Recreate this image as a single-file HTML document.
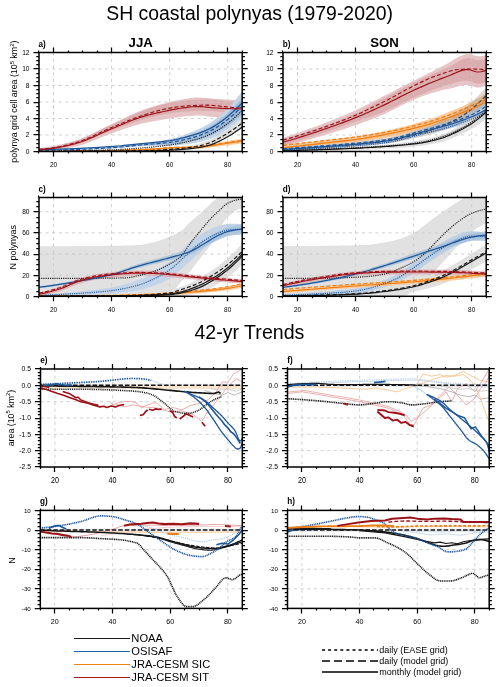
<!DOCTYPE html><html><head><meta charset="utf-8"><style>html,body{margin:0;padding:0;background:#fff}svg{display:block;will-change:transform}</style></head><body>
<svg width="500" height="687" viewBox="0 0 500 687" font-family='"Liberation Sans", sans-serif' fill="#000">
<rect width="500" height="687" fill="#fff"/>
<defs>
<clipPath id="cla"><rect x="39.0" y="52.5" width="203.20" height="99.00"/></clipPath>
<clipPath id="clb"><rect x="283.0" y="52.5" width="203.20" height="99.00"/></clipPath>
<clipPath id="clc"><rect x="39.0" y="197.5" width="203.20" height="98.80"/></clipPath>
<clipPath id="cld"><rect x="283.0" y="197.5" width="203.20" height="98.80"/></clipPath>
<clipPath id="cle"><rect x="40.5" y="369.0" width="201.80" height="98.00"/></clipPath>
<clipPath id="clf"><rect x="287.5" y="369.0" width="201.70" height="98.00"/></clipPath>
<clipPath id="clg"><rect x="40.3" y="510.4" width="202.00" height="98.00"/></clipPath>
<clipPath id="clh"><rect x="287.5" y="510.4" width="201.70" height="98.00"/></clipPath>
</defs>
<text x="249.6" y="20.4" font-size="19.4" text-anchor="middle">SH coastal polynyas (1979-2020)</text>
<text x="249.4" y="339" font-size="19.6" text-anchor="middle">42-yr Trends</text>
<text x="140.7" y="46.8" font-size="13.2" font-weight="bold" text-anchor="middle">JJA</text>
<text x="384.6" y="46.8" font-size="13.2" font-weight="bold" text-anchor="middle">SON</text>
<g clip-path="url(#cla)">
<path d="M39.00 148.20L41.57 147.90L44.14 147.55L46.72 147.17L49.29 146.76L51.86 146.32L54.43 145.86L57.01 145.35L59.58 144.81L62.15 144.22L64.72 143.59L67.29 142.93L69.87 142.23L72.44 141.49L75.01 140.72L77.58 139.91L80.15 139.01L82.73 138.02L85.30 136.95L87.87 135.81L90.44 134.62L93.02 133.39L95.59 132.12L98.16 130.84L100.73 129.54L103.30 128.26L105.88 126.98L108.45 125.74L111.02 124.53L113.59 123.34L116.16 122.11L118.74 120.86L121.31 119.59L123.88 118.31L126.45 117.04L129.03 115.79L131.60 114.57L134.17 113.39L136.74 112.26L139.31 111.20L141.89 110.22L144.46 109.29L147.03 108.40L149.60 107.55L152.17 106.74L154.75 105.97L157.32 105.24L159.89 104.55L162.46 103.89L165.04 103.22L167.61 102.55L170.18 101.91L172.75 101.29L175.32 100.70L177.90 100.15L180.47 99.65L183.04 99.22L185.61 98.84L188.18 98.46L190.76 98.11L193.33 97.81L195.90 97.60L198.47 97.50L201.05 97.54L203.62 97.72L206.19 97.99L208.76 98.28L211.33 98.56L213.91 98.76L216.48 98.94L219.05 99.12L221.62 99.29L224.19 99.45L226.77 99.59L229.34 99.72L231.91 99.86L234.48 99.99L237.06 100.11L239.63 100.23L242.20 100.35L242.20 117.67L239.63 117.70L237.06 117.70L234.48 117.69L231.91 117.65L229.34 117.60L226.77 117.53L224.19 117.45L221.62 117.33L219.05 117.20L216.48 117.05L213.91 116.89L211.33 116.69L208.76 116.43L206.19 116.14L203.62 115.87L201.05 115.67L198.47 115.58L195.90 115.61L193.33 115.73L190.76 115.92L188.18 116.14L185.61 116.37L183.04 116.59L180.47 116.86L177.90 117.17L175.32 117.53L172.75 117.92L170.18 118.34L167.61 118.78L165.04 119.23L162.46 119.69L159.89 120.14L157.32 120.58L154.75 121.03L152.17 121.49L149.60 121.96L147.03 122.46L144.46 123.00L141.89 123.58L139.31 124.23L136.74 124.93L134.17 125.68L131.60 126.47L129.03 127.29L126.45 128.15L123.88 129.02L121.31 129.92L118.74 130.82L116.16 131.73L113.59 132.64L111.02 133.54L108.45 134.49L105.88 135.49L103.30 136.53L100.73 137.59L98.16 138.67L95.59 139.75L93.02 140.81L90.44 141.84L87.87 142.83L85.30 143.77L82.73 144.64L80.15 145.42L77.58 146.11L75.01 146.72L72.44 147.29L69.87 147.82L67.29 148.32L64.72 148.79L62.15 149.22L59.58 149.61L57.01 149.96L54.43 150.27L51.86 150.55L49.29 150.80L46.72 151.02L44.14 151.22L41.57 151.38L39.00 151.50Z" fill="#e7c5c7"/>
<path d="M39.00 148.61L41.57 148.34L44.14 148.02L46.72 147.66L49.29 147.26L51.86 146.84L54.43 146.38L57.01 145.88L59.58 145.32L62.15 144.72L64.72 144.07L67.29 143.37L69.87 142.64L72.44 141.88L75.01 141.08L77.58 140.25L80.15 139.34L82.73 138.33L85.30 137.25L87.87 136.11L90.44 134.91L93.02 133.68L95.59 132.41L98.16 131.13L100.73 129.85L103.30 128.58L105.88 127.33L108.45 126.11L111.02 124.93L113.59 123.79L116.16 122.63L118.74 121.46L121.31 120.28L123.88 119.10L126.45 117.93L129.03 116.78L131.60 115.64L134.17 114.53L136.74 113.46L139.31 112.43L141.89 111.44L144.46 110.48L147.03 109.53L149.60 108.61L152.17 107.71L154.75 106.86L157.32 106.05L159.89 105.30L162.46 104.62L165.04 104.00L167.61 103.43L170.18 102.87L172.75 102.34L175.32 101.85L177.90 101.40L180.47 101.01L183.04 100.70L185.61 100.46L188.18 100.23L190.76 100.02L193.33 99.83L195.90 99.67L198.47 99.53L201.05 99.43L203.62 99.38L206.19 99.36L208.76 99.42L211.33 99.56L213.91 99.76L216.48 100.00L219.05 100.28L221.62 100.56L224.19 100.84L226.77 101.09L229.34 101.31L231.91 101.53L234.48 101.75L237.06 101.97L239.63 102.19L242.20 102.41L242.20 113.96L239.63 113.74L237.06 113.52L234.48 113.30L231.91 113.08L229.34 112.86L226.77 112.64L224.19 112.39L221.62 112.11L219.05 111.83L216.48 111.55L213.91 111.31L211.33 111.11L208.76 110.97L206.19 110.91L203.62 110.92L201.05 110.97L198.47 111.03L195.90 111.12L193.33 111.22L190.76 111.34L188.18 111.46L185.61 111.59L183.04 111.72L180.47 111.92L177.90 112.18L175.32 112.50L172.75 112.86L170.18 113.26L167.61 113.68L165.04 114.12L162.46 114.60L159.89 115.15L157.32 115.74L154.75 116.38L152.17 117.05L149.60 117.74L147.03 118.45L144.46 119.17L141.89 119.90L139.31 120.65L136.74 121.44L134.17 122.26L131.60 123.13L129.03 124.01L126.45 124.93L123.88 125.86L121.31 126.81L118.74 127.77L116.16 128.74L113.59 129.70L111.02 130.67L108.45 131.68L105.88 132.74L103.30 133.84L100.73 134.97L98.16 136.11L95.59 137.25L93.02 138.37L90.44 139.47L87.87 140.53L85.30 141.53L82.73 142.47L80.15 143.33L77.58 144.09L75.01 144.77L72.44 145.43L69.87 146.05L67.29 146.63L64.72 147.18L62.15 147.68L59.58 148.14L57.01 148.55L54.43 148.91L51.86 149.22L49.29 149.50L46.72 149.75L44.14 149.96L41.57 150.13L39.00 150.26Z" fill="#d9a6a9" fill-opacity="0.8"/>
<path d="M39.00 150.01L41.57 150.01L44.14 150.00L46.72 149.97L49.29 149.94L51.86 149.90L54.43 149.85L57.01 149.79L59.58 149.72L62.15 149.65L64.72 149.57L67.29 149.48L69.87 149.38L72.44 149.28L75.01 149.17L77.58 149.06L80.15 148.94L82.73 148.81L85.30 148.68L87.87 148.55L90.44 148.41L93.02 148.26L95.59 148.12L98.16 147.97L100.73 147.81L103.30 147.65L105.88 147.49L108.45 147.33L111.02 147.16L113.59 146.98L116.16 146.75L118.74 146.48L121.31 146.18L123.88 145.85L126.45 145.50L129.03 145.14L131.60 144.76L134.17 144.39L136.74 144.02L139.31 143.66L141.89 143.33L144.46 143.00L147.03 142.69L149.60 142.38L152.17 142.08L154.75 141.76L157.32 141.43L159.89 141.04L162.46 140.61L165.04 140.13L167.61 139.60L170.18 139.01L172.75 138.36L175.32 137.65L177.90 136.87L180.47 136.05L183.04 135.18L185.61 134.28L188.18 133.34L190.76 132.37L193.33 131.37L195.90 130.33L198.47 129.22L201.05 127.99L203.62 126.66L206.19 125.23L208.76 123.72L211.33 122.11L213.91 120.35L216.48 118.44L219.05 116.38L221.62 114.19L224.19 111.86L226.77 109.37L229.34 106.71L231.91 103.90L234.48 100.95L237.06 97.85L239.63 94.63L242.20 91.27L242.20 120.98L239.63 122.88L237.06 124.69L234.48 126.41L231.91 128.04L229.34 129.60L226.77 131.09L224.19 132.52L221.62 133.90L219.05 135.21L216.48 136.44L213.91 137.57L211.33 138.58L208.76 139.47L206.19 140.30L203.62 141.06L201.05 141.76L198.47 142.37L195.90 142.88L193.33 143.33L190.76 143.75L188.18 144.15L185.61 144.51L183.04 144.83L180.47 145.10L177.90 145.33L175.32 145.50L172.75 145.62L170.18 145.70L167.61 145.73L165.04 145.75L162.46 145.76L159.89 145.77L157.32 145.80L154.75 145.85L152.17 145.91L149.60 145.97L147.03 146.05L144.46 146.13L141.89 146.24L139.31 146.38L136.74 146.54L134.17 146.73L131.60 146.94L129.03 147.15L126.45 147.37L123.88 147.60L121.31 147.81L118.74 148.01L116.16 148.19L113.59 148.35L111.02 148.47L108.45 148.59L105.88 148.70L103.30 148.81L100.73 148.92L98.16 149.03L95.59 149.13L93.02 149.24L90.44 149.34L87.87 149.44L85.30 149.54L82.73 149.63L80.15 149.72L77.58 149.81L75.01 149.89L72.44 149.97L69.87 150.04L67.29 150.11L64.72 150.18L62.15 150.24L59.58 150.29L57.01 150.34L54.43 150.38L51.86 150.42L49.29 150.45L46.72 150.48L44.14 150.50L41.57 150.51L39.00 150.51Z" fill="#c4d5e8"/>
<path d="M39.00 150.10L41.57 150.09L44.14 150.08L46.72 150.06L49.29 150.02L51.86 149.99L54.43 149.94L57.01 149.88L59.58 149.82L62.15 149.75L64.72 149.67L67.29 149.59L69.87 149.50L72.44 149.40L75.01 149.30L77.58 149.19L80.15 149.08L82.73 148.96L85.30 148.84L87.87 148.71L90.44 148.58L93.02 148.44L95.59 148.30L98.16 148.16L100.73 148.02L103.30 147.87L105.88 147.72L108.45 147.56L111.02 147.41L113.59 147.24L116.16 147.02L118.74 146.77L121.31 146.49L123.88 146.18L126.45 145.86L129.03 145.52L131.60 145.18L134.17 144.84L136.74 144.51L139.31 144.20L141.89 143.90L144.46 143.62L147.03 143.36L149.60 143.10L152.17 142.84L154.75 142.58L157.32 142.30L159.89 142.00L162.46 141.65L165.04 141.27L167.61 140.85L170.18 140.39L172.75 139.86L175.32 139.27L177.90 138.63L180.47 137.93L183.04 137.19L185.61 136.41L188.18 135.59L190.76 134.74L193.33 133.85L195.90 132.93L198.47 131.94L201.05 130.84L203.62 129.63L206.19 128.34L208.76 126.97L211.33 125.51L213.91 123.91L216.48 122.16L219.05 120.28L221.62 118.29L224.19 116.19L226.77 113.95L229.34 111.58L231.91 109.08L234.48 106.46L237.06 103.72L239.63 100.86L242.20 97.88L242.20 114.38L239.63 116.65L237.06 118.83L234.48 120.90L231.91 122.87L229.34 124.74L226.77 126.51L224.19 128.20L221.62 129.79L219.05 131.30L216.48 132.71L213.91 134.01L211.33 135.18L208.76 136.22L206.19 137.19L203.62 138.09L201.05 138.91L198.47 139.65L195.90 140.28L193.33 140.84L190.76 141.38L188.18 141.90L185.61 142.38L183.04 142.82L180.47 143.22L177.90 143.57L175.32 143.87L172.75 144.12L170.18 144.32L167.61 144.48L165.04 144.60L162.46 144.72L159.89 144.82L157.32 144.92L154.75 145.03L152.17 145.15L149.60 145.26L147.03 145.38L144.46 145.52L141.89 145.67L139.31 145.85L136.74 146.05L134.17 146.27L131.60 146.51L129.03 146.76L126.45 147.01L123.88 147.26L121.31 147.50L118.74 147.72L116.16 147.92L113.59 148.09L111.02 148.23L108.45 148.35L105.88 148.47L103.30 148.59L100.73 148.71L98.16 148.83L95.59 148.95L93.02 149.06L90.44 149.17L87.87 149.28L85.30 149.38L82.73 149.48L80.15 149.58L77.58 149.67L75.01 149.76L72.44 149.85L69.87 149.93L67.29 150.00L64.72 150.07L62.15 150.14L59.58 150.19L57.01 150.25L54.43 150.29L51.86 150.33L49.29 150.37L46.72 150.39L44.14 150.41L41.57 150.42L39.00 150.43Z" fill="#93b2d4" fill-opacity="0.75"/>
<path d="M39.00 150.92L41.57 150.92L44.14 150.92L46.72 150.92L49.29 150.91L51.86 150.91L54.43 150.90L57.01 150.89L59.58 150.88L62.15 150.87L64.72 150.86L67.29 150.85L69.87 150.83L72.44 150.82L75.01 150.80L77.58 150.78L80.15 150.77L82.73 150.74L85.30 150.72L87.87 150.70L90.44 150.68L93.02 150.65L95.59 150.62L98.16 150.59L100.73 150.56L103.30 150.53L105.88 150.50L108.45 150.47L111.02 150.43L113.59 150.39L116.16 150.36L118.74 150.32L121.31 150.28L123.88 150.23L126.45 150.19L129.03 150.15L131.60 150.10L134.17 150.05L136.74 150.00L139.31 149.95L141.89 149.90L144.46 149.82L147.03 149.72L149.60 149.60L152.17 149.46L154.75 149.30L157.32 149.13L159.89 148.95L162.46 148.76L165.04 148.56L167.61 148.36L170.18 148.16L172.75 147.93L175.32 147.67L177.90 147.37L180.47 147.05L183.04 146.69L185.61 146.29L188.18 145.86L190.76 145.40L193.33 144.91L195.90 144.37L198.47 143.76L201.05 143.03L203.62 142.21L206.19 141.30L208.76 140.31L211.33 139.24L213.91 137.96L216.48 136.49L219.05 134.91L221.62 133.27L224.19 131.61L226.77 129.88L229.34 128.09L231.91 126.23L234.48 124.30L237.06 122.30L239.63 120.23L242.20 118.09L242.20 127.99L239.63 129.74L237.06 131.44L234.48 133.07L231.91 134.63L229.34 136.14L226.77 137.59L224.19 138.99L221.62 140.32L219.05 141.65L216.48 142.93L213.91 144.12L211.33 145.13L208.76 145.93L206.19 146.66L203.62 147.30L201.05 147.86L198.47 148.32L195.90 148.68L193.33 148.96L190.76 149.22L188.18 149.45L185.61 149.66L183.04 149.85L180.47 150.03L177.90 150.20L175.32 150.35L172.75 150.50L170.18 150.64L167.61 150.79L165.04 150.93L162.46 151.06L159.89 151.19L157.32 151.32L154.75 151.43L152.17 151.53L149.60 151.61L147.03 151.68L144.46 151.72L141.89 151.75L139.31 151.75L136.74 151.76L134.17 151.76L131.60 151.76L129.03 151.76L126.45 151.76L123.88 151.76L121.31 151.76L118.74 151.76L116.16 151.76L113.59 151.76L111.02 151.76L108.45 151.76L105.88 151.76L103.30 151.76L100.73 151.76L98.16 151.76L95.59 151.76L93.02 151.76L90.44 151.76L87.87 151.76L85.30 151.76L82.73 151.76L80.15 151.76L77.58 151.76L75.01 151.75L72.44 151.75L69.87 151.75L67.29 151.75L64.72 151.75L62.15 151.75L59.58 151.75L57.01 151.75L54.43 151.75L51.86 151.75L49.29 151.75L46.72 151.75L44.14 151.75L41.57 151.75L39.00 151.75Z" fill="#e0e0e0"/>
<path d="M39.00 150.92L41.57 150.92L44.14 150.92L46.72 150.91L49.29 150.90L51.86 150.88L54.43 150.87L57.01 150.85L59.58 150.83L62.15 150.80L64.72 150.78L67.29 150.75L69.87 150.72L72.44 150.68L75.01 150.65L77.58 150.61L80.15 150.57L82.73 150.53L85.30 150.49L87.87 150.44L90.44 150.39L93.02 150.35L95.59 150.30L98.16 150.24L100.73 150.19L103.30 150.14L105.88 150.08L108.45 150.02L111.02 149.97L113.59 149.91L116.16 149.84L118.74 149.77L121.31 149.69L123.88 149.60L126.45 149.51L129.03 149.41L131.60 149.31L134.17 149.19L136.74 149.08L139.31 148.96L141.89 148.83L144.46 148.69L147.03 148.56L149.60 148.41L152.17 148.26L154.75 148.10L157.32 147.94L159.89 147.75L162.46 147.48L165.04 147.19L167.61 146.94L170.18 146.77L172.75 146.65L175.32 146.55L177.90 146.47L180.47 146.39L183.04 146.31L185.61 146.23L188.18 146.15L190.76 146.05L193.33 145.93L195.90 145.79L198.47 145.58L201.05 145.29L203.62 144.95L206.19 144.58L208.76 144.20L211.33 143.82L213.91 143.40L216.48 142.96L219.05 142.51L221.62 142.06L224.19 141.62L226.77 141.19L229.34 140.75L231.91 140.31L234.48 139.87L237.06 139.43L239.63 138.99L242.20 138.55L242.20 143.50L239.63 143.83L237.06 144.17L234.48 144.50L231.91 144.83L229.34 145.17L226.77 145.50L224.19 145.83L221.62 146.17L219.05 146.51L216.48 146.86L213.91 147.21L211.33 147.52L208.76 147.81L206.19 148.10L203.62 148.38L201.05 148.63L198.47 148.83L195.90 148.95L193.33 149.01L190.76 149.05L188.18 149.07L185.61 149.09L183.04 149.10L180.47 149.11L177.90 149.12L175.32 149.15L172.75 149.19L170.18 149.26L167.61 149.37L165.04 149.58L162.46 149.82L159.89 150.04L157.32 150.18L154.75 150.29L152.17 150.40L149.60 150.50L147.03 150.60L144.46 150.69L141.89 150.78L139.31 150.86L136.74 150.94L134.17 151.01L131.60 151.07L129.03 151.13L126.45 151.19L123.88 151.24L121.31 151.28L118.74 151.32L116.16 151.35L113.59 151.38L111.02 151.40L108.45 151.42L105.88 151.44L103.30 151.46L100.73 151.48L98.16 151.49L95.59 151.51L93.02 151.53L90.44 151.55L87.87 151.57L85.30 151.58L82.73 151.60L80.15 151.61L77.58 151.63L75.01 151.64L72.44 151.66L69.87 151.67L67.29 151.68L64.72 151.69L62.15 151.70L59.58 151.71L57.01 151.72L54.43 151.73L51.86 151.73L49.29 151.74L46.72 151.74L44.14 151.75L41.57 151.75L39.00 151.75Z" fill="#f9cd9f"/>
<path d="M53.51 52.50V151.50M111.57 52.50V151.50M169.63 52.50V151.50M227.69 52.50V151.50M39.00 135.00H242.20M39.00 118.50H242.20M39.00 102.00H242.20M39.00 85.50H242.20M39.00 69.00H242.20" stroke="#c8c8c8" stroke-width="0.85" stroke-dasharray="3 3.6" fill="none"/>
<path d="M39.00 151.34L41.57 151.33L44.14 151.33L46.72 151.33L49.29 151.32L51.86 151.31L54.43 151.30L57.01 151.28L59.58 151.27L62.15 151.25L64.72 151.23L67.29 151.21L69.87 151.19L72.44 151.17L75.01 151.15L77.58 151.12L80.15 151.09L82.73 151.06L85.30 151.03L87.87 151.00L90.44 150.97L93.02 150.94L95.59 150.90L98.16 150.87L100.73 150.83L103.30 150.80L105.88 150.76L108.45 150.72L111.02 150.68L113.59 150.64L116.16 150.60L118.74 150.54L121.31 150.48L123.88 150.42L126.45 150.35L129.03 150.27L131.60 150.19L134.17 150.10L136.74 150.01L139.31 149.91L141.89 149.80L144.46 149.69L147.03 149.58L149.60 149.46L152.17 149.33L154.75 149.20L157.32 149.06L159.89 148.89L162.46 148.65L165.04 148.39L167.61 148.16L170.18 148.01L172.75 147.92L175.32 147.85L177.90 147.79L180.47 147.75L183.04 147.70L185.61 147.66L188.18 147.61L190.76 147.55L193.33 147.47L195.90 147.37L198.47 147.20L201.05 146.96L203.62 146.67L206.19 146.34L208.76 146.00L211.33 145.67L213.91 145.30L216.48 144.91L219.05 144.51L221.62 144.11L224.19 143.73L226.77 143.34L229.34 142.96L231.91 142.57L234.48 142.18L237.06 141.80L239.63 141.41L242.20 141.02" fill="none" stroke="#ee7d14" stroke-width="1.2" stroke-linejoin="round"/>
<path d="M39.00 151.09L41.57 151.09L44.14 151.08L46.72 151.08L49.29 151.07L51.86 151.06L54.43 151.04L57.01 151.03L59.58 151.01L62.15 150.99L64.72 150.97L67.29 150.95L69.87 150.93L72.44 150.90L75.01 150.87L77.58 150.84L80.15 150.81L82.73 150.78L85.30 150.75L87.87 150.71L90.44 150.68L93.02 150.64L95.59 150.60L98.16 150.56L100.73 150.52L103.30 150.48L105.88 150.44L108.45 150.40L111.02 150.35L113.59 150.31L116.16 150.26L118.74 150.20L121.31 150.14L123.88 150.07L126.45 149.99L129.03 149.91L131.60 149.82L134.17 149.73L136.74 149.63L139.31 149.53L141.89 149.42L144.46 149.31L147.03 149.18L149.60 149.06L152.17 148.93L154.75 148.79L157.32 148.65L159.89 148.48L162.46 148.24L165.04 147.97L167.61 147.74L170.18 147.60L172.75 147.51L175.32 147.44L177.90 147.38L180.47 147.34L183.04 147.29L185.61 147.25L188.18 147.20L190.76 147.14L193.33 147.06L195.90 146.96L198.47 146.79L201.05 146.54L203.62 146.23L206.19 145.88L208.76 145.52L211.33 145.16L213.91 144.76L216.48 144.33L219.05 143.88L221.62 143.46L224.19 143.05L226.77 142.65L229.34 142.26L231.91 141.87L234.48 141.48L237.06 141.10L239.63 140.73L242.20 140.36" fill="none" stroke="#ee7d14" stroke-width="1.2" stroke-dasharray="4 2.2" stroke-linejoin="round"/>
<path d="M39.00 151.50L41.57 151.50L44.14 151.50L46.72 151.50L49.29 151.50L51.86 151.49L54.43 151.49L57.01 151.49L59.58 151.48L62.15 151.48L64.72 151.47L67.29 151.47L69.87 151.46L72.44 151.46L75.01 151.45L77.58 151.44L80.15 151.43L82.73 151.42L85.30 151.42L87.87 151.41L90.44 151.40L93.02 151.39L95.59 151.37L98.16 151.36L100.73 151.35L103.30 151.34L105.88 151.32L108.45 151.31L111.02 151.29L113.59 151.28L116.16 151.26L118.74 151.25L121.31 151.23L123.88 151.21L126.45 151.20L129.03 151.18L131.60 151.16L134.17 151.14L136.74 151.12L139.31 151.10L141.89 151.08L144.46 151.04L147.03 151.00L149.60 150.95L152.17 150.88L154.75 150.81L157.32 150.73L159.89 150.65L162.46 150.55L165.04 150.45L167.61 150.35L170.18 150.24L172.75 150.11L175.32 149.97L177.90 149.80L180.47 149.61L183.04 149.39L185.61 149.16L188.18 148.91L190.76 148.63L193.33 148.33L195.90 148.02L198.47 147.64L201.05 147.17L203.62 146.63L206.19 146.01L208.76 145.33L211.33 144.57L213.91 143.64L216.48 142.55L219.05 141.35L221.62 140.08L224.19 138.75L226.77 137.34L229.34 135.83L231.91 134.24L234.48 132.56L237.06 130.79L239.63 128.94L242.20 127.00" fill="none" stroke="#161616" stroke-width="1.2" stroke-linejoin="round"/>
<path d="M39.00 151.34L41.57 151.33L44.14 151.33L46.72 151.33L49.29 151.33L51.86 151.33L54.43 151.32L57.01 151.32L59.58 151.32L62.15 151.31L64.72 151.31L67.29 151.30L69.87 151.29L72.44 151.29L75.01 151.28L77.58 151.27L80.15 151.26L82.73 151.25L85.30 151.24L87.87 151.23L90.44 151.22L93.02 151.20L95.59 151.19L98.16 151.18L100.73 151.16L103.30 151.15L105.88 151.13L108.45 151.11L111.02 151.10L113.59 151.08L116.16 151.06L118.74 151.04L121.31 151.02L123.88 151.00L126.45 150.98L129.03 150.95L131.60 150.93L134.17 150.90L136.74 150.88L139.31 150.85L141.89 150.82L144.46 150.77L147.03 150.70L149.60 150.60L152.17 150.49L154.75 150.37L157.32 150.23L159.89 150.07L162.46 149.91L165.04 149.75L167.61 149.57L170.18 149.40L172.75 149.21L175.32 149.01L177.90 148.78L180.47 148.54L183.04 148.27L185.61 147.98L188.18 147.66L190.76 147.31L193.33 146.93L195.90 146.53L198.47 146.04L201.05 145.45L203.62 144.75L206.19 143.98L208.76 143.12L211.33 142.18L213.91 141.04L216.48 139.71L219.05 138.28L221.62 136.80L224.19 135.30L226.77 133.74L229.34 132.12L231.91 130.43L234.48 128.68L237.06 126.87L239.63 124.99L242.20 123.04" fill="none" stroke="#161616" stroke-width="1.2" stroke-dasharray="4 2.2" stroke-linejoin="round"/>
<path d="M39.00 151.09L41.57 151.09L44.14 151.08L46.72 151.07L49.29 151.06L51.86 151.04L54.43 151.02L57.01 150.99L59.58 150.97L62.15 150.94L64.72 150.90L67.29 150.87L69.87 150.83L72.44 150.78L75.01 150.74L77.58 150.69L80.15 150.64L82.73 150.59L85.30 150.53L87.87 150.47L90.44 150.41L93.02 150.35L95.59 150.29L98.16 150.22L100.73 150.15L103.30 150.08L105.88 150.01L108.45 149.94L111.02 149.87L113.59 149.78L116.16 149.68L118.74 149.56L121.31 149.42L123.88 149.26L126.45 149.10L129.03 148.92L131.60 148.73L134.17 148.54L136.74 148.34L139.31 148.14L141.89 147.93L144.46 147.72L147.03 147.50L149.60 147.27L152.17 147.03L154.75 146.77L157.32 146.50L159.89 146.22L162.46 145.92L165.04 145.60L167.61 145.26L170.18 144.90L172.75 144.52L175.32 144.10L177.90 143.64L180.47 143.15L183.04 142.62L185.61 142.06L188.18 141.47L190.76 140.85L193.33 140.19L195.90 139.50L198.47 138.74L201.05 137.89L203.62 136.95L206.19 135.93L208.76 134.84L211.33 133.68L213.91 132.39L216.48 130.96L219.05 129.41L221.62 127.75L224.19 125.98L226.77 124.08L229.34 122.07L231.91 119.95L234.48 117.70L237.06 115.33L239.63 112.85L242.20 110.25" fill="none" stroke="#161616" stroke-width="1.2" stroke-dasharray="1.1 1.1" stroke-linejoin="round"/>
<path d="M39.00 149.44L41.57 149.43L44.14 149.42L46.72 149.39L49.29 149.36L51.86 149.31L54.43 149.26L57.01 149.20L59.58 149.13L62.15 149.05L64.72 148.96L67.29 148.87L69.87 148.77L72.44 148.67L75.01 148.56L77.58 148.44L80.15 148.32L82.73 148.19L85.30 148.06L87.87 147.92L90.44 147.78L93.02 147.64L95.59 147.50L98.16 147.35L100.73 147.20L103.30 147.05L105.88 146.89L108.45 146.74L111.02 146.58L113.59 146.42L116.16 146.22L118.74 146.00L121.31 145.75L123.88 145.49L126.45 145.22L129.03 144.93L131.60 144.64L134.17 144.36L136.74 144.07L139.31 143.80L141.89 143.53L144.46 143.28L147.03 143.05L149.60 142.81L152.17 142.58L154.75 142.34L157.32 142.09L159.89 141.83L162.46 141.54L165.04 141.24L167.61 140.90L170.18 140.53L172.75 140.10L175.32 139.61L177.90 139.07L180.47 138.47L183.04 137.83L185.61 137.16L188.18 136.44L190.76 135.69L193.33 134.92L195.90 134.13L198.47 133.29L201.05 132.37L203.62 131.38L206.19 130.30L208.76 129.13L211.33 127.85L213.91 126.40L216.48 124.77L219.05 123.01L221.62 121.16L224.19 119.23L226.77 117.20L229.34 115.07L231.91 112.83L234.48 110.49L237.06 108.04L239.63 105.48L242.20 102.82" fill="none" stroke="#1d5699" stroke-width="1.25" stroke-linejoin="round"/>
<path d="M39.00 150.26L41.57 150.26L44.14 150.25L46.72 150.22L49.29 150.20L51.86 150.16L54.43 150.12L57.01 150.06L59.58 150.01L62.15 149.94L64.72 149.87L67.29 149.79L69.87 149.71L72.44 149.62L75.01 149.53L77.58 149.43L80.15 149.33L82.73 149.22L85.30 149.11L87.87 148.99L90.44 148.87L93.02 148.75L95.59 148.63L98.16 148.50L100.73 148.37L103.30 148.23L105.88 148.09L108.45 147.96L111.02 147.82L113.59 147.66L116.16 147.47L118.74 147.25L121.31 147.00L123.88 146.72L126.45 146.44L129.03 146.14L131.60 145.85L134.17 145.56L136.74 145.28L139.31 145.02L141.89 144.78L144.46 144.57L147.03 144.37L149.60 144.18L152.17 143.99L154.75 143.81L157.32 143.61L159.89 143.41L162.46 143.18L165.04 142.94L167.61 142.66L170.18 142.36L172.75 141.99L175.32 141.57L177.90 141.10L180.47 140.58L183.04 140.01L185.61 139.40L188.18 138.75L190.76 138.06L193.33 137.35L195.90 136.61L198.47 135.79L201.05 134.88L203.62 133.86L206.19 132.77L208.76 131.59L211.33 130.35L213.91 128.96L216.48 127.44L219.05 125.79L221.62 124.04L224.19 122.19L226.77 120.23L229.34 118.16L231.91 115.97L234.48 113.68L237.06 111.27L239.63 108.75L242.20 106.12" fill="none" stroke="#1d5699" stroke-width="1.2" stroke-dasharray="4 2.2" stroke-linejoin="round"/>
<path d="M39.00 149.85L41.57 149.64L44.14 149.38L46.72 149.10L49.29 148.78L51.86 148.43L54.43 148.06L57.01 147.66L59.58 147.21L62.15 146.72L64.72 146.19L67.29 145.63L69.87 145.03L72.44 144.39L75.01 143.72L77.58 143.01L80.15 142.22L82.73 141.33L85.30 140.36L87.87 139.32L90.44 138.23L93.02 137.10L95.59 135.93L98.16 134.75L100.73 133.57L103.30 132.39L105.88 131.24L108.45 130.11L111.02 129.04L113.59 127.99L116.16 126.92L118.74 125.84L121.31 124.75L123.88 123.67L126.45 122.59L129.03 121.54L131.60 120.52L134.17 119.53L136.74 118.60L139.31 117.72L141.89 116.90L144.46 116.14L147.03 115.43L149.60 114.76L152.17 114.12L154.75 113.50L157.32 112.91L159.89 112.35L162.46 111.79L165.04 111.22L167.61 110.67L170.18 110.12L172.75 109.60L175.32 109.11L177.90 108.66L180.47 108.26L183.04 107.91L185.61 107.60L188.18 107.30L190.76 107.02L193.33 106.77L195.90 106.61L198.47 106.54L201.05 106.60L203.62 106.80L206.19 107.06L208.76 107.36L211.33 107.62L213.91 107.82L216.48 108.00L219.05 108.16L221.62 108.31L224.19 108.45L226.77 108.56L229.34 108.66L231.91 108.75L234.48 108.84L237.06 108.91L239.63 108.97L242.20 109.01" fill="none" stroke="#9c1219" stroke-width="1.15" stroke-linejoin="round"/>
<path d="M39.00 149.44L41.57 149.24L44.14 148.99L46.72 148.70L49.29 148.38L51.86 148.03L54.43 147.65L57.01 147.22L59.58 146.73L62.15 146.20L64.72 145.62L67.29 145.00L69.87 144.34L72.44 143.65L75.01 142.93L77.58 142.17L80.15 141.33L82.73 140.40L85.30 139.39L87.87 138.32L90.44 137.19L93.02 136.03L95.59 134.83L98.16 133.62L100.73 132.41L103.30 131.21L105.88 130.03L108.45 128.89L111.02 127.80L113.59 126.75L116.16 125.68L118.74 124.61L121.31 123.54L123.88 122.48L126.45 121.43L129.03 120.40L131.60 119.38L134.17 118.40L136.74 117.45L139.31 116.54L141.89 115.67L144.46 114.83L147.03 113.99L149.60 113.17L152.17 112.38L154.75 111.62L157.32 110.90L159.89 110.22L162.46 109.61L165.04 109.06L167.61 108.56L170.18 108.07L172.75 107.60L175.32 107.17L177.90 106.79L180.47 106.47L183.04 106.21L185.61 106.02L188.18 105.84L190.76 105.68L193.33 105.53L195.90 105.39L198.47 105.28L201.05 105.20L203.62 105.15L206.19 105.14L208.76 105.19L211.33 105.33L213.91 105.53L216.48 105.78L219.05 106.05L221.62 106.34L224.19 106.62L226.77 106.87L229.34 107.09L231.91 107.31L234.48 107.53L237.06 107.75L239.63 107.97L242.20 108.19" fill="none" stroke="#9c1219" stroke-width="1.15" stroke-dasharray="4 2.2" stroke-linejoin="round"/>
</g>
<rect x="39.00" y="52.50" width="203.20" height="99.00" fill="none" stroke="#000" stroke-width="1.5"/>
<path d="M38.50 151.50v2.0M38.50 52.50v-2.0M53.50 151.50v5M53.50 52.50v-5M68.50 151.50v2.0M68.50 52.50v-2.0M82.50 151.50v2.0M82.50 52.50v-2.0M97.50 151.50v2.0M97.50 52.50v-2.0M111.50 151.50v5M111.50 52.50v-5M126.50 151.50v2.0M126.50 52.50v-2.0M140.50 151.50v2.0M140.50 52.50v-2.0M155.50 151.50v2.0M155.50 52.50v-2.0M169.50 151.50v5M169.50 52.50v-5M184.50 151.50v2.0M184.50 52.50v-2.0M198.50 151.50v2.0M198.50 52.50v-2.0M213.50 151.50v2.0M213.50 52.50v-2.0M227.50 151.50v5M227.50 52.50v-5M242.50 151.50v2.0M242.50 52.50v-2.0M39.00 151.50h-5.5M242.20 151.50h5.5M39.00 147.50h-2.7M242.20 147.50h2.7M39.00 143.50h-2.7M242.20 143.50h2.7M39.00 139.50h-2.7M242.20 139.50h2.7M39.00 134.50h-5.5M242.20 134.50h5.5M39.00 130.50h-2.7M242.20 130.50h2.7M39.00 126.50h-2.7M242.20 126.50h2.7M39.00 122.50h-2.7M242.20 122.50h2.7M39.00 118.50h-5.5M242.20 118.50h5.5M39.00 114.50h-2.7M242.20 114.50h2.7M39.00 110.50h-2.7M242.20 110.50h2.7M39.00 106.50h-2.7M242.20 106.50h2.7M39.00 102.50h-5.5M242.20 102.50h5.5M39.00 97.50h-2.7M242.20 97.50h2.7M39.00 93.50h-2.7M242.20 93.50h2.7M39.00 89.50h-2.7M242.20 89.50h2.7M39.00 85.50h-5.5M242.20 85.50h5.5M39.00 81.50h-2.7M242.20 81.50h2.7M39.00 77.50h-2.7M242.20 77.50h2.7M39.00 73.50h-2.7M242.20 73.50h2.7M39.00 68.50h-5.5M242.20 68.50h5.5M39.00 64.50h-2.7M242.20 64.50h2.7M39.00 60.50h-2.7M242.20 60.50h2.7M39.00 56.50h-2.7M242.20 56.50h2.7M39.00 52.50h-5.5M242.20 52.50h5.5" stroke="#000" stroke-width="1.25" fill="none"/>
<text transform="translate(53.51 166.90) scale(0.82 1)" font-size="7.9" text-anchor="middle">20</text>
<text transform="translate(111.57 166.90) scale(0.82 1)" font-size="7.9" text-anchor="middle">40</text>
<text transform="translate(169.63 166.90) scale(0.82 1)" font-size="7.9" text-anchor="middle">60</text>
<text transform="translate(227.69 166.90) scale(0.82 1)" font-size="7.9" text-anchor="middle">80</text>
<text x="29.50" y="153.88" font-size="6.6" text-anchor="end">0</text>
<text x="29.50" y="137.38" font-size="6.6" text-anchor="end">2</text>
<text x="29.50" y="120.88" font-size="6.6" text-anchor="end">4</text>
<text x="29.50" y="104.38" font-size="6.6" text-anchor="end">6</text>
<text x="29.50" y="87.88" font-size="6.6" text-anchor="end">8</text>
<text x="29.50" y="71.38" font-size="6.6" text-anchor="end">10</text>
<text x="29.50" y="54.88" font-size="6.6" text-anchor="end">12</text>
<g clip-path="url(#clb)">
<path d="M283.00 137.72L285.57 136.91L288.14 136.09L290.72 135.25L293.29 134.40L295.86 133.54L298.43 132.67L301.01 131.78L303.58 130.88L306.15 129.97L308.72 129.05L311.29 128.11L313.87 127.16L316.44 126.21L319.01 125.24L321.58 124.26L324.15 123.28L326.73 122.28L329.30 121.27L331.87 120.25L334.44 119.22L337.02 118.18L339.59 117.12L342.16 116.06L344.73 114.97L347.30 113.88L349.88 112.76L352.45 111.64L355.02 110.50L357.59 109.33L360.16 108.11L362.74 106.86L365.31 105.57L367.88 104.26L370.45 102.93L373.03 101.60L375.60 100.26L378.17 98.93L380.74 97.62L383.31 96.32L385.89 95.02L388.46 93.71L391.03 92.38L393.60 91.04L396.17 89.69L398.75 88.35L401.32 87.01L403.89 85.68L406.46 84.36L409.04 83.06L411.61 81.78L414.18 80.53L416.75 79.28L419.32 78.02L421.90 76.73L424.47 75.43L427.04 74.11L429.61 72.79L432.18 71.46L434.76 70.14L437.33 68.82L439.90 67.51L442.47 66.21L445.05 64.87L447.62 63.46L450.19 61.96L452.76 60.36L455.33 58.78L457.91 57.34L460.48 56.05L463.05 54.97L465.62 54.20L468.19 53.85L470.77 54.29L473.34 55.27L475.91 56.12L478.48 56.32L481.06 56.14L483.63 55.69L486.20 54.98L486.20 85.50L483.63 86.58L481.06 87.26L478.48 87.58L475.91 87.45L473.34 86.62L470.77 85.63L468.19 84.99L465.62 84.95L463.05 85.20L460.48 85.70L457.91 86.39L455.33 87.17L452.76 87.88L450.19 88.49L447.62 88.97L445.05 89.47L442.47 90.09L439.90 90.78L437.33 91.50L434.76 92.25L432.18 93.03L429.61 93.84L427.04 94.68L424.47 95.56L421.90 96.49L419.32 97.46L416.75 98.47L414.18 99.53L411.61 100.67L409.04 101.85L406.46 103.07L403.89 104.33L401.32 105.60L398.75 106.89L396.17 108.19L393.60 109.48L391.03 110.75L388.46 112.01L385.89 113.23L383.31 114.41L380.74 115.52L378.17 116.60L375.60 117.64L373.03 118.67L370.45 119.66L367.88 120.64L365.31 121.60L362.74 122.54L360.16 123.47L357.59 124.39L355.02 125.29L352.45 126.19L349.88 127.07L347.30 127.94L344.73 128.80L342.16 129.64L339.59 130.48L337.02 131.30L334.44 132.11L331.87 132.91L329.30 133.71L326.73 134.49L324.15 135.27L321.58 136.04L319.01 136.81L316.44 137.57L313.87 138.32L311.29 139.07L308.72 139.81L306.15 140.55L303.58 141.27L301.01 141.99L298.43 142.70L295.86 143.40L293.29 144.09L290.72 144.78L288.14 145.46L285.57 146.13L283.00 146.80Z" fill="#e7c5c7"/>
<path d="M283.00 139.37L285.57 138.63L288.14 137.88L290.72 137.11L293.29 136.33L295.86 135.54L298.43 134.73L301.01 133.91L303.58 133.08L306.15 132.23L308.72 131.37L311.29 130.50L313.87 129.61L316.44 128.71L319.01 127.81L321.58 126.89L324.15 125.96L326.73 125.02L329.30 124.07L331.87 123.11L334.44 122.13L337.02 121.14L339.59 120.13L342.16 119.11L344.73 118.08L347.30 117.03L349.88 115.97L352.45 114.89L355.02 113.79L357.59 112.65L360.16 111.42L362.74 110.13L365.31 108.77L367.88 107.37L370.45 105.94L373.03 104.50L375.60 103.05L378.17 101.62L380.74 100.21L383.31 98.83L385.89 97.47L388.46 96.10L391.03 94.71L393.60 93.32L396.17 91.93L398.75 90.54L401.32 89.16L403.89 87.80L406.46 86.46L409.04 85.14L411.61 83.86L414.18 82.62L416.75 81.42L419.32 80.23L421.90 79.04L424.47 77.87L427.04 76.71L429.61 75.55L432.18 74.41L434.76 73.27L437.33 72.14L439.90 71.02L442.47 69.91L445.05 68.77L447.62 67.57L450.19 66.28L452.76 64.84L455.33 63.32L457.91 61.84L460.48 60.47L463.05 59.33L465.62 58.51L468.19 58.10L470.77 58.45L473.34 59.32L475.91 60.06L478.48 60.13L481.06 59.81L483.63 59.19L486.20 58.28L486.20 82.20L483.63 83.08L481.06 83.59L478.48 83.77L475.91 83.51L473.34 82.57L470.77 81.46L468.19 80.74L465.62 80.64L463.05 80.84L460.48 81.28L457.91 81.90L455.33 82.62L452.76 83.40L450.19 84.17L447.62 84.86L445.05 85.58L442.47 86.39L439.90 87.27L437.33 88.18L434.76 89.11L432.18 90.08L429.61 91.07L427.04 92.08L424.47 93.12L421.90 94.17L419.32 95.25L416.75 96.34L414.18 97.44L411.61 98.58L409.04 99.77L406.46 100.98L403.89 102.21L401.32 103.45L398.75 104.71L396.17 105.96L393.60 107.20L391.03 108.42L388.46 109.62L385.89 110.78L383.31 111.90L380.74 112.93L378.17 113.91L375.60 114.85L373.03 115.76L370.45 116.65L367.88 117.52L365.31 118.39L362.74 119.27L360.16 120.16L357.59 121.07L355.02 122.00L352.45 122.94L349.88 123.87L347.30 124.78L344.73 125.69L342.16 126.58L339.59 127.47L337.02 128.34L334.44 129.20L331.87 130.06L329.30 130.91L326.73 131.75L324.15 132.59L321.58 133.42L319.01 134.24L316.44 135.06L313.87 135.87L311.29 136.69L308.72 137.49L306.15 138.29L303.58 139.08L301.01 139.86L298.43 140.63L295.86 141.40L293.29 142.16L290.72 142.92L288.14 143.67L285.57 144.41L283.00 145.15Z" fill="#d9a6a9" fill-opacity="0.8"/>
<path d="M283.00 145.31L285.57 145.01L288.14 144.71L290.72 144.41L293.29 144.11L295.86 143.80L298.43 143.50L301.01 143.19L303.58 142.88L306.15 142.56L308.72 142.25L311.29 141.94L313.87 141.62L316.44 141.30L319.01 140.98L321.58 140.66L324.15 140.34L326.73 140.01L329.30 139.70L331.87 139.38L334.44 139.07L337.02 138.77L339.59 138.46L342.16 138.14L344.73 137.82L347.30 137.49L349.88 137.14L352.45 136.78L355.02 136.41L357.59 136.01L360.16 135.59L362.74 135.15L365.31 134.69L367.88 134.22L370.45 133.74L373.03 133.24L375.60 132.73L378.17 132.21L380.74 131.68L383.31 131.14L385.89 130.59L388.46 130.04L391.03 129.47L393.60 128.90L396.17 128.32L398.75 127.72L401.32 127.11L403.89 126.48L406.46 125.84L409.04 125.18L411.61 124.51L414.18 123.81L416.75 123.10L419.32 122.37L421.90 121.62L424.47 120.85L427.04 120.05L429.61 119.21L432.18 118.32L434.76 117.40L437.33 116.44L439.90 115.45L442.47 114.45L445.05 113.43L447.62 112.39L450.19 111.35L452.76 110.30L455.33 109.24L457.91 108.15L460.48 107.04L463.05 105.91L465.62 104.73L468.19 103.52L470.77 102.26L473.34 100.96L475.91 99.58L478.48 98.12L481.06 96.60L483.63 95.03L486.20 93.42L486.20 109.92L483.63 111.11L481.06 112.26L478.48 113.37L475.91 114.42L473.34 115.41L470.77 116.33L468.19 117.21L465.62 118.05L463.05 118.87L460.48 119.67L457.91 120.46L455.33 121.23L452.76 122.00L450.19 122.77L447.62 123.56L445.05 124.35L442.47 125.16L439.90 125.96L437.33 126.74L434.76 127.51L432.18 128.25L429.61 128.96L427.04 129.62L424.47 130.25L421.90 130.86L419.32 131.45L416.75 132.03L414.18 132.59L411.61 133.14L409.04 133.67L406.46 134.20L403.89 134.71L401.32 135.22L398.75 135.71L396.17 136.19L393.60 136.67L391.03 137.14L388.46 137.60L385.89 138.06L383.31 138.52L380.74 138.97L378.17 139.41L375.60 139.84L373.03 140.26L370.45 140.67L367.88 141.07L365.31 141.45L362.74 141.82L360.16 142.17L357.59 142.50L355.02 142.82L352.45 143.12L349.88 143.40L347.30 143.66L344.73 143.92L342.16 144.16L339.59 144.40L337.02 144.64L334.44 144.88L331.87 145.12L329.30 145.36L326.73 145.62L324.15 145.88L321.58 146.14L319.01 146.41L316.44 146.67L313.87 146.94L311.29 147.21L308.72 147.48L306.15 147.75L303.58 148.02L301.01 148.29L298.43 148.57L295.86 148.85L293.29 149.13L290.72 149.41L288.14 149.69L285.57 149.98L283.00 150.26Z" fill="#f9cd9f"/>
<path d="M283.00 146.55L285.57 146.25L288.14 145.94L290.72 145.64L293.29 145.33L295.86 145.03L298.43 144.72L301.01 144.41L303.58 144.10L306.15 143.79L308.72 143.48L311.29 143.17L313.87 142.86L316.44 142.55L319.01 142.24L321.58 141.93L324.15 141.62L326.73 141.31L329.30 141.00L331.87 140.70L334.44 140.40L337.02 140.11L339.59 139.81L342.16 139.51L344.73 139.20L347.30 138.89L349.88 138.56L352.45 138.21L355.02 137.85L357.59 137.47L360.16 137.07L362.74 136.65L365.31 136.21L367.88 135.76L370.45 135.29L373.03 134.81L375.60 134.32L378.17 133.81L380.74 133.30L383.31 132.78L385.89 132.25L388.46 131.72L391.03 131.18L393.60 130.63L396.17 130.07L398.75 129.50L401.32 128.91L403.89 128.32L406.46 127.71L409.04 127.09L411.61 126.45L414.18 125.80L416.75 125.12L419.32 124.43L421.90 123.72L424.47 123.00L427.04 122.24L429.61 121.45L432.18 120.60L434.76 119.72L437.33 118.81L439.90 117.87L442.47 116.92L445.05 115.95L447.62 114.97L450.19 113.99L452.76 113.00L455.33 112.00L457.91 110.98L460.48 109.94L463.05 108.88L465.62 107.78L468.19 106.64L470.77 105.47L473.34 104.24L475.91 102.94L478.48 101.57L481.06 100.14L483.63 98.65L486.20 97.13L486.20 106.21L483.63 107.48L481.06 108.72L478.48 109.92L475.91 111.05L473.34 112.12L470.77 113.12L468.19 114.08L465.62 115.01L463.05 115.90L460.48 116.77L457.91 117.63L455.33 118.47L452.76 119.30L450.19 120.14L447.62 120.98L445.05 121.83L442.47 122.69L439.90 123.53L437.33 124.37L434.76 125.19L432.18 125.97L429.61 126.72L427.04 127.44L424.47 128.11L421.90 128.76L419.32 129.39L416.75 130.01L414.18 130.61L411.61 131.19L409.04 131.77L406.46 132.33L403.89 132.87L401.32 133.41L398.75 133.93L396.17 134.44L393.60 134.95L391.03 135.44L388.46 135.92L385.89 136.40L383.31 136.88L380.74 137.34L378.17 137.80L375.60 138.25L373.03 138.69L370.45 139.12L367.88 139.53L365.31 139.93L362.74 140.32L360.16 140.69L357.59 141.04L355.02 141.37L352.45 141.69L349.88 141.98L347.30 142.26L344.73 142.53L342.16 142.79L339.59 143.05L337.02 143.30L334.44 143.55L331.87 143.80L329.30 144.06L326.73 144.33L324.15 144.60L321.58 144.87L319.01 145.15L316.44 145.42L313.87 145.69L311.29 145.97L308.72 146.24L306.15 146.52L303.58 146.79L301.01 147.07L298.43 147.35L295.86 147.63L293.29 147.90L290.72 148.18L288.14 148.46L285.57 148.74L283.00 149.03Z" fill="#f5b070" fill-opacity="0.5"/>
<path d="M283.00 147.79L285.57 147.64L288.14 147.50L290.72 147.34L293.29 147.18L295.86 147.02L298.43 146.85L301.01 146.68L303.58 146.50L306.15 146.32L308.72 146.13L311.29 145.94L313.87 145.74L316.44 145.54L319.01 145.33L321.58 145.12L324.15 144.91L326.73 144.69L329.30 144.47L331.87 144.25L334.44 144.04L337.02 143.82L339.59 143.60L342.16 143.38L344.73 143.16L347.30 142.93L349.88 142.70L352.45 142.46L355.02 142.22L357.59 141.97L360.16 141.71L362.74 141.45L365.31 141.17L367.88 140.88L370.45 140.58L373.03 140.27L375.60 139.95L378.17 139.62L380.74 139.26L383.31 138.90L385.89 138.51L388.46 138.11L391.03 137.64L393.60 137.09L396.17 136.49L398.75 135.83L401.32 135.13L403.89 134.39L406.46 133.63L409.04 132.85L411.61 132.07L414.18 131.28L416.75 130.50L419.32 129.74L421.90 129.00L424.47 128.26L427.04 127.52L429.61 126.77L432.18 126.02L434.76 125.25L437.33 124.47L439.90 123.68L442.47 122.87L445.05 122.04L447.62 121.17L450.19 120.26L452.76 119.31L455.33 118.33L457.91 117.30L460.48 116.24L463.05 115.14L465.62 113.98L468.19 112.77L470.77 111.48L473.34 110.11L475.91 108.65L478.48 107.09L481.06 105.46L483.63 103.76L486.20 102.00L486.20 116.85L483.63 118.03L481.06 119.16L478.48 120.23L475.91 121.23L473.34 122.15L470.77 122.99L468.19 123.77L465.62 124.50L463.05 125.19L460.48 125.85L457.91 126.49L455.33 127.13L452.76 127.76L450.19 128.39L447.62 129.02L445.05 129.65L442.47 130.29L439.90 130.92L437.33 131.54L434.76 132.16L432.18 132.77L429.61 133.38L427.04 133.99L424.47 134.60L421.90 135.22L419.32 135.84L416.75 136.49L414.18 137.16L411.61 137.84L409.04 138.53L406.46 139.22L403.89 139.89L401.32 140.55L398.75 141.17L396.17 141.75L393.60 142.28L391.03 142.75L388.46 143.16L385.89 143.50L383.31 143.82L380.74 144.12L378.17 144.41L375.60 144.68L373.03 144.94L370.45 145.19L367.88 145.43L365.31 145.65L362.74 145.87L360.16 146.08L357.59 146.28L355.02 146.47L352.45 146.65L349.88 146.83L347.30 147.01L344.73 147.18L342.16 147.36L339.59 147.53L337.02 147.69L334.44 147.86L331.87 148.03L329.30 148.21L326.73 148.38L324.15 148.56L321.58 148.73L319.01 148.91L316.44 149.08L313.87 149.24L311.29 149.41L308.72 149.57L306.15 149.73L303.58 149.89L301.01 150.05L298.43 150.21L295.86 150.36L293.29 150.51L290.72 150.66L288.14 150.80L285.57 150.95L283.00 151.09Z" fill="#bfd2e8"/>
<path d="M283.00 149.44L285.57 149.38L288.14 149.33L290.72 149.26L293.29 149.20L295.86 149.13L298.43 149.05L301.01 148.98L303.58 148.89L306.15 148.81L308.72 148.72L311.29 148.63L313.87 148.53L316.44 148.43L319.01 148.33L321.58 148.23L324.15 148.12L326.73 148.01L329.30 147.90L331.87 147.78L334.44 147.66L337.02 147.54L339.59 147.42L342.16 147.29L344.73 147.15L347.30 147.02L349.88 146.88L352.45 146.74L355.02 146.59L357.59 146.43L360.16 146.28L362.74 146.12L365.31 145.95L367.88 145.78L370.45 145.60L373.03 145.42L375.60 145.24L378.17 145.05L380.74 144.85L383.31 144.64L385.89 144.43L388.46 144.21L391.03 143.97L393.60 143.72L396.17 143.46L398.75 143.18L401.32 142.89L403.89 142.57L406.46 142.25L409.04 141.90L411.61 141.53L414.18 141.15L416.75 140.74L419.32 140.32L421.90 139.86L424.47 139.35L427.04 138.77L429.61 138.15L432.18 137.47L434.76 136.74L437.33 135.97L439.90 135.15L442.47 134.25L445.05 133.24L447.62 132.12L450.19 130.91L452.76 129.61L455.33 128.25L457.91 126.84L460.48 125.39L463.05 123.90L465.62 122.32L468.19 120.63L470.77 118.83L473.34 116.91L475.91 114.86L478.48 112.66L481.06 110.33L483.63 107.88L486.20 105.30L486.20 118.50L483.63 120.65L481.06 122.69L478.48 124.61L475.91 126.40L473.34 128.06L470.77 129.59L468.19 131.02L465.62 132.35L463.05 133.57L460.48 134.72L457.91 135.84L455.33 136.95L452.76 138.01L450.19 139.03L447.62 139.99L445.05 140.87L442.47 141.67L439.90 142.36L437.33 142.97L434.76 143.55L432.18 144.08L429.61 144.57L427.04 145.02L424.47 145.41L421.90 145.75L419.32 146.04L416.75 146.31L414.18 146.56L411.61 146.80L409.04 147.02L406.46 147.23L403.89 147.43L401.32 147.62L398.75 147.80L396.17 147.97L393.60 148.14L391.03 148.30L388.46 148.45L385.89 148.59L383.31 148.74L380.74 148.87L378.17 149.00L375.60 149.13L373.03 149.25L370.45 149.36L367.88 149.48L365.31 149.58L362.74 149.69L360.16 149.79L357.59 149.88L355.02 149.98L352.45 150.07L349.88 150.16L347.30 150.24L344.73 150.33L342.16 150.41L339.59 150.48L337.02 150.56L334.44 150.64L331.87 150.71L329.30 150.78L326.73 150.85L324.15 150.92L321.58 150.99L319.01 151.06L316.44 151.13L313.87 151.20L311.29 151.26L308.72 151.33L306.15 151.39L303.58 151.46L301.01 151.52L298.43 151.58L295.86 151.64L293.29 151.70L290.72 151.75L288.14 151.81L285.57 151.86L283.00 151.91Z" fill="#d8d8d8" fill-opacity="0.8"/>
<path d="M283.00 147.79L285.57 147.68L288.14 147.56L290.72 147.43L293.29 147.30L295.86 147.16L298.43 147.01L301.01 146.86L303.58 146.70L306.15 146.53L308.72 146.36L311.29 146.19L313.87 146.01L316.44 145.82L319.01 145.63L321.58 145.43L324.15 145.23L326.73 145.02L329.30 144.81L331.87 144.60L334.44 144.39L337.02 144.17L339.59 143.95L342.16 143.72L344.73 143.49L347.30 143.25L349.88 143.01L352.45 142.75L355.02 142.49L357.59 142.22L360.16 141.95L362.74 141.66L365.31 141.36L367.88 141.05L370.45 140.73L373.03 140.40L375.60 140.06L378.17 139.70L380.74 139.32L383.31 138.93L385.89 138.50L388.46 138.03L391.03 137.51L393.60 136.95L396.17 136.36L398.75 135.73L401.32 135.07L403.89 134.38L406.46 133.67L409.04 132.94L411.61 132.18L414.18 131.40L416.75 130.61L419.32 129.81L421.90 128.99L424.47 128.12L427.04 127.21L429.61 126.26L432.18 125.26L434.76 124.22L437.33 123.13L439.90 122.01L442.47 120.84L445.05 119.62L447.62 118.34L450.19 116.99L452.76 115.58L455.33 114.09L457.91 112.53L460.48 110.88L463.05 109.13L465.62 107.19L468.19 105.07L470.77 102.81L473.34 100.48L475.91 98.05L478.48 95.50L481.06 92.83L483.63 90.04L486.20 87.15L486.20 103.65L483.63 106.08L481.06 108.41L478.48 110.63L475.91 112.74L473.34 114.74L470.77 116.65L468.19 118.48L465.62 120.20L463.05 121.74L460.48 123.10L457.91 124.38L455.33 125.58L452.76 126.72L450.19 127.79L447.62 128.82L445.05 129.79L442.47 130.72L439.90 131.60L437.33 132.45L434.76 133.25L432.18 134.02L429.61 134.74L427.04 135.43L424.47 136.08L421.90 136.69L419.32 137.26L416.75 137.81L414.18 138.37L411.61 138.91L409.04 139.45L406.46 139.97L403.89 140.48L401.32 140.98L398.75 141.45L396.17 141.91L393.60 142.35L391.03 142.76L388.46 143.15L385.89 143.50L383.31 143.83L380.74 144.12L378.17 144.39L375.60 144.65L373.03 144.90L370.45 145.13L367.88 145.36L365.31 145.57L362.74 145.78L360.16 145.97L357.59 146.16L355.02 146.34L352.45 146.52L349.88 146.69L347.30 146.85L344.73 147.01L342.16 147.16L339.59 147.31L337.02 147.46L334.44 147.61L331.87 147.76L329.30 147.90L326.73 148.05L324.15 148.20L321.58 148.34L319.01 148.49L316.44 148.63L313.87 148.77L311.29 148.90L308.72 149.04L306.15 149.17L303.58 149.30L301.01 149.43L298.43 149.56L295.86 149.68L293.29 149.80L290.72 149.92L288.14 150.04L285.57 150.15L283.00 150.26Z" fill="#8a7f76" fill-opacity="0.3"/>
<path d="M297.51 52.50V151.50M355.57 52.50V151.50M413.63 52.50V151.50M471.69 52.50V151.50M283.00 135.00H486.20M283.00 118.50H486.20M283.00 102.00H486.20M283.00 85.50H486.20M283.00 69.00H486.20" stroke="#c8c8c8" stroke-width="0.85" stroke-dasharray="3 3.6" fill="none"/>
<path d="M283.00 150.68L285.57 150.62L288.14 150.57L290.72 150.51L293.29 150.45L295.86 150.38L298.43 150.32L301.01 150.25L303.58 150.17L306.15 150.10L308.72 150.02L311.29 149.95L313.87 149.86L316.44 149.78L319.01 149.70L321.58 149.61L324.15 149.52L326.73 149.43L329.30 149.34L331.87 149.25L334.44 149.15L337.02 149.05L339.59 148.95L342.16 148.85L344.73 148.74L347.30 148.63L349.88 148.52L352.45 148.40L355.02 148.28L357.59 148.16L360.16 148.03L362.74 147.90L365.31 147.77L367.88 147.63L370.45 147.48L373.03 147.34L375.60 147.18L378.17 147.02L380.74 146.86L383.31 146.69L385.89 146.51L388.46 146.33L391.03 146.14L393.60 145.93L396.17 145.72L398.75 145.49L401.32 145.25L403.89 145.00L406.46 144.74L409.04 144.46L411.61 144.16L414.18 143.85L416.75 143.53L419.32 143.18L421.90 142.81L424.47 142.38L427.04 141.90L429.61 141.36L432.18 140.78L434.76 140.15L437.33 139.47L439.90 138.75L442.47 137.96L445.05 137.06L447.62 136.06L450.19 134.97L452.76 133.81L455.33 132.60L457.91 131.34L460.48 130.05L463.05 128.74L465.62 127.34L468.19 125.83L470.77 124.21L473.34 122.49L475.91 120.63L478.48 118.64L481.06 116.51L483.63 114.27L486.20 111.90" fill="none" stroke="#161616" stroke-width="1.2" stroke-linejoin="round"/>
<path d="M283.00 149.03L285.57 148.91L288.14 148.80L290.72 148.68L293.29 148.55L295.86 148.42L298.43 148.28L301.01 148.14L303.58 148.00L306.15 147.85L308.72 147.70L311.29 147.55L313.87 147.39L316.44 147.22L319.01 147.06L321.58 146.89L324.15 146.71L326.73 146.54L329.30 146.36L331.87 146.18L334.44 146.00L337.02 145.82L339.59 145.63L342.16 145.44L344.73 145.25L347.30 145.05L349.88 144.85L352.45 144.64L355.02 144.42L357.59 144.19L360.16 143.96L362.74 143.72L365.31 143.47L367.88 143.21L370.45 142.93L373.03 142.65L375.60 142.35L378.17 142.05L380.74 141.72L383.31 141.38L385.89 141.00L388.46 140.59L391.03 140.13L393.60 139.65L396.17 139.13L398.75 138.59L401.32 138.02L403.89 137.43L406.46 136.82L409.04 136.19L411.61 135.54L414.18 134.88L416.75 134.21L419.32 133.53L421.90 132.84L424.47 132.10L427.04 131.32L429.61 130.50L432.18 129.64L434.76 128.74L437.33 127.79L439.90 126.81L442.47 125.78L445.05 124.70L447.62 123.58L450.19 122.39L452.76 121.15L455.33 119.84L457.91 118.45L460.48 116.99L463.05 115.44L465.62 113.70L468.19 111.78L470.77 109.73L473.34 107.61L475.91 105.39L478.48 103.06L481.06 100.62L483.63 98.06L486.20 95.40" fill="none" stroke="#3a3a3a" stroke-width="1.2" stroke-dasharray="4 2.2" stroke-linejoin="round"/>
<path d="M283.00 150.51L285.57 150.44L288.14 150.36L290.72 150.28L293.29 150.21L295.86 150.12L298.43 150.04L301.01 149.96L303.58 149.87L306.15 149.78L308.72 149.69L311.29 149.60L313.87 149.51L316.44 149.41L319.01 149.32L321.58 149.22L324.15 149.12L326.73 149.02L329.30 148.92L331.87 148.81L334.44 148.71L337.02 148.61L339.59 148.51L342.16 148.40L344.73 148.30L347.30 148.19L349.88 148.08L352.45 147.97L355.02 147.85L357.59 147.73L360.16 147.61L362.74 147.48L365.31 147.35L367.88 147.22L370.45 147.07L373.03 146.93L375.60 146.77L378.17 146.61L380.74 146.45L383.31 146.28L385.89 146.09L388.46 145.90L391.03 145.70L393.60 145.49L396.17 145.26L398.75 145.02L401.32 144.77L403.89 144.50L406.46 144.22L409.04 143.91L411.61 143.60L414.18 143.26L416.75 142.91L419.32 142.53L421.90 142.12L424.47 141.63L427.04 141.07L429.61 140.46L432.18 139.78L434.76 139.07L437.33 138.31L439.90 137.52L442.47 136.68L445.05 135.76L447.62 134.76L450.19 133.70L452.76 132.57L455.33 131.38L457.91 130.13L460.48 128.83L463.05 127.48L465.62 125.99L468.19 124.37L470.77 122.64L473.34 120.83L475.91 118.93L478.48 116.91L481.06 114.79L483.63 112.57L486.20 110.25" fill="none" stroke="#161616" stroke-width="1.4" stroke-dasharray="1.1 1.1" stroke-linejoin="round"/>
<path d="M283.00 149.44L285.57 149.30L288.14 149.15L290.72 149.00L293.29 148.85L295.86 148.69L298.43 148.53L301.01 148.36L303.58 148.20L306.15 148.03L308.72 147.85L311.29 147.67L313.87 147.49L316.44 147.31L319.01 147.12L321.58 146.93L324.15 146.73L326.73 146.54L329.30 146.34L331.87 146.14L334.44 145.95L337.02 145.76L339.59 145.56L342.16 145.37L344.73 145.17L347.30 144.97L349.88 144.77L352.45 144.56L355.02 144.34L357.59 144.12L360.16 143.89L362.74 143.66L365.31 143.41L367.88 143.16L370.45 142.89L373.03 142.61L375.60 142.32L378.17 142.01L380.74 141.69L383.31 141.36L385.89 141.00L388.46 140.63L391.03 140.19L393.60 139.69L396.17 139.12L398.75 138.50L401.32 137.84L403.89 137.14L406.46 136.43L409.04 135.69L411.61 134.95L414.18 134.22L416.75 133.49L419.32 132.79L421.90 132.11L424.47 131.43L427.04 130.76L429.61 130.08L432.18 129.39L434.76 128.70L437.33 128.01L439.90 127.30L442.47 126.58L445.05 125.85L447.62 125.10L450.19 124.33L452.76 123.54L455.33 122.73L457.91 121.90L460.48 121.05L463.05 120.16L465.62 119.24L468.19 118.27L470.77 117.23L473.34 116.13L475.91 114.94L478.48 113.66L481.06 112.31L483.63 110.90L486.20 109.43" fill="none" stroke="#1d5699" stroke-width="1.25" stroke-linejoin="round"/>
<path d="M283.00 148.61L285.57 148.46L288.14 148.31L290.72 148.15L293.29 147.98L295.86 147.82L298.43 147.65L301.01 147.47L303.58 147.30L306.15 147.11L308.72 146.93L311.29 146.74L313.87 146.55L316.44 146.36L319.01 146.16L321.58 145.96L324.15 145.75L326.73 145.55L329.30 145.34L331.87 145.13L334.44 144.93L337.02 144.73L339.59 144.52L342.16 144.32L344.73 144.11L347.30 143.90L349.88 143.69L352.45 143.47L355.02 143.24L357.59 143.01L360.16 142.77L362.74 142.53L365.31 142.27L367.88 142.00L370.45 141.73L373.03 141.44L375.60 141.13L378.17 140.82L380.74 140.48L383.31 140.14L385.89 139.77L388.46 139.39L391.03 138.94L393.60 138.43L396.17 137.85L398.75 137.23L401.32 136.57L403.89 135.87L406.46 135.15L409.04 134.41L411.61 133.66L414.18 132.92L416.75 132.19L419.32 131.48L421.90 130.78L424.47 130.09L427.04 129.40L429.61 128.70L432.18 128.00L434.76 127.29L437.33 126.57L439.90 125.84L442.47 125.10L445.05 124.33L447.62 123.55L450.19 122.75L452.76 121.93L455.33 121.07L457.91 120.20L460.48 119.31L463.05 118.38L465.62 117.39L468.19 116.34L470.77 115.21L473.34 113.98L475.91 112.62L478.48 111.14L481.06 109.56L483.63 107.88L486.20 106.12" fill="none" stroke="#1d5699" stroke-width="1.2" stroke-dasharray="4 2.2" stroke-linejoin="round"/>
<path d="M283.00 150.26L285.57 150.15L288.14 150.03L290.72 149.90L293.29 149.78L295.86 149.64L298.43 149.51L301.01 149.37L303.58 149.23L306.15 149.08L308.72 148.93L311.29 148.77L313.87 148.61L316.44 148.45L319.01 148.29L321.58 148.12L324.15 147.95L326.73 147.77L329.30 147.60L331.87 147.43L334.44 147.25L337.02 147.08L339.59 146.90L342.16 146.72L344.73 146.54L347.30 146.36L349.88 146.17L352.45 145.98L355.02 145.78L357.59 145.57L360.16 145.36L362.74 145.13L365.31 144.90L367.88 144.66L370.45 144.41L373.03 144.15L375.60 143.87L378.17 143.59L380.74 143.29L383.31 142.97L385.89 142.64L388.46 142.29L391.03 141.88L393.60 141.39L396.17 140.85L398.75 140.26L401.32 139.62L403.89 138.96L406.46 138.27L409.04 137.56L411.61 136.85L414.18 136.14L416.75 135.44L419.32 134.76L421.90 134.11L424.47 133.46L427.04 132.82L429.61 132.17L432.18 131.52L434.76 130.86L437.33 130.20L439.90 129.52L442.47 128.82L445.05 128.11L447.62 127.38L450.19 126.63L452.76 125.85L455.33 125.04L457.91 124.20L460.48 123.32L463.05 122.40L465.62 121.43L468.19 120.40L470.77 119.32L473.34 118.16L475.91 116.90L478.48 115.56L481.06 114.13L483.63 112.64L486.20 111.07" fill="none" stroke="#1d5699" stroke-width="1.2" stroke-dasharray="1.1 1.1" stroke-linejoin="round"/>
<path d="M283.00 147.79L285.57 147.50L288.14 147.20L290.72 146.91L293.29 146.62L295.86 146.33L298.43 146.03L301.01 145.74L303.58 145.45L306.15 145.16L308.72 144.86L311.29 144.57L313.87 144.28L316.44 143.99L319.01 143.69L321.58 143.40L324.15 143.11L326.73 142.82L329.30 142.53L331.87 142.25L334.44 141.98L337.02 141.70L339.59 141.43L342.16 141.15L344.73 140.87L347.30 140.58L349.88 140.27L352.45 139.95L355.02 139.61L357.59 139.25L360.16 138.88L362.74 138.48L365.31 138.07L367.88 137.64L370.45 137.20L373.03 136.75L375.60 136.28L378.17 135.81L380.74 135.32L383.31 134.83L385.89 134.33L388.46 133.82L391.03 133.31L393.60 132.79L396.17 132.25L398.75 131.71L401.32 131.16L403.89 130.60L406.46 130.02L409.04 129.43L411.61 128.82L414.18 128.20L416.75 127.57L419.32 126.91L421.90 126.24L424.47 125.55L427.04 124.84L429.61 124.09L432.18 123.29L434.76 122.45L437.33 121.59L439.90 120.70L442.47 119.80L445.05 118.89L447.62 117.97L450.19 117.06L452.76 116.15L455.33 115.23L457.91 114.30L460.48 113.36L463.05 112.39L465.62 111.39L468.19 110.36L470.77 109.29L473.34 108.18L475.91 107.00L478.48 105.74L481.06 104.43L483.63 103.07L486.20 101.67" fill="none" stroke="#ee7d14" stroke-width="1.2" stroke-linejoin="round"/>
<path d="M283.00 145.31L285.57 145.02L288.14 144.73L290.72 144.44L293.29 144.14L295.86 143.85L298.43 143.56L301.01 143.27L303.58 142.97L306.15 142.68L308.72 142.39L311.29 142.10L313.87 141.80L316.44 141.51L319.01 141.22L321.58 140.93L324.15 140.63L326.73 140.34L329.30 140.05L331.87 139.77L334.44 139.50L337.02 139.22L339.59 138.94L342.16 138.66L344.73 138.38L347.30 138.09L349.88 137.78L352.45 137.47L355.02 137.14L357.59 136.79L360.16 136.43L362.74 136.06L365.31 135.68L367.88 135.28L370.45 134.87L373.03 134.46L375.60 134.02L378.17 133.58L380.74 133.12L383.31 132.66L385.89 132.17L388.46 131.68L391.03 131.17L393.60 130.64L396.17 130.10L398.75 129.54L401.32 128.96L403.89 128.37L406.46 127.76L409.04 127.14L411.61 126.50L414.18 125.84L416.75 125.18L419.32 124.49L421.90 123.80L424.47 123.09L427.04 122.36L429.61 121.60L432.18 120.81L434.76 119.99L437.33 119.14L439.90 118.26L442.47 117.36L445.05 116.45L447.62 115.51L450.19 114.55L452.76 113.55L455.33 112.52L457.91 111.45L460.48 110.37L463.05 109.27L465.62 108.16L468.19 107.06L470.77 105.96L473.34 104.89L475.91 103.82L478.48 102.74L481.06 101.67L483.63 100.60L486.20 99.53" fill="none" stroke="#ee7d14" stroke-width="1.3" stroke-dasharray="4 2.2" stroke-linejoin="round"/>
<path d="M283.00 142.26L285.57 141.52L288.14 140.77L290.72 140.01L293.29 139.25L295.86 138.47L298.43 137.68L301.01 136.88L303.58 136.08L306.15 135.26L308.72 134.43L311.29 133.59L313.87 132.74L316.44 131.89L319.01 131.02L321.58 130.15L324.15 129.27L326.73 128.39L329.30 127.49L331.87 126.58L334.44 125.67L337.02 124.74L339.59 123.80L342.16 122.85L344.73 121.88L347.30 120.91L349.88 119.92L352.45 118.91L355.02 117.90L357.59 116.86L360.16 115.79L362.74 114.70L365.31 113.58L367.88 112.45L370.45 111.30L373.03 110.13L375.60 108.95L378.17 107.76L380.74 106.57L383.31 105.36L385.89 104.13L388.46 102.86L391.03 101.57L393.60 100.26L396.17 98.94L398.75 97.62L401.32 96.31L403.89 95.00L406.46 93.72L409.04 92.45L411.61 91.22L414.18 90.03L416.75 88.88L419.32 87.74L421.90 86.61L424.47 85.49L427.04 84.40L429.61 83.31L432.18 82.24L434.76 81.19L437.33 80.16L439.90 79.14L442.47 78.15L445.05 77.17L447.62 76.22L450.19 75.23L452.76 74.12L455.33 72.97L457.91 71.87L460.48 70.88L463.05 70.09L465.62 69.57L468.19 69.42L470.77 69.96L473.34 70.95L475.91 71.78L478.48 71.95L481.06 71.70L483.63 71.14L486.20 70.24" fill="none" stroke="#9c1219" stroke-width="1.15" stroke-linejoin="round"/>
<path d="M283.00 140.12L285.57 139.39L288.14 138.66L290.72 137.92L293.29 137.16L295.86 136.40L298.43 135.62L301.01 134.82L303.58 134.02L306.15 133.20L308.72 132.37L311.29 131.53L313.87 130.68L316.44 129.81L319.01 128.94L321.58 128.06L324.15 127.17L326.73 126.27L329.30 125.35L331.87 124.43L334.44 123.49L337.02 122.53L339.59 121.57L342.16 120.58L344.73 119.59L347.30 118.57L349.88 117.54L352.45 116.50L355.02 115.43L357.59 114.34L360.16 113.20L362.74 112.03L365.31 110.83L367.88 109.60L370.45 108.35L373.03 107.09L375.60 105.82L378.17 104.56L380.74 103.29L383.31 102.03L385.89 100.76L388.46 99.45L391.03 98.09L393.60 96.70L396.17 95.29L398.75 93.86L401.32 92.43L403.89 91.01L406.46 89.61L409.04 88.23L411.61 86.89L414.18 85.61L416.75 84.36L419.32 83.12L421.90 81.89L424.47 80.69L427.04 79.52L429.61 78.39L432.18 77.33L434.76 76.34L437.33 75.44L439.90 74.53L442.47 73.61L445.05 72.70L447.62 71.84L450.19 71.06L452.76 70.39L455.33 69.86L457.91 69.51L460.48 69.34L463.05 69.22L465.62 69.11L468.19 69.04L470.77 69.00L473.34 69.01L475.91 69.08L478.48 69.20L481.06 69.36L483.63 69.57L486.20 69.82" fill="none" stroke="#9c1219" stroke-width="1.15" stroke-dasharray="4 2.2" stroke-linejoin="round"/>
</g>
<rect x="283.00" y="52.50" width="203.20" height="99.00" fill="none" stroke="#000" stroke-width="1.5"/>
<path d="M282.50 151.50v2.0M282.50 52.50v-2.0M297.50 151.50v5M297.50 52.50v-5M312.50 151.50v2.0M312.50 52.50v-2.0M326.50 151.50v2.0M326.50 52.50v-2.0M341.50 151.50v2.0M341.50 52.50v-2.0M355.50 151.50v5M355.50 52.50v-5M370.50 151.50v2.0M370.50 52.50v-2.0M384.50 151.50v2.0M384.50 52.50v-2.0M399.50 151.50v2.0M399.50 52.50v-2.0M413.50 151.50v5M413.50 52.50v-5M428.50 151.50v2.0M428.50 52.50v-2.0M442.50 151.50v2.0M442.50 52.50v-2.0M457.50 151.50v2.0M457.50 52.50v-2.0M471.50 151.50v5M471.50 52.50v-5M486.50 151.50v2.0M486.50 52.50v-2.0M283.00 151.50h-5.5M486.20 151.50h5.5M283.00 147.50h-2.7M486.20 147.50h2.7M283.00 143.50h-2.7M486.20 143.50h2.7M283.00 139.50h-2.7M486.20 139.50h2.7M283.00 134.50h-5.5M486.20 134.50h5.5M283.00 130.50h-2.7M486.20 130.50h2.7M283.00 126.50h-2.7M486.20 126.50h2.7M283.00 122.50h-2.7M486.20 122.50h2.7M283.00 118.50h-5.5M486.20 118.50h5.5M283.00 114.50h-2.7M486.20 114.50h2.7M283.00 110.50h-2.7M486.20 110.50h2.7M283.00 106.50h-2.7M486.20 106.50h2.7M283.00 102.50h-5.5M486.20 102.50h5.5M283.00 97.50h-2.7M486.20 97.50h2.7M283.00 93.50h-2.7M486.20 93.50h2.7M283.00 89.50h-2.7M486.20 89.50h2.7M283.00 85.50h-5.5M486.20 85.50h5.5M283.00 81.50h-2.7M486.20 81.50h2.7M283.00 77.50h-2.7M486.20 77.50h2.7M283.00 73.50h-2.7M486.20 73.50h2.7M283.00 68.50h-5.5M486.20 68.50h5.5M283.00 64.50h-2.7M486.20 64.50h2.7M283.00 60.50h-2.7M486.20 60.50h2.7M283.00 56.50h-2.7M486.20 56.50h2.7M283.00 52.50h-5.5M486.20 52.50h5.5" stroke="#000" stroke-width="1.25" fill="none"/>
<text transform="translate(297.51 166.90) scale(0.82 1)" font-size="7.9" text-anchor="middle">20</text>
<text transform="translate(355.57 166.90) scale(0.82 1)" font-size="7.9" text-anchor="middle">40</text>
<text transform="translate(413.63 166.90) scale(0.82 1)" font-size="7.9" text-anchor="middle">60</text>
<text transform="translate(471.69 166.90) scale(0.82 1)" font-size="7.9" text-anchor="middle">80</text>
<text x="273.50" y="153.88" font-size="6.6" text-anchor="end">0</text>
<text x="273.50" y="137.38" font-size="6.6" text-anchor="end">2</text>
<text x="273.50" y="120.88" font-size="6.6" text-anchor="end">4</text>
<text x="273.50" y="104.38" font-size="6.6" text-anchor="end">6</text>
<text x="273.50" y="87.88" font-size="6.6" text-anchor="end">8</text>
<text x="273.50" y="71.38" font-size="6.6" text-anchor="end">10</text>
<text x="273.50" y="54.88" font-size="6.6" text-anchor="end">12</text>
<g clip-path="url(#clc)">
<path d="M39.00 246.21L41.57 246.21L44.14 246.21L46.72 246.21L49.29 246.20L51.86 246.20L54.43 246.19L57.01 246.18L59.58 246.18L62.15 246.17L64.72 246.15L67.29 246.14L69.87 246.13L72.44 246.12L75.01 246.10L77.58 246.09L80.15 246.07L82.73 246.05L85.30 246.03L87.87 246.01L90.44 245.99L93.02 245.97L95.59 245.95L98.16 245.92L100.73 245.90L103.30 245.88L105.88 245.85L108.45 245.82L111.02 245.80L113.59 245.77L116.16 245.73L118.74 245.69L121.31 245.63L123.88 245.57L126.45 245.50L129.03 245.42L131.60 245.33L134.17 245.22L136.74 245.10L139.31 244.94L141.89 244.65L144.46 244.25L147.03 243.76L149.60 243.20L152.17 242.60L154.75 241.97L157.32 241.28L159.89 240.44L162.46 239.50L165.04 238.48L167.61 237.43L170.18 236.37L172.75 235.36L175.32 234.29L177.90 233.07L180.47 231.59L183.04 229.48L185.61 226.86L188.18 224.11L190.76 221.60L193.33 219.40L195.90 217.28L198.47 215.10L201.05 212.76L203.62 210.32L206.19 207.85L208.76 205.43L211.33 203.12L213.91 200.81L216.48 198.56L219.05 196.94L221.62 195.82L224.19 194.76L226.77 193.78L229.34 192.90L231.91 192.13L234.48 191.50L237.06 191.03L239.63 190.73L242.20 190.63L242.20 208.60L239.63 209.04L237.06 210.09L234.48 211.62L231.91 213.51L229.34 215.63L226.77 217.94L224.19 221.39L221.62 225.84L219.05 230.78L216.48 235.75L213.91 240.23L211.33 243.99L208.76 247.51L206.19 250.87L203.62 254.13L201.05 257.36L198.47 260.61L195.90 263.90L193.33 267.19L190.76 270.44L188.18 273.61L185.61 276.66L183.04 279.60L180.47 282.70L177.90 285.82L175.32 288.72L172.75 291.15L170.18 292.87L167.61 293.97L165.04 294.93L162.46 295.70L159.89 296.19L157.32 296.30L154.75 296.30L152.17 296.30L149.60 296.30L147.03 296.30L144.46 296.30L141.89 296.30L139.31 296.30L136.74 296.30L134.17 296.30L131.60 296.30L129.03 296.30L126.45 296.30L123.88 296.30L121.31 296.30L118.74 296.30L116.16 296.30L113.59 296.30L111.02 296.30L108.45 296.30L105.88 296.30L103.30 296.30L100.73 296.30L98.16 296.30L95.59 296.30L93.02 296.30L90.44 296.30L87.87 296.30L85.30 296.30L82.73 296.30L80.15 296.30L77.58 296.30L75.01 296.30L72.44 296.30L69.87 296.30L67.29 296.30L64.72 296.30L62.15 296.30L59.58 296.30L57.01 296.30L54.43 296.30L51.86 296.30L49.29 296.30L46.72 296.30L44.14 296.30L41.57 296.30L39.00 296.30Z" fill="#e1e1e1"/>
<path d="M39.00 295.24L41.57 295.24L44.14 295.24L46.72 295.23L49.29 295.22L51.86 295.20L54.43 295.18L57.01 295.16L59.58 295.14L62.15 295.11L64.72 295.08L67.29 295.05L69.87 295.01L72.44 294.97L75.01 294.93L77.58 294.88L80.15 294.83L82.73 294.78L85.30 294.73L87.87 294.67L90.44 294.62L93.02 294.56L95.59 294.49L98.16 294.43L100.73 294.36L103.30 294.29L105.88 294.21L108.45 294.14L111.02 294.06L113.59 293.98L116.16 293.89L118.74 293.80L121.31 293.69L123.88 293.59L126.45 293.47L129.03 293.35L131.60 293.23L134.17 293.09L136.74 292.96L139.31 292.82L141.89 292.67L144.46 292.52L147.03 292.35L149.60 292.18L152.17 291.99L154.75 291.79L157.32 291.57L159.89 291.30L162.46 291.00L165.04 290.65L167.61 290.27L170.18 289.85L172.75 289.30L175.32 288.61L177.90 287.84L180.47 287.02L183.04 286.14L185.61 285.16L188.18 284.07L190.76 282.90L193.33 281.64L195.90 280.33L198.47 278.96L201.05 277.52L203.62 275.96L206.19 274.30L208.76 272.58L211.33 270.82L213.91 269.02L216.48 267.16L219.05 265.22L221.62 263.21L224.19 261.12L226.77 258.94L229.34 256.66L231.91 254.25L234.48 251.71L237.06 249.06L239.63 246.31L242.20 243.47L242.20 264.60L239.63 267.15L237.06 269.59L234.48 271.92L231.91 274.11L229.34 276.16L226.77 278.06L224.19 279.85L221.62 281.54L219.05 283.13L216.48 284.64L213.91 286.06L211.33 287.39L208.76 288.64L206.19 289.80L203.62 290.87L201.05 291.83L198.47 292.66L195.90 293.40L193.33 294.12L190.76 294.79L188.18 295.41L185.61 295.99L183.04 296.30L180.47 296.30L177.90 296.30L175.32 296.30L172.75 296.30L170.18 296.30L167.61 296.30L165.04 296.30L162.46 296.30L159.89 296.30L157.32 296.30L154.75 296.30L152.17 296.30L149.60 296.30L147.03 296.30L144.46 296.30L141.89 296.30L139.31 296.30L136.74 296.30L134.17 296.30L131.60 296.30L129.03 296.30L126.45 296.30L123.88 296.30L121.31 296.30L118.74 296.30L116.16 296.30L113.59 296.30L111.02 296.30L108.45 296.30L105.88 296.30L103.30 296.30L100.73 296.30L98.16 296.30L95.59 296.30L93.02 296.30L90.44 296.30L87.87 296.30L85.30 296.30L82.73 296.30L80.15 296.30L77.58 296.30L75.01 296.30L72.44 296.30L69.87 296.30L67.29 296.30L64.72 296.30L62.15 296.30L59.58 296.30L57.01 296.30L54.43 296.30L51.86 296.30L49.29 296.30L46.72 296.30L44.14 296.30L41.57 296.30L39.00 296.30Z" fill="#e1e1e1"/>
<path d="M39.00 294.29L41.57 294.21L44.14 294.11L46.72 294.00L49.29 293.87L51.86 293.72L54.43 293.57L57.01 293.40L59.58 293.22L62.15 293.02L64.72 292.82L67.29 292.60L69.87 292.38L72.44 292.15L75.01 291.91L77.58 291.66L80.15 291.41L82.73 291.15L85.30 290.88L87.87 290.61L90.44 290.32L93.02 290.02L95.59 289.72L98.16 289.39L100.73 289.05L103.30 288.70L105.88 288.32L108.45 287.93L111.02 287.52L113.59 287.07L116.16 286.56L118.74 285.99L121.31 285.36L123.88 284.68L126.45 283.96L129.03 283.18L131.60 282.36L134.17 281.50L136.74 280.60L139.31 279.65L141.89 278.58L144.46 277.38L147.03 276.06L149.60 274.64L152.17 273.15L154.75 271.62L157.32 270.04L159.89 268.38L162.46 266.64L165.04 264.83L167.61 262.95L170.18 261.00L172.75 258.86L175.32 256.50L177.90 254.01L180.47 251.44L183.04 248.86L185.61 246.33L188.18 243.92L190.76 241.70L193.33 239.59L195.90 237.55L198.47 235.64L201.05 233.90L203.62 232.39L206.19 231.10L208.76 229.88L211.33 228.71L213.91 227.61L216.48 226.64L219.05 225.82L221.62 225.15L224.19 224.51L226.77 224.00L229.34 223.70L231.91 223.68L234.48 223.72L237.06 223.78L239.63 223.88L242.20 224.02L242.20 234.59L239.63 234.78L237.06 235.02L234.48 235.30L231.91 235.62L229.34 236.00L226.77 236.68L224.19 237.58L221.62 238.61L219.05 239.67L216.48 240.90L213.91 242.29L211.33 243.83L208.76 245.54L206.19 247.37L203.62 249.28L201.05 251.40L198.47 253.69L195.90 256.07L193.33 258.44L190.76 260.71L188.18 262.92L185.61 265.20L183.04 267.53L180.47 269.84L177.90 272.08L175.32 274.22L172.75 276.21L170.18 277.99L167.61 279.55L165.04 280.97L162.46 282.25L159.89 283.41L157.32 284.46L154.75 285.40L152.17 286.29L149.60 287.14L147.03 287.95L144.46 288.70L141.89 289.38L139.31 289.99L136.74 290.49L134.17 290.95L131.60 291.38L129.03 291.78L126.45 292.15L123.88 292.50L121.31 292.81L118.74 293.10L116.16 293.36L113.59 293.60L111.02 293.81L108.45 293.99L105.88 294.16L103.30 294.31L100.73 294.44L98.16 294.56L95.59 294.67L93.02 294.77L90.44 294.85L87.87 294.94L85.30 295.01L82.73 295.09L80.15 295.16L77.58 295.24L75.01 295.31L72.44 295.39L69.87 295.47L67.29 295.55L64.72 295.63L62.15 295.71L59.58 295.78L57.01 295.86L54.43 295.94L51.86 296.02L49.29 296.10L46.72 296.18L44.14 296.25L41.57 296.33L39.00 296.41Z" fill="#c3d4e8"/>
<path d="M39.00 286.26L41.57 285.92L44.14 285.57L46.72 285.20L49.29 284.83L51.86 284.45L54.43 284.05L57.01 283.65L59.58 283.24L62.15 282.82L64.72 282.39L67.29 281.95L69.87 281.51L72.44 281.06L75.01 280.60L77.58 280.13L80.15 279.66L82.73 279.19L85.30 278.71L87.87 278.22L90.44 277.73L93.02 277.22L95.59 276.71L98.16 276.17L100.73 275.62L103.30 275.05L105.88 274.46L108.45 273.84L111.02 273.19L113.59 272.50L116.16 271.74L118.74 270.91L121.31 270.03L123.88 269.12L126.45 268.19L129.03 267.26L131.60 266.34L134.17 265.44L136.74 264.59L139.31 263.79L141.89 263.01L144.46 262.26L147.03 261.52L149.60 260.80L152.17 260.08L154.75 259.36L157.32 258.65L159.89 257.93L162.46 257.20L165.04 256.46L167.61 255.70L170.18 254.92L172.75 254.15L175.32 253.40L177.90 252.65L180.47 251.87L183.04 251.05L185.61 250.17L188.18 249.20L190.76 248.14L193.33 246.87L195.90 245.38L198.47 243.76L201.05 242.10L203.62 240.47L206.19 238.91L208.76 237.28L211.33 235.63L213.91 234.02L216.48 232.51L219.05 231.16L221.62 229.98L224.19 228.87L226.77 227.87L229.34 227.06L231.91 226.47L234.48 225.95L237.06 225.50L239.63 225.16L242.20 224.97L242.20 233.43L239.63 233.53L237.06 233.78L234.48 234.15L231.91 234.58L229.34 235.08L226.77 235.79L224.19 236.70L221.62 237.71L219.05 238.79L216.48 240.04L213.91 241.45L211.33 242.95L208.76 244.49L206.19 246.00L203.62 247.44L201.05 248.94L198.47 250.47L195.90 251.96L193.33 253.32L190.76 254.45L188.18 255.38L185.61 256.21L183.04 256.96L180.47 257.65L177.90 258.31L175.32 258.94L172.75 259.57L170.18 260.23L167.61 260.90L165.04 261.55L162.46 262.18L159.89 262.80L157.32 263.41L154.75 264.02L152.17 264.62L149.60 265.23L147.03 265.85L144.46 266.49L141.89 267.14L139.31 267.81L136.74 268.52L134.17 269.28L131.60 270.08L129.03 270.91L126.45 271.76L123.88 272.61L121.31 273.44L118.74 274.25L116.16 275.01L113.59 275.72L111.02 276.35L108.45 276.94L105.88 277.51L103.30 278.05L100.73 278.57L98.16 279.06L95.59 279.55L93.02 280.01L90.44 280.47L87.87 280.91L85.30 281.35L82.73 281.78L80.15 282.21L77.58 282.64L75.01 283.07L72.44 283.49L69.87 283.90L67.29 284.31L64.72 284.71L62.15 285.11L59.58 285.50L57.01 285.88L54.43 286.26L51.86 286.63L49.29 286.99L46.72 287.35L44.14 287.70L41.57 288.04L39.00 288.37Z" fill="#a4bfdc" fill-opacity="0.8"/>
<path d="M39.00 295.56L41.57 295.54L44.14 295.52L46.72 295.49L49.29 295.47L51.86 295.44L54.43 295.42L57.01 295.39L59.58 295.36L62.15 295.33L64.72 295.30L67.29 295.26L69.87 295.23L72.44 295.20L75.01 295.16L77.58 295.12L80.15 295.09L82.73 295.05L85.30 295.01L87.87 294.97L90.44 294.93L93.02 294.89L95.59 294.85L98.16 294.80L100.73 294.76L103.30 294.72L105.88 294.67L108.45 294.63L111.02 294.58L113.59 294.53L116.16 294.48L118.74 294.42L121.31 294.35L123.88 294.28L126.45 294.20L129.03 294.12L131.60 294.04L134.17 293.95L136.74 293.85L139.31 293.76L141.89 293.66L144.46 293.55L147.03 293.44L149.60 293.31L152.17 293.17L154.75 293.03L157.32 292.88L159.89 292.73L162.46 292.57L165.04 292.41L167.61 292.24L170.18 292.07L172.75 291.90L175.32 291.72L177.90 291.53L180.47 291.34L183.04 291.14L185.61 290.93L188.18 290.71L190.76 290.49L193.33 290.26L195.90 290.03L198.47 289.79L201.05 289.54L203.62 289.29L206.19 289.03L208.76 288.75L211.33 288.47L213.91 288.18L216.48 287.88L219.05 287.56L221.62 287.22L224.19 286.88L226.77 286.51L229.34 286.12L231.91 285.68L234.48 285.21L237.06 284.70L239.63 284.17L242.20 283.62L242.20 287.85L239.63 288.35L237.06 288.84L234.48 289.31L231.91 289.75L229.34 290.15L226.77 290.50L224.19 290.82L221.62 291.13L219.05 291.42L216.48 291.70L213.91 291.97L211.33 292.22L208.76 292.46L206.19 292.69L203.62 292.91L201.05 293.13L198.47 293.33L195.90 293.53L193.33 293.73L190.76 293.92L188.18 294.10L185.61 294.27L183.04 294.44L180.47 294.60L177.90 294.76L175.32 294.91L172.75 295.05L170.18 295.18L167.61 295.31L165.04 295.43L162.46 295.55L159.89 295.67L157.32 295.79L154.75 295.89L152.17 296.00L149.60 296.09L147.03 296.18L144.46 296.26L141.89 296.30L139.31 296.30L136.74 296.30L134.17 296.30L131.60 296.30L129.03 296.30L126.45 296.30L123.88 296.30L121.31 296.30L118.74 296.30L116.16 296.30L113.59 296.30L111.02 296.30L108.45 296.30L105.88 296.30L103.30 296.30L100.73 296.30L98.16 296.30L95.59 296.30L93.02 296.30L90.44 296.30L87.87 296.30L85.30 296.30L82.73 296.30L80.15 296.30L77.58 296.30L75.01 296.30L72.44 296.30L69.87 296.30L67.29 296.30L64.72 296.30L62.15 296.30L59.58 296.30L57.01 296.30L54.43 296.30L51.86 296.30L49.29 296.30L46.72 296.30L44.14 296.30L41.57 296.30L39.00 296.30Z" fill="#f9cd9f"/>
<path d="M39.00 292.60L41.57 292.03L44.14 291.40L46.72 290.73L49.29 290.00L51.86 289.24L54.43 288.44L57.01 287.61L59.58 286.76L62.15 285.79L64.72 284.70L67.29 283.53L69.87 282.32L72.44 281.14L75.01 280.02L77.58 279.02L80.15 278.19L82.73 277.44L85.30 276.73L87.87 276.06L90.44 275.43L93.02 274.85L95.59 274.33L98.16 273.86L100.73 273.47L103.30 273.11L105.88 272.78L108.45 272.47L111.02 272.19L113.59 271.93L116.16 271.69L118.74 271.48L121.31 271.29L123.88 271.10L126.45 270.92L129.03 270.74L131.60 270.59L134.17 270.48L136.74 270.42L139.31 270.42L141.89 270.46L144.46 270.51L147.03 270.58L149.60 270.66L152.17 270.76L154.75 270.86L157.32 270.99L159.89 271.17L162.46 271.39L165.04 271.64L167.61 271.89L170.18 272.14L172.75 272.39L175.32 272.66L177.90 272.94L180.47 273.23L183.04 273.53L185.61 273.83L188.18 274.13L190.76 274.42L193.33 274.72L195.90 275.00L198.47 275.27L201.05 275.53L203.62 275.79L206.19 276.05L208.76 276.30L211.33 276.56L213.91 276.81L216.48 277.06L219.05 277.31L221.62 277.55L224.19 277.79L226.77 278.03L229.34 278.26L231.91 278.50L234.48 278.73L237.06 278.95L239.63 279.17L242.20 279.39L242.20 283.62L239.63 283.44L237.06 283.26L234.48 283.07L231.91 282.88L229.34 282.69L226.77 282.49L224.19 282.29L221.62 282.08L219.05 281.88L216.48 281.66L213.91 281.45L211.33 281.23L208.76 281.01L206.19 280.79L203.62 280.56L201.05 280.33L198.47 280.10L195.90 279.86L193.33 279.60L190.76 279.34L188.18 279.07L185.61 278.80L183.04 278.52L180.47 278.25L177.90 277.98L175.32 277.72L172.75 277.47L170.18 277.24L167.61 277.01L165.04 276.78L162.46 276.55L159.89 276.35L157.32 276.18L154.75 276.06L152.17 275.98L149.60 275.89L147.03 275.82L144.46 275.76L141.89 275.72L139.31 275.69L136.74 275.69L134.17 275.75L131.60 275.87L129.03 276.02L126.45 276.20L123.88 276.39L121.31 276.57L118.74 276.76L116.16 276.98L113.59 277.21L111.02 277.47L108.45 277.76L105.88 278.06L103.30 278.39L100.73 278.75L98.16 279.15L95.59 279.61L93.02 280.13L90.44 280.71L87.87 281.34L85.30 282.02L82.73 282.73L80.15 283.46L77.58 284.27L75.01 285.21L72.44 286.26L69.87 287.36L67.29 288.47L64.72 289.52L62.15 290.49L59.58 291.31L57.01 292.02L54.43 292.69L51.86 293.32L49.29 293.91L46.72 294.45L44.14 294.95L41.57 295.39L39.00 295.77Z" fill="#dfaaae" fill-opacity="0.8"/>
<path d="M53.51 197.50V296.30M111.57 197.50V296.30M169.63 197.50V296.30M227.69 197.50V296.30M39.00 275.17H242.20M39.00 254.03H242.20M39.00 232.90H242.20M39.00 211.77H242.20M39.00 190.63H242.20" stroke="#c8c8c8" stroke-width="0.85" stroke-dasharray="3 3.6" fill="none"/>
<path d="M39.00 296.09L41.57 296.09L44.14 296.09L46.72 296.08L49.29 296.08L51.86 296.07L54.43 296.07L57.01 296.06L59.58 296.05L62.15 296.04L64.72 296.03L67.29 296.01L69.87 296.00L72.44 295.99L75.01 295.97L77.58 295.95L80.15 295.94L82.73 295.92L85.30 295.90L87.87 295.88L90.44 295.86L93.02 295.84L95.59 295.82L98.16 295.79L100.73 295.77L103.30 295.75L105.88 295.72L108.45 295.70L111.02 295.67L113.59 295.64L116.16 295.61L118.74 295.57L121.31 295.52L123.88 295.47L126.45 295.41L129.03 295.35L131.60 295.29L134.17 295.22L136.74 295.14L139.31 295.07L141.89 294.99L144.46 294.90L147.03 294.81L149.60 294.70L152.17 294.59L154.75 294.46L157.32 294.33L159.89 294.20L162.46 294.06L165.04 293.92L167.61 293.77L170.18 293.63L172.75 293.47L175.32 293.31L177.90 293.15L180.47 292.97L183.04 292.79L185.61 292.60L188.18 292.41L190.76 292.21L193.33 292.00L195.90 291.78L198.47 291.56L201.05 291.33L203.62 291.10L206.19 290.86L208.76 290.61L211.33 290.35L213.91 290.07L216.48 289.79L219.05 289.49L221.62 289.18L224.19 288.85L226.77 288.50L229.34 288.13L231.91 287.72L234.48 287.26L237.06 286.77L239.63 286.26L242.20 285.73" fill="none" stroke="#ee7d14" stroke-width="1.2" stroke-linejoin="round"/>
<path d="M39.00 295.88L41.57 295.88L44.14 295.87L46.72 295.87L49.29 295.86L51.86 295.86L54.43 295.85L57.01 295.84L59.58 295.83L62.15 295.81L64.72 295.80L67.29 295.78L69.87 295.76L72.44 295.75L75.01 295.73L77.58 295.71L80.15 295.68L82.73 295.66L85.30 295.64L87.87 295.61L90.44 295.59L93.02 295.56L95.59 295.53L98.16 295.51L100.73 295.48L103.30 295.45L105.88 295.42L108.45 295.39L111.02 295.36L113.59 295.32L116.16 295.28L118.74 295.23L121.31 295.18L123.88 295.12L126.45 295.05L129.03 294.98L131.60 294.91L134.17 294.83L136.74 294.74L139.31 294.65L141.89 294.56L144.46 294.46L147.03 294.34L149.60 294.20L152.17 294.06L154.75 293.91L157.32 293.75L159.89 293.58L162.46 293.41L165.04 293.23L167.61 293.06L170.18 292.88L172.75 292.70L175.32 292.51L177.90 292.32L180.47 292.12L183.04 291.91L185.61 291.70L188.18 291.48L190.76 291.25L193.33 291.01L195.90 290.76L198.47 290.51L201.05 290.24L203.62 289.97L206.19 289.69L208.76 289.40L211.33 289.10L213.91 288.78L216.48 288.45L219.05 288.10L221.62 287.73L224.19 287.35L226.77 286.94L229.34 286.50L231.91 286.01L234.48 285.46L237.06 284.87L239.63 284.25L242.20 283.62" fill="none" stroke="#ee7d14" stroke-width="1.2" stroke-dasharray="4 2.2" stroke-linejoin="round"/>
<path d="M39.00 296.30L41.57 296.30L44.14 296.30L46.72 296.30L49.29 296.29L51.86 296.29L54.43 296.28L57.01 296.28L59.58 296.27L62.15 296.26L64.72 296.25L67.29 296.24L69.87 296.23L72.44 296.22L75.01 296.21L77.58 296.20L80.15 296.19L82.73 296.17L85.30 296.16L87.87 296.15L90.44 296.13L93.02 296.11L95.59 296.10L98.16 296.08L100.73 296.06L103.30 296.04L105.88 296.03L108.45 296.01L111.02 295.99L113.59 295.97L116.16 295.94L118.74 295.91L121.31 295.87L123.88 295.83L126.45 295.78L129.03 295.73L131.60 295.68L134.17 295.62L136.74 295.55L139.31 295.49L141.89 295.42L144.46 295.34L147.03 295.26L149.60 295.17L152.17 295.07L154.75 294.95L157.32 294.82L159.89 294.68L162.46 294.52L165.04 294.34L167.61 294.15L170.18 293.92L172.75 293.58L175.32 293.12L177.90 292.57L180.47 291.98L183.04 291.32L185.61 290.57L188.18 289.74L190.76 288.84L193.33 287.88L195.90 286.87L198.47 285.81L201.05 284.67L203.62 283.41L206.19 282.05L208.76 280.61L211.33 279.11L213.91 277.54L216.48 275.90L219.05 274.18L221.62 272.37L224.19 270.48L226.77 268.50L229.34 266.41L231.91 264.18L234.48 261.81L237.06 259.33L239.63 256.73L242.20 254.03" fill="none" stroke="#161616" stroke-width="1.2" stroke-linejoin="round"/>
<path d="M39.00 296.30L41.57 296.30L44.14 296.30L46.72 296.29L49.29 296.29L51.86 296.28L54.43 296.27L57.01 296.26L59.58 296.25L62.15 296.23L64.72 296.22L67.29 296.20L69.87 296.19L72.44 296.17L75.01 296.15L77.58 296.13L80.15 296.11L82.73 296.08L85.30 296.06L87.87 296.04L90.44 296.01L93.02 295.98L95.59 295.96L98.16 295.93L100.73 295.90L103.30 295.87L105.88 295.84L108.45 295.81L111.02 295.78L113.59 295.74L116.16 295.71L118.74 295.66L121.31 295.61L123.88 295.55L126.45 295.48L129.03 295.41L131.60 295.34L134.17 295.26L136.74 295.17L139.31 295.08L141.89 294.98L144.46 294.88L147.03 294.76L149.60 294.63L152.17 294.49L154.75 294.33L157.32 294.14L159.89 293.94L162.46 293.71L165.04 293.45L167.61 293.17L170.18 292.84L172.75 292.30L175.32 291.54L177.90 290.68L180.47 289.84L183.04 289.01L185.61 288.15L188.18 287.27L190.76 286.33L193.33 285.34L195.90 284.30L198.47 283.17L201.05 281.94L203.62 280.55L206.19 279.06L208.76 277.51L211.33 275.92L213.91 274.31L216.48 272.64L219.05 270.92L221.62 269.13L224.19 267.27L226.77 265.32L229.34 263.27L231.91 261.10L234.48 258.82L237.06 256.43L239.63 253.95L242.20 251.39" fill="none" stroke="#161616" stroke-width="1.2" stroke-dasharray="4 2.2" stroke-linejoin="round"/>
<path d="M39.00 296.30L41.57 296.30L44.14 296.30L46.72 296.30L49.29 296.29L51.86 296.29L54.43 296.29L57.01 296.28L59.58 296.28L62.15 296.27L64.72 296.27L67.29 296.26L69.87 296.26L72.44 296.25L75.01 296.24L77.58 296.23L80.15 296.22L82.73 296.21L85.30 296.21L87.87 296.20L90.44 296.19L93.02 296.17L95.59 296.16L98.16 296.15L100.73 296.14L103.30 296.13L105.88 296.12L108.45 296.10L111.02 296.09L113.59 296.08L116.16 296.06L118.74 296.04L121.31 296.02L123.88 296.00L126.45 295.97L129.03 295.94L131.60 295.91L134.17 295.87L136.74 295.83L139.31 295.79L141.89 295.75L144.46 295.70L147.03 295.65L149.60 295.58L152.17 295.51L154.75 295.43L157.32 295.34L159.89 295.23L162.46 295.12L165.04 294.99L167.61 294.84L170.18 294.68L172.75 294.40L175.32 294.01L177.90 293.55L180.47 293.05L183.04 292.52L185.61 291.91L188.18 291.24L190.76 290.51L193.33 289.71L195.90 288.84L198.47 287.92L201.05 286.85L203.62 285.60L206.19 284.21L208.76 282.73L211.33 281.22L213.91 279.65L216.48 278.01L219.05 276.29L221.62 274.49L224.19 272.59L226.77 270.61L229.34 268.53L231.91 266.29L234.48 263.93L237.06 261.44L239.63 258.84L242.20 256.15" fill="none" stroke="#161616" stroke-width="1.2" stroke-linejoin="round"/>
<path d="M39.00 278.34L41.57 278.34L44.14 278.34L46.72 278.34L49.29 278.34L51.86 278.34L54.43 278.34L57.01 278.34L59.58 278.34L62.15 278.34L64.72 278.34L67.29 278.34L69.87 278.34L72.44 278.34L75.01 278.34L77.58 278.34L80.15 278.34L82.73 278.34L85.30 278.33L87.87 278.33L90.44 278.32L93.02 278.31L95.59 278.30L98.16 278.28L100.73 278.26L103.30 278.23L105.88 278.20L108.45 278.17L111.02 278.13L113.59 278.09L116.16 278.04L118.74 277.99L121.31 277.93L123.88 277.87L126.45 277.80L129.03 277.56L131.60 277.13L134.17 276.58L136.74 276.01L139.31 275.45L141.89 274.85L144.46 274.21L147.03 273.51L149.60 272.75L152.17 271.94L154.75 271.07L157.32 270.11L159.89 269.02L162.46 267.83L165.04 266.54L167.61 265.18L170.18 263.77L172.75 262.33L175.32 260.77L177.90 258.99L180.47 256.84L183.04 253.84L185.61 250.14L188.18 246.23L190.76 242.64L193.33 239.39L195.90 236.23L198.47 233.12L201.05 230.00L203.62 226.86L206.19 223.77L208.76 220.79L211.33 217.98L213.91 215.38L216.48 212.96L219.05 210.64L221.62 208.22L224.19 205.80L226.77 203.77L229.34 202.46L231.91 201.42L234.48 200.50L237.06 199.76L239.63 199.26L242.20 199.09" fill="none" stroke="#161616" stroke-width="1.2" stroke-dasharray="1.1 1.1" stroke-linejoin="round"/>
<path d="M39.00 287.32L41.57 286.98L44.14 286.63L46.72 286.28L49.29 285.91L51.86 285.54L54.43 285.16L57.01 284.77L59.58 284.37L62.15 283.96L64.72 283.55L67.29 283.13L69.87 282.70L72.44 282.27L75.01 281.83L77.58 281.39L80.15 280.94L82.73 280.49L85.30 280.03L87.87 279.57L90.44 279.10L93.02 278.62L95.59 278.13L98.16 277.62L100.73 277.09L103.30 276.55L105.88 275.98L108.45 275.39L111.02 274.77L113.59 274.11L116.16 273.37L118.74 272.58L121.31 271.74L123.88 270.87L126.45 269.98L129.03 269.09L131.60 268.21L134.17 267.36L136.74 266.56L139.31 265.80L141.89 265.08L144.46 264.37L147.03 263.69L149.60 263.01L152.17 262.35L154.75 261.69L157.32 261.03L159.89 260.37L162.46 259.69L165.04 259.00L167.61 258.30L170.18 257.57L172.75 256.86L175.32 256.17L177.90 255.48L180.47 254.76L183.04 254.00L185.61 253.19L188.18 252.29L190.76 251.30L193.33 250.09L195.90 248.67L198.47 247.12L201.05 245.52L203.62 243.96L206.19 242.46L208.76 240.89L211.33 239.29L213.91 237.74L216.48 236.28L219.05 234.97L221.62 233.85L224.19 232.78L226.77 231.83L229.34 231.07L231.91 230.53L234.48 230.05L237.06 229.64L239.63 229.35L242.20 229.20" fill="none" stroke="#1d5699" stroke-width="1.25" stroke-linejoin="round"/>
<path d="M39.00 295.35L41.57 295.27L44.14 295.18L46.72 295.09L49.29 294.98L51.86 294.87L54.43 294.75L57.01 294.63L59.58 294.50L62.15 294.36L64.72 294.22L67.29 294.08L69.87 293.93L72.44 293.77L75.01 293.61L77.58 293.45L80.15 293.29L82.73 293.12L85.30 292.95L87.87 292.77L90.44 292.59L93.02 292.39L95.59 292.19L98.16 291.98L100.73 291.75L103.30 291.50L105.88 291.24L108.45 290.96L111.02 290.66L113.59 290.33L116.16 289.96L118.74 289.54L121.31 289.09L123.88 288.59L126.45 288.05L129.03 287.48L131.60 286.87L134.17 286.23L136.74 285.55L139.31 284.82L141.89 283.98L144.46 283.04L147.03 282.00L149.60 280.89L152.17 279.72L154.75 278.51L157.32 277.25L159.89 275.90L162.46 274.45L165.04 272.90L167.61 271.25L170.18 269.49L172.75 267.53L175.32 265.36L177.90 263.05L180.47 260.64L183.04 258.19L185.61 255.77L188.18 253.42L190.76 251.20L193.33 249.01L195.90 246.81L198.47 244.67L201.05 242.65L203.62 240.84L206.19 239.23L208.76 237.71L211.33 236.27L213.91 234.95L216.48 233.77L219.05 232.75L221.62 231.88L224.19 231.05L226.77 230.34L229.34 229.85L231.91 229.65L234.48 229.51L237.06 229.40L239.63 229.33L242.20 229.31" fill="none" stroke="#1d5699" stroke-width="1.2" stroke-dasharray="1.1 1.1" stroke-linejoin="round"/>
<path d="M39.00 294.19L41.57 293.71L44.14 293.18L46.72 292.59L49.29 291.96L51.86 291.28L54.43 290.56L57.01 289.82L59.58 289.03L62.15 288.14L64.72 287.11L67.29 286.00L69.87 284.84L72.44 283.70L75.01 282.62L77.58 281.64L80.15 280.83L82.73 280.09L85.30 279.37L87.87 278.70L90.44 278.07L93.02 277.49L95.59 276.97L98.16 276.51L100.73 276.11L103.30 275.75L105.88 275.42L108.45 275.11L111.02 274.83L113.59 274.57L116.16 274.34L118.74 274.12L121.31 273.93L123.88 273.74L126.45 273.56L129.03 273.38L131.60 273.23L134.17 273.12L136.74 273.06L139.31 273.06L141.89 273.09L144.46 273.13L147.03 273.20L149.60 273.28L152.17 273.37L154.75 273.46L157.32 273.58L159.89 273.76L162.46 273.97L165.04 274.21L167.61 274.45L170.18 274.69L172.75 274.93L175.32 275.19L177.90 275.46L180.47 275.74L183.04 276.02L185.61 276.31L188.18 276.60L190.76 276.88L193.33 277.16L195.90 277.43L198.47 277.68L201.05 277.93L203.62 278.18L206.19 278.42L208.76 278.66L211.33 278.89L213.91 279.13L216.48 279.36L219.05 279.59L221.62 279.82L224.19 280.04L226.77 280.26L229.34 280.48L231.91 280.69L234.48 280.90L237.06 281.11L239.63 281.31L242.20 281.51" fill="none" stroke="#9c1219" stroke-width="1.15" stroke-linejoin="round"/>
<path d="M39.00 293.13L41.57 292.62L44.14 292.06L46.72 291.44L49.29 290.78L51.86 290.08L54.43 289.34L57.01 288.57L59.58 287.76L62.15 286.84L64.72 285.79L67.29 284.64L69.87 283.47L72.44 282.31L75.01 281.22L77.58 280.25L80.15 279.46L82.73 278.75L85.30 278.08L87.87 277.45L90.44 276.87L93.02 276.33L95.59 275.85L98.16 275.43L100.73 275.06L103.30 274.73L105.88 274.42L108.45 274.14L111.02 273.88L113.59 273.64L116.16 273.42L118.74 273.24L121.31 273.08L123.88 272.93L126.45 272.79L129.03 272.66L131.60 272.55L134.17 272.46L136.74 272.42L139.31 272.42L141.89 272.44L144.46 272.48L147.03 272.53L149.60 272.58L152.17 272.65L154.75 272.73L157.32 272.83L159.89 272.98L162.46 273.17L165.04 273.39L167.61 273.62L170.18 273.84L172.75 274.07L175.32 274.31L177.90 274.57L180.47 274.84L183.04 275.12L185.61 275.40L188.18 275.68L190.76 275.95L193.33 276.22L195.90 276.49L198.47 276.73L201.05 276.97L203.62 277.21L206.19 277.44L208.76 277.68L211.33 277.91L213.91 278.14L216.48 278.36L219.05 278.58L221.62 278.80L224.19 279.02L226.77 279.23L229.34 279.44L231.91 279.65L234.48 279.86L237.06 280.06L239.63 280.26L242.20 280.45" fill="none" stroke="#9c1219" stroke-width="1.15" stroke-dasharray="4 2.2" stroke-linejoin="round"/>
</g>
<rect x="39.00" y="197.50" width="203.20" height="98.80" fill="none" stroke="#000" stroke-width="1.5"/>
<path d="M38.50 296.30v2.0M38.50 197.50v-2.0M53.50 296.30v5M53.50 197.50v-5M68.50 296.30v2.0M68.50 197.50v-2.0M82.50 296.30v2.0M82.50 197.50v-2.0M97.50 296.30v2.0M97.50 197.50v-2.0M111.50 296.30v5M111.50 197.50v-5M126.50 296.30v2.0M126.50 197.50v-2.0M140.50 296.30v2.0M140.50 197.50v-2.0M155.50 296.30v2.0M155.50 197.50v-2.0M169.50 296.30v5M169.50 197.50v-5M184.50 296.30v2.0M184.50 197.50v-2.0M198.50 296.30v2.0M198.50 197.50v-2.0M213.50 296.30v2.0M213.50 197.50v-2.0M227.50 296.30v5M227.50 197.50v-5M242.50 296.30v2.0M242.50 197.50v-2.0M39.00 296.50h-5.5M242.20 296.50h5.5M39.00 291.50h-2.7M242.20 291.50h2.7M39.00 285.50h-2.7M242.20 285.50h2.7M39.00 280.50h-2.7M242.20 280.50h2.7M39.00 275.50h-5.5M242.20 275.50h5.5M39.00 269.50h-2.7M242.20 269.50h2.7M39.00 264.50h-2.7M242.20 264.50h2.7M39.00 259.50h-2.7M242.20 259.50h2.7M39.00 254.50h-5.5M242.20 254.50h5.5M39.00 248.50h-2.7M242.20 248.50h2.7M39.00 243.50h-2.7M242.20 243.50h2.7M39.00 238.50h-2.7M242.20 238.50h2.7M39.00 232.50h-5.5M242.20 232.50h5.5M39.00 227.50h-2.7M242.20 227.50h2.7M39.00 222.50h-2.7M242.20 222.50h2.7M39.00 217.50h-2.7M242.20 217.50h2.7M39.00 211.50h-5.5M242.20 211.50h5.5M39.00 206.50h-2.7M242.20 206.50h2.7M39.00 201.50h-2.7M242.20 201.50h2.7" stroke="#000" stroke-width="1.25" fill="none"/>
<text transform="translate(53.51 311.70) scale(0.82 1)" font-size="7.9" text-anchor="middle">20</text>
<text transform="translate(111.57 311.70) scale(0.82 1)" font-size="7.9" text-anchor="middle">40</text>
<text transform="translate(169.63 311.70) scale(0.82 1)" font-size="7.9" text-anchor="middle">60</text>
<text transform="translate(227.69 311.70) scale(0.82 1)" font-size="7.9" text-anchor="middle">80</text>
<text x="29.50" y="298.68" font-size="6.6" text-anchor="end">0</text>
<text x="29.50" y="277.54" font-size="6.6" text-anchor="end">20</text>
<text x="29.50" y="256.41" font-size="6.6" text-anchor="end">40</text>
<text x="29.50" y="235.27" font-size="6.6" text-anchor="end">60</text>
<text x="29.50" y="214.14" font-size="6.6" text-anchor="end">80</text>
<g clip-path="url(#cld)">
<path d="M283.00 246.11L285.57 246.11L288.14 246.10L290.72 246.10L293.29 246.09L295.86 246.08L298.43 246.07L301.01 246.05L303.58 246.03L306.15 246.02L308.72 245.99L311.29 245.97L313.87 245.95L316.44 245.92L319.01 245.89L321.58 245.86L324.15 245.82L326.73 245.79L329.30 245.75L331.87 245.71L334.44 245.67L337.02 245.63L339.59 245.58L342.16 245.53L344.73 245.49L347.30 245.44L349.88 245.38L352.45 245.33L355.02 245.27L357.59 245.21L360.16 245.11L362.74 244.99L365.31 244.85L367.88 244.68L370.45 244.49L373.03 244.24L375.60 243.91L378.17 243.51L380.74 243.08L383.31 242.63L385.89 242.18L388.46 241.71L391.03 241.21L393.60 240.65L396.17 240.04L398.75 239.35L401.32 238.54L403.89 237.58L406.46 236.49L409.04 235.28L411.61 233.98L414.18 232.59L416.75 230.98L419.32 229.14L421.90 227.16L424.47 225.13L427.04 223.15L429.61 221.26L432.18 219.36L434.76 217.45L437.33 215.56L439.90 213.70L442.47 211.89L445.05 210.13L447.62 208.41L450.19 206.72L452.76 205.05L455.33 203.41L457.91 201.79L460.48 200.08L463.05 198.45L465.62 197.08L468.19 195.99L470.77 194.93L473.34 193.93L475.91 193.02L478.48 192.21L481.06 191.53L483.63 191.00L486.20 190.63L486.20 223.39L483.63 224.45L481.06 225.73L478.48 227.21L475.91 228.85L473.34 230.64L470.77 232.55L468.19 234.82L465.62 237.40L463.05 240.18L460.48 243.03L457.91 245.85L455.33 248.59L452.76 251.37L450.19 254.19L447.62 257.03L445.05 259.87L442.47 262.69L439.90 265.55L437.33 268.45L434.76 271.35L432.18 274.18L429.61 276.88L427.04 279.41L424.47 281.94L421.90 284.42L419.32 286.77L416.75 288.88L414.18 290.68L411.61 292.26L409.04 293.84L406.46 295.19L403.89 296.08L401.32 296.30L398.75 296.30L396.17 296.30L393.60 296.30L391.03 296.30L388.46 296.30L385.89 296.30L383.31 296.30L380.74 296.30L378.17 296.30L375.60 296.30L373.03 296.30L370.45 296.30L367.88 296.30L365.31 296.30L362.74 296.30L360.16 296.30L357.59 296.30L355.02 296.30L352.45 296.30L349.88 296.30L347.30 296.30L344.73 296.30L342.16 296.30L339.59 296.30L337.02 296.30L334.44 296.30L331.87 296.30L329.30 296.30L326.73 296.30L324.15 296.30L321.58 296.30L319.01 296.30L316.44 296.30L313.87 296.30L311.29 296.30L308.72 296.30L306.15 296.30L303.58 296.30L301.01 296.30L298.43 296.30L295.86 296.30L293.29 296.30L290.72 296.30L288.14 296.30L285.57 296.30L283.00 296.30Z" fill="#e1e1e1"/>
<path d="M283.00 294.71L285.57 294.71L288.14 294.70L290.72 294.68L293.29 294.65L295.86 294.61L298.43 294.56L301.01 294.51L303.58 294.45L306.15 294.39L308.72 294.32L311.29 294.24L313.87 294.16L316.44 294.08L319.01 293.99L321.58 293.90L324.15 293.80L326.73 293.70L329.30 293.59L331.87 293.48L334.44 293.35L337.02 293.21L339.59 293.06L342.16 292.90L344.73 292.73L347.30 292.55L349.88 292.37L352.45 292.17L355.02 291.97L357.59 291.76L360.16 291.52L362.74 291.26L365.31 290.97L367.88 290.67L370.45 290.36L373.03 290.02L375.60 289.68L378.17 289.32L380.74 288.95L383.31 288.57L385.89 288.18L388.46 287.76L391.03 287.30L393.60 286.81L396.17 286.28L398.75 285.73L401.32 285.14L403.89 284.52L406.46 283.87L409.04 283.20L411.61 282.50L414.18 281.77L416.75 280.96L419.32 280.08L421.90 279.14L424.47 278.16L427.04 277.17L429.61 276.19L432.18 275.18L434.76 274.14L437.33 273.05L439.90 271.91L442.47 270.71L445.05 269.43L447.62 268.04L450.19 266.59L452.76 265.09L455.33 263.57L457.91 262.05L460.48 260.49L463.05 258.89L465.62 257.27L468.19 255.63L470.77 254.02L473.34 252.42L475.91 250.83L478.48 249.25L481.06 247.67L483.63 246.09L486.20 244.52L486.20 261.43L483.63 262.85L481.06 264.28L478.48 265.69L475.91 267.10L473.34 268.51L470.77 269.92L468.19 271.34L465.62 272.77L463.05 274.19L460.48 275.57L457.91 276.91L455.33 278.20L452.76 279.47L450.19 280.72L447.62 281.90L445.05 283.00L442.47 284.00L439.90 284.91L437.33 285.75L434.76 286.53L432.18 287.27L429.61 287.98L427.04 288.67L424.47 289.34L421.90 289.99L419.32 290.59L416.75 291.12L414.18 291.57L411.61 291.94L409.04 292.29L406.46 292.61L403.89 292.90L401.32 293.18L398.75 293.45L396.17 293.70L393.60 293.94L391.03 294.17L388.46 294.39L385.89 294.61L383.31 294.82L380.74 295.03L378.17 295.23L375.60 295.43L373.03 295.61L370.45 295.78L367.88 295.93L365.31 296.08L362.74 296.20L360.16 296.30L357.59 296.30L355.02 296.30L352.45 296.30L349.88 296.30L347.30 296.30L344.73 296.30L342.16 296.30L339.59 296.30L337.02 296.30L334.44 296.30L331.87 296.30L329.30 296.30L326.73 296.30L324.15 296.30L321.58 296.30L319.01 296.30L316.44 296.30L313.87 296.30L311.29 296.30L308.72 296.30L306.15 296.30L303.58 296.30L301.01 296.30L298.43 296.30L295.86 296.30L293.29 296.30L290.72 296.30L288.14 296.30L285.57 296.30L283.00 296.30Z" fill="#e1e1e1"/>
<path d="M283.00 294.19L285.57 294.09L288.14 293.99L290.72 293.87L293.29 293.75L295.86 293.61L298.43 293.47L301.01 293.32L303.58 293.16L306.15 292.99L308.72 292.82L311.29 292.64L313.87 292.45L316.44 292.26L319.01 292.06L321.58 291.86L324.15 291.65L326.73 291.45L329.30 291.23L331.87 291.02L334.44 290.79L337.02 290.56L339.59 290.31L342.16 290.05L344.73 289.77L347.30 289.48L349.88 289.16L352.45 288.82L355.02 288.46L357.59 288.05L360.16 287.55L362.74 286.98L365.31 286.34L367.88 285.64L370.45 284.88L373.03 284.07L375.60 283.22L378.17 282.33L380.74 281.41L383.31 280.47L385.89 279.51L388.46 278.44L391.03 277.28L393.60 276.02L396.17 274.68L398.75 273.26L401.32 271.72L403.89 269.98L406.46 268.10L409.04 266.14L411.61 264.14L414.18 262.17L416.75 260.16L419.32 258.11L421.90 256.06L424.47 254.07L427.04 252.17L429.61 250.38L432.18 248.62L434.76 246.90L437.33 245.23L439.90 243.64L442.47 242.16L445.05 240.74L447.62 239.35L450.19 238.02L452.76 236.79L455.33 235.70L457.91 234.75L460.48 233.81L463.05 232.88L465.62 232.08L468.19 231.49L470.77 231.23L473.34 231.30L475.91 231.43L478.48 231.61L481.06 231.90L483.63 232.32L486.20 232.90L486.20 241.35L483.63 241.00L481.06 240.81L478.48 240.74L475.91 240.76L473.34 240.84L470.77 240.96L468.19 241.41L465.62 242.16L463.05 243.13L460.48 244.20L457.91 245.28L455.33 246.35L452.76 247.58L450.19 248.94L447.62 250.39L445.05 251.91L442.47 253.44L439.90 255.03L437.33 256.70L434.76 258.44L432.18 260.21L429.61 262.00L427.04 263.78L424.47 265.59L421.90 267.40L419.32 269.20L416.75 270.94L414.18 272.61L411.61 274.21L409.04 275.83L406.46 277.42L403.89 278.96L401.32 280.39L398.75 281.68L396.17 282.88L393.60 284.00L391.03 285.04L388.46 285.99L385.89 286.85L383.31 287.61L380.74 288.36L378.17 289.08L375.60 289.78L373.03 290.45L370.45 291.08L367.88 291.67L365.31 292.21L362.74 292.69L360.16 293.10L357.59 293.44L355.02 293.71L352.45 293.93L349.88 294.13L347.30 294.31L344.73 294.46L342.16 294.60L339.59 294.73L337.02 294.84L334.44 294.94L331.87 295.04L329.30 295.13L326.73 295.22L324.15 295.30L321.58 295.39L319.01 295.47L316.44 295.55L313.87 295.63L311.29 295.71L308.72 295.79L306.15 295.86L303.58 295.93L301.01 295.99L298.43 296.05L295.86 296.11L293.29 296.16L290.72 296.20L288.14 296.24L285.57 296.27L283.00 296.30Z" fill="#bccfe5"/>
<path d="M283.00 286.26L285.57 285.94L288.14 285.60L290.72 285.25L293.29 284.88L295.86 284.50L298.43 284.11L301.01 283.71L303.58 283.29L306.15 282.87L308.72 282.43L311.29 281.98L313.87 281.52L316.44 281.06L319.01 280.58L321.58 280.10L324.15 279.61L326.73 279.12L329.30 278.61L331.87 278.08L334.44 277.54L337.02 276.99L339.59 276.41L342.16 275.83L344.73 275.22L347.30 274.60L349.88 273.97L352.45 273.33L355.02 272.67L357.59 271.99L360.16 271.28L362.74 270.54L365.31 269.77L367.88 268.99L370.45 268.18L373.03 267.36L375.60 266.53L378.17 265.69L380.74 264.84L383.31 263.99L385.89 263.14L388.46 262.28L391.03 261.40L393.60 260.51L396.17 259.62L398.75 258.71L401.32 257.81L403.89 256.90L406.46 255.99L409.04 255.09L411.61 254.20L414.18 253.32L416.75 252.44L419.32 251.56L421.90 250.69L424.47 249.81L427.04 248.94L429.61 248.07L432.18 247.20L434.76 246.33L437.33 245.46L439.90 244.59L442.47 243.71L445.05 242.82L447.62 241.87L450.19 240.90L452.76 239.91L455.33 238.92L457.91 237.95L460.48 237.01L463.05 236.12L465.62 235.30L468.19 234.56L470.77 233.91L473.34 233.37L475.91 232.86L478.48 232.40L481.06 231.98L483.63 231.62L486.20 231.31L486.20 238.71L483.63 238.91L481.06 239.17L478.48 239.48L475.91 239.85L473.34 240.26L470.77 240.71L468.19 241.26L465.62 241.91L463.05 242.64L460.48 243.45L457.91 244.31L455.33 245.21L452.76 246.13L450.19 247.05L447.62 247.96L445.05 248.84L442.47 249.68L439.90 250.49L437.33 251.31L434.76 252.12L432.18 252.94L429.61 253.75L427.04 254.56L424.47 255.38L421.90 256.19L419.32 257.00L416.75 257.81L414.18 258.62L411.61 259.42L409.04 260.23L406.46 261.05L403.89 261.86L401.32 262.67L398.75 263.47L396.17 264.27L393.60 265.06L391.03 265.85L388.46 266.61L385.89 267.37L383.31 268.11L380.74 268.85L378.17 269.59L375.60 270.33L373.03 271.07L370.45 271.79L367.88 272.50L365.31 273.21L362.74 273.89L360.16 274.56L357.59 275.20L355.02 275.83L352.45 276.43L349.88 277.02L347.30 277.60L344.73 278.17L342.16 278.72L339.59 279.25L337.02 279.77L334.44 280.28L331.87 280.77L329.30 281.25L326.73 281.71L324.15 282.17L321.58 282.61L319.01 283.05L316.44 283.49L313.87 283.91L311.29 284.33L308.72 284.75L306.15 285.15L303.58 285.55L301.01 285.94L298.43 286.32L295.86 286.69L293.29 287.05L290.72 287.40L288.14 287.73L285.57 288.06L283.00 288.37Z" fill="#a4bfdc" fill-opacity="0.8"/>
<path d="M283.00 289.96L285.57 289.73L288.14 289.51L290.72 289.29L293.29 289.06L295.86 288.84L298.43 288.62L301.01 288.40L303.58 288.18L306.15 287.97L308.72 287.75L311.29 287.54L313.87 287.32L316.44 287.11L319.01 286.90L321.58 286.69L324.15 286.48L326.73 286.27L329.30 286.06L331.87 285.85L334.44 285.65L337.02 285.44L339.59 285.24L342.16 285.03L344.73 284.83L347.30 284.63L349.88 284.43L352.45 284.22L355.02 284.02L357.59 283.83L360.16 283.63L362.74 283.44L365.31 283.25L367.88 283.06L370.45 282.87L373.03 282.68L375.60 282.49L378.17 282.30L380.74 282.11L383.31 281.92L385.89 281.73L388.46 281.53L391.03 281.34L393.60 281.15L396.17 280.95L398.75 280.76L401.32 280.56L403.89 280.36L406.46 280.16L409.04 279.95L411.61 279.73L414.18 279.51L416.75 279.28L419.32 279.04L421.90 278.80L424.47 278.55L427.04 278.30L429.61 278.04L432.18 277.77L434.76 277.50L437.33 277.23L439.90 276.96L442.47 276.68L445.05 276.40L447.62 276.12L450.19 275.83L452.76 275.54L455.33 275.25L457.91 274.96L460.48 274.66L463.05 274.35L465.62 274.05L468.19 273.74L470.77 273.42L473.34 273.11L475.91 272.79L478.48 272.46L481.06 272.13L483.63 271.80L486.20 271.47L486.20 276.75L483.63 277.06L481.06 277.36L478.48 277.66L475.91 277.96L473.34 278.26L470.77 278.55L468.19 278.83L465.62 279.12L463.05 279.40L460.48 279.67L457.91 279.94L455.33 280.21L452.76 280.48L450.19 280.74L447.62 281.00L445.05 281.26L442.47 281.51L439.90 281.76L437.33 282.01L434.76 282.25L432.18 282.49L429.61 282.73L427.04 282.96L424.47 283.19L421.90 283.41L419.32 283.63L416.75 283.84L414.18 284.05L411.61 284.24L409.04 284.43L406.46 284.61L403.89 284.79L401.32 284.96L398.75 285.13L396.17 285.30L393.60 285.47L391.03 285.63L388.46 285.80L385.89 285.97L383.31 286.13L380.74 286.30L378.17 286.46L375.60 286.63L373.03 286.79L370.45 286.95L367.88 287.11L365.31 287.27L362.74 287.44L360.16 287.60L357.59 287.77L355.02 287.94L352.45 288.12L349.88 288.29L347.30 288.47L344.73 288.64L342.16 288.82L339.59 289.00L337.02 289.17L334.44 289.35L331.87 289.53L329.30 289.71L326.73 289.89L324.15 290.08L321.58 290.26L319.01 290.44L316.44 290.63L313.87 290.81L311.29 291.00L308.72 291.19L306.15 291.38L303.58 291.57L301.01 291.76L298.43 291.95L295.86 292.15L293.29 292.34L290.72 292.54L288.14 292.73L285.57 292.93L283.00 293.13Z" fill="#f9cd9f"/>
<path d="M283.00 283.62L285.57 283.02L288.14 282.42L290.72 281.84L293.29 281.28L295.86 280.72L298.43 280.18L301.01 279.64L303.58 279.12L306.15 278.62L308.72 278.12L311.29 277.64L313.87 277.17L316.44 276.72L319.01 276.27L321.58 275.84L324.15 275.43L326.73 275.02L329.30 274.63L331.87 274.23L334.44 273.83L337.02 273.45L339.59 273.07L342.16 272.72L344.73 272.38L347.30 272.07L349.88 271.78L352.45 271.53L355.02 271.32L357.59 271.14L360.16 270.96L362.74 270.79L365.31 270.62L367.88 270.47L370.45 270.33L373.03 270.20L375.60 270.09L378.17 269.99L380.74 269.91L383.31 269.85L385.89 269.81L388.46 269.77L391.03 269.74L393.60 269.70L396.17 269.67L398.75 269.64L401.32 269.62L403.89 269.60L406.46 269.58L409.04 269.56L411.61 269.55L414.18 269.54L416.75 269.54L419.32 269.54L421.90 269.54L424.47 269.55L427.04 269.56L429.61 269.58L432.18 269.59L434.76 269.61L437.33 269.63L439.90 269.65L442.47 269.68L445.05 269.71L447.62 269.75L450.19 269.80L452.76 269.87L455.33 269.94L457.91 270.03L460.48 270.12L463.05 270.22L465.62 270.33L468.19 270.45L470.77 270.58L473.34 270.72L475.91 270.86L478.48 271.00L481.06 271.15L483.63 271.31L486.20 271.47L486.20 276.75L483.63 276.58L481.06 276.41L478.48 276.24L475.91 276.09L473.34 275.93L470.77 275.78L468.19 275.64L465.62 275.51L463.05 275.39L460.48 275.27L457.91 275.16L455.33 275.06L452.76 274.98L450.19 274.90L447.62 274.83L445.05 274.78L442.47 274.73L439.90 274.70L437.33 274.66L434.76 274.63L432.18 274.60L429.61 274.57L427.04 274.54L424.47 274.51L421.90 274.49L419.32 274.47L416.75 274.46L414.18 274.45L411.61 274.45L409.04 274.44L406.46 274.45L403.89 274.45L401.32 274.46L398.75 274.47L396.17 274.49L393.60 274.51L391.03 274.53L388.46 274.55L385.89 274.57L383.31 274.60L380.74 274.65L378.17 274.71L375.60 274.80L373.03 274.90L370.45 275.01L367.88 275.14L365.31 275.28L362.74 275.43L360.16 275.59L357.59 275.75L355.02 275.92L352.45 276.12L349.88 276.36L347.30 276.63L344.73 276.93L342.16 277.25L339.59 277.59L337.02 277.95L334.44 278.33L331.87 278.71L329.30 279.09L326.73 279.48L324.15 279.87L321.58 280.27L319.01 280.69L316.44 281.12L313.87 281.56L311.29 282.02L308.72 282.48L306.15 282.96L303.58 283.46L301.01 283.96L298.43 284.48L295.86 285.01L293.29 285.56L290.72 286.11L288.14 286.68L285.57 287.26L283.00 287.85Z" fill="#dfaaae" fill-opacity="0.8"/>
<path d="M297.51 197.50V296.30M355.57 197.50V296.30M413.63 197.50V296.30M471.69 197.50V296.30M283.00 275.17H486.20M283.00 254.03H486.20M283.00 232.90H486.20M283.00 211.77H486.20M283.00 190.63H486.20" stroke="#c8c8c8" stroke-width="0.85" stroke-dasharray="3 3.6" fill="none"/>
<path d="M283.00 291.54L285.57 291.33L288.14 291.12L290.72 290.91L293.29 290.70L295.86 290.49L298.43 290.29L301.01 290.08L303.58 289.88L306.15 289.67L308.72 289.47L311.29 289.27L313.87 289.07L316.44 288.87L319.01 288.67L321.58 288.47L324.15 288.28L326.73 288.08L329.30 287.89L331.87 287.69L334.44 287.50L337.02 287.31L339.59 287.12L342.16 286.93L344.73 286.74L347.30 286.55L349.88 286.36L352.45 286.17L355.02 285.98L357.59 285.80L360.16 285.62L362.74 285.44L365.31 285.26L367.88 285.09L370.45 284.91L373.03 284.74L375.60 284.56L378.17 284.38L380.74 284.21L383.31 284.03L385.89 283.85L388.46 283.67L391.03 283.49L393.60 283.31L396.17 283.13L398.75 282.95L401.32 282.76L403.89 282.58L406.46 282.39L409.04 282.19L411.61 281.99L414.18 281.78L416.75 281.56L419.32 281.34L421.90 281.11L424.47 280.87L427.04 280.63L429.61 280.38L432.18 280.13L434.76 279.88L437.33 279.62L439.90 279.36L442.47 279.09L445.05 278.83L447.62 278.56L450.19 278.29L452.76 278.01L455.33 277.73L457.91 277.45L460.48 277.16L463.05 276.87L465.62 276.58L468.19 276.28L470.77 275.98L473.34 275.68L475.91 275.37L478.48 275.06L481.06 274.75L483.63 274.43L486.20 274.11" fill="none" stroke="#ee7d14" stroke-width="1.2" stroke-linejoin="round"/>
<path d="M283.00 289.43L285.57 289.23L288.14 289.02L290.72 288.82L293.29 288.62L295.86 288.41L298.43 288.22L301.01 288.02L303.58 287.82L306.15 287.63L308.72 287.44L311.29 287.24L313.87 287.05L316.44 286.87L319.01 286.68L321.58 286.49L324.15 286.31L326.73 286.12L329.30 285.94L331.87 285.76L334.44 285.58L337.02 285.40L339.59 285.23L342.16 285.05L344.73 284.87L347.30 284.70L349.88 284.53L352.45 284.36L355.02 284.18L357.59 284.02L360.16 283.85L362.74 283.69L365.31 283.53L367.88 283.37L370.45 283.22L373.03 283.06L375.60 282.91L378.17 282.75L380.74 282.59L383.31 282.43L385.89 282.27L388.46 282.11L391.03 281.95L393.60 281.79L396.17 281.63L398.75 281.47L401.32 281.31L403.89 281.14L406.46 280.97L409.04 280.79L411.61 280.60L414.18 280.41L416.75 280.20L419.32 279.99L421.90 279.77L424.47 279.55L427.04 279.31L429.61 279.07L432.18 278.83L434.76 278.58L437.33 278.33L439.90 278.08L442.47 277.83L445.05 277.57L447.62 277.31L450.19 277.05L452.76 276.79L455.33 276.52L457.91 276.25L460.48 275.97L463.05 275.70L465.62 275.42L468.19 275.13L470.77 274.85L473.34 274.56L475.91 274.26L478.48 273.96L481.06 273.66L483.63 273.36L486.20 273.05" fill="none" stroke="#ee7d14" stroke-width="1.2" stroke-dasharray="4 2.2" stroke-linejoin="round"/>
<path d="M283.00 295.77L285.57 295.77L288.14 295.76L290.72 295.75L293.29 295.73L295.86 295.71L298.43 295.69L301.01 295.66L303.58 295.63L306.15 295.59L308.72 295.55L311.29 295.51L313.87 295.47L316.44 295.43L319.01 295.38L321.58 295.34L324.15 295.29L326.73 295.24L329.30 295.19L331.87 295.12L334.44 295.05L337.02 294.97L339.59 294.89L342.16 294.79L344.73 294.69L347.30 294.58L349.88 294.47L352.45 294.34L355.02 294.22L357.59 294.07L360.16 293.91L362.74 293.73L365.31 293.52L367.88 293.30L370.45 293.07L373.03 292.82L375.60 292.55L378.17 292.27L380.74 291.99L383.31 291.69L385.89 291.39L388.46 291.07L391.03 290.73L393.60 290.37L396.17 289.99L398.75 289.59L401.32 289.16L403.89 288.71L406.46 288.24L409.04 287.74L411.61 287.22L414.18 286.67L416.75 286.04L419.32 285.33L421.90 284.56L424.47 283.75L427.04 282.92L429.61 282.08L432.18 281.23L434.76 280.33L437.33 279.40L439.90 278.41L442.47 277.36L445.05 276.22L447.62 274.97L450.19 273.65L452.76 272.28L455.33 270.88L457.91 269.48L460.48 268.03L463.05 266.54L465.62 265.02L468.19 263.49L470.77 261.97L473.34 260.47L475.91 258.97L478.48 257.47L481.06 255.97L483.63 254.47L486.20 252.98" fill="none" stroke="#161616" stroke-width="1.2" stroke-linejoin="round"/>
<path d="M283.00 295.56L285.57 295.56L288.14 295.55L290.72 295.53L293.29 295.51L295.86 295.49L298.43 295.46L301.01 295.42L303.58 295.38L306.15 295.34L308.72 295.30L311.29 295.25L313.87 295.20L316.44 295.14L319.01 295.09L321.58 295.03L324.15 294.98L326.73 294.92L329.30 294.86L331.87 294.79L334.44 294.71L337.02 294.63L339.59 294.53L342.16 294.43L344.73 294.32L347.30 294.20L349.88 294.07L352.45 293.94L355.02 293.80L357.59 293.64L360.16 293.46L362.74 293.25L365.31 293.02L367.88 292.77L370.45 292.50L373.03 292.22L375.60 291.92L378.17 291.61L380.74 291.30L383.31 290.97L385.89 290.64L388.46 290.29L391.03 289.92L393.60 289.54L396.17 289.13L398.75 288.71L401.32 288.25L403.89 287.78L406.46 287.28L409.04 286.75L411.61 286.19L414.18 285.60L416.75 284.93L419.32 284.16L421.90 283.33L424.47 282.46L427.04 281.57L429.61 280.68L432.18 279.78L434.76 278.85L437.33 277.88L439.90 276.85L442.47 275.77L445.05 274.61L447.62 273.37L450.19 272.05L452.76 270.69L455.33 269.30L457.91 267.89L460.48 266.44L463.05 264.93L465.62 263.39L468.19 261.86L470.77 260.37L473.34 258.92L475.91 257.48L478.48 256.07L481.06 254.67L483.63 253.29L486.20 251.92" fill="none" stroke="#161616" stroke-width="1.2" stroke-dasharray="4 2.2" stroke-linejoin="round"/>
<path d="M283.00 278.34L285.57 278.34L288.14 278.33L290.72 278.33L293.29 278.32L295.86 278.32L298.43 278.31L301.01 278.30L303.58 278.28L306.15 278.27L308.72 278.26L311.29 278.24L313.87 278.22L316.44 278.21L319.01 278.19L321.58 278.17L324.15 278.15L326.73 278.12L329.30 278.09L331.87 278.05L334.44 278.00L337.02 277.94L339.59 277.87L342.16 277.79L344.73 277.71L347.30 277.62L349.88 277.52L352.45 277.41L355.02 277.30L357.59 277.18L360.16 277.03L362.74 276.85L365.31 276.65L367.88 276.43L370.45 276.19L373.03 275.92L375.60 275.60L378.17 275.25L380.74 274.84L383.31 274.37L385.89 273.81L388.46 273.07L391.03 272.17L393.60 271.16L396.17 270.08L398.75 268.98L401.32 267.88L403.89 266.73L406.46 265.51L409.04 264.22L411.61 262.83L414.18 261.34L416.75 259.71L419.32 257.86L421.90 255.82L424.47 253.65L427.04 251.32L429.61 248.75L432.18 246.03L434.76 243.28L437.33 240.64L439.90 238.04L442.47 235.45L445.05 232.91L447.62 230.49L450.19 228.20L452.76 225.98L455.33 223.87L457.91 221.89L460.48 220.06L463.05 218.27L465.62 216.57L468.19 215.03L470.77 213.74L473.34 212.70L475.91 211.74L478.48 210.88L481.06 210.13L483.63 209.53L486.20 209.12" fill="none" stroke="#161616" stroke-width="1.2" stroke-dasharray="1.1 1.1" stroke-linejoin="round"/>
<path d="M283.00 287.32L285.57 287.00L288.14 286.67L290.72 286.32L293.29 285.96L295.86 285.60L298.43 285.21L301.01 284.82L303.58 284.42L306.15 284.01L308.72 283.59L311.29 283.16L313.87 282.72L316.44 282.27L319.01 281.82L321.58 281.36L324.15 280.89L326.73 280.42L329.30 279.93L331.87 279.43L334.44 278.91L337.02 278.38L339.59 277.83L342.16 277.27L344.73 276.69L347.30 276.10L349.88 275.50L352.45 274.88L355.02 274.25L357.59 273.60L360.16 272.92L362.74 272.21L365.31 271.49L367.88 270.75L370.45 269.99L373.03 269.21L375.60 268.43L378.17 267.64L380.74 266.85L383.31 266.05L385.89 265.26L388.46 264.45L391.03 263.62L393.60 262.79L396.17 261.94L398.75 261.09L401.32 260.24L403.89 259.38L406.46 258.52L409.04 257.66L411.61 256.81L414.18 255.97L416.75 255.12L419.32 254.28L421.90 253.44L424.47 252.59L427.04 251.75L429.61 250.91L432.18 250.07L434.76 249.22L437.33 248.38L439.90 247.54L442.47 246.70L445.05 245.83L447.62 244.92L450.19 243.97L452.76 243.02L455.33 242.06L457.91 241.13L460.48 240.23L463.05 239.38L465.62 238.60L468.19 237.91L470.77 237.31L473.34 236.81L475.91 236.36L478.48 235.94L481.06 235.58L483.63 235.26L486.20 235.01" fill="none" stroke="#1d5699" stroke-width="1.25" stroke-linejoin="round"/>
<path d="M283.00 295.24L285.57 295.18L288.14 295.11L290.72 295.04L293.29 294.95L295.86 294.86L298.43 294.76L301.01 294.65L303.58 294.54L306.15 294.42L308.72 294.30L311.29 294.17L313.87 294.04L316.44 293.91L319.01 293.77L321.58 293.62L324.15 293.48L326.73 293.33L329.30 293.18L331.87 293.03L334.44 292.87L337.02 292.70L339.59 292.52L342.16 292.33L344.73 292.12L347.30 291.89L349.88 291.65L352.45 291.38L355.02 291.08L357.59 290.74L360.16 290.33L362.74 289.83L365.31 289.27L367.88 288.65L370.45 287.98L373.03 287.26L375.60 286.50L378.17 285.70L380.74 284.88L383.31 284.04L385.89 283.18L388.46 282.22L391.03 281.16L393.60 280.01L396.17 278.78L398.75 277.47L401.32 276.05L403.89 274.47L406.46 272.76L409.04 270.98L411.61 269.18L414.18 267.39L416.75 265.55L419.32 263.65L421.90 261.73L424.47 259.83L427.04 257.97L429.61 256.19L432.18 254.42L434.76 252.67L437.33 250.97L439.90 249.34L442.47 247.80L445.05 246.32L447.62 244.87L450.19 243.48L452.76 242.19L455.33 241.02L457.91 240.02L460.48 239.01L463.05 238.01L465.62 237.12L468.19 236.45L470.77 236.10L473.34 236.07L475.91 236.10L478.48 236.18L481.06 236.35L483.63 236.66L486.20 237.13" fill="none" stroke="#1d5699" stroke-width="1.2" stroke-dasharray="1.1 1.1" stroke-linejoin="round"/>
<path d="M283.00 285.73L285.57 285.14L288.14 284.55L290.72 283.98L293.29 283.42L295.86 282.87L298.43 282.33L301.01 281.80L303.58 281.29L306.15 280.79L308.72 280.30L311.29 279.83L313.87 279.37L316.44 278.92L319.01 278.48L321.58 278.06L324.15 277.65L326.73 277.25L329.30 276.86L331.87 276.47L334.44 276.08L337.02 275.70L339.59 275.33L342.16 274.98L344.73 274.65L347.30 274.35L349.88 274.07L352.45 273.83L355.02 273.62L357.59 273.44L360.16 273.27L362.74 273.11L365.31 272.95L367.88 272.81L370.45 272.67L373.03 272.55L375.60 272.44L378.17 272.35L380.74 272.28L383.31 272.23L385.89 272.19L388.46 272.16L391.03 272.13L393.60 272.11L396.17 272.08L398.75 272.06L401.32 272.04L403.89 272.02L406.46 272.01L409.04 272.00L411.61 272.00L414.18 272.00L416.75 272.00L419.32 272.01L421.90 272.02L424.47 272.03L427.04 272.05L429.61 272.07L432.18 272.09L434.76 272.12L437.33 272.15L439.90 272.18L442.47 272.21L445.05 272.24L447.62 272.29L450.19 272.35L452.76 272.42L455.33 272.50L457.91 272.59L460.48 272.69L463.05 272.80L465.62 272.92L468.19 273.05L470.77 273.18L473.34 273.32L475.91 273.47L478.48 273.62L481.06 273.78L483.63 273.94L486.20 274.11" fill="none" stroke="#9c1219" stroke-width="1.15" stroke-linejoin="round"/>
<path d="M283.00 284.68L285.57 284.07L288.14 283.47L290.72 282.89L293.29 282.32L295.86 281.77L298.43 281.23L301.01 280.70L303.58 280.18L306.15 279.68L308.72 279.19L311.29 278.72L313.87 278.26L316.44 277.82L319.01 277.39L321.58 276.98L324.15 276.58L326.73 276.20L329.30 275.82L331.87 275.45L334.44 275.08L337.02 274.73L339.59 274.38L342.16 274.06L344.73 273.75L347.30 273.46L349.88 273.20L352.45 272.97L355.02 272.77L357.59 272.60L360.16 272.43L362.74 272.27L365.31 272.11L367.88 271.97L370.45 271.83L373.03 271.71L375.60 271.60L378.17 271.51L380.74 271.44L383.31 271.38L385.89 271.35L388.46 271.32L391.03 271.29L393.60 271.26L396.17 271.24L398.75 271.21L401.32 271.19L403.89 271.18L406.46 271.17L409.04 271.16L411.61 271.15L414.18 271.15L416.75 271.15L419.32 271.16L421.90 271.17L424.47 271.19L427.04 271.21L429.61 271.23L432.18 271.25L434.76 271.27L437.33 271.30L439.90 271.33L442.47 271.36L445.05 271.39L447.62 271.44L450.19 271.49L452.76 271.56L455.33 271.63L457.91 271.71L460.48 271.80L463.05 271.90L465.62 272.01L468.19 272.12L470.77 272.24L473.34 272.36L475.91 272.49L478.48 272.62L481.06 272.76L483.63 272.91L486.20 273.05" fill="none" stroke="#9c1219" stroke-width="1.15" stroke-dasharray="4 2.2" stroke-linejoin="round"/>
</g>
<rect x="283.00" y="197.50" width="203.20" height="98.80" fill="none" stroke="#000" stroke-width="1.5"/>
<path d="M282.50 296.30v2.0M282.50 197.50v-2.0M297.50 296.30v5M297.50 197.50v-5M312.50 296.30v2.0M312.50 197.50v-2.0M326.50 296.30v2.0M326.50 197.50v-2.0M341.50 296.30v2.0M341.50 197.50v-2.0M355.50 296.30v5M355.50 197.50v-5M370.50 296.30v2.0M370.50 197.50v-2.0M384.50 296.30v2.0M384.50 197.50v-2.0M399.50 296.30v2.0M399.50 197.50v-2.0M413.50 296.30v5M413.50 197.50v-5M428.50 296.30v2.0M428.50 197.50v-2.0M442.50 296.30v2.0M442.50 197.50v-2.0M457.50 296.30v2.0M457.50 197.50v-2.0M471.50 296.30v5M471.50 197.50v-5M486.50 296.30v2.0M486.50 197.50v-2.0M283.00 296.50h-5.5M486.20 296.50h5.5M283.00 291.50h-2.7M486.20 291.50h2.7M283.00 285.50h-2.7M486.20 285.50h2.7M283.00 280.50h-2.7M486.20 280.50h2.7M283.00 275.50h-5.5M486.20 275.50h5.5M283.00 269.50h-2.7M486.20 269.50h2.7M283.00 264.50h-2.7M486.20 264.50h2.7M283.00 259.50h-2.7M486.20 259.50h2.7M283.00 254.50h-5.5M486.20 254.50h5.5M283.00 248.50h-2.7M486.20 248.50h2.7M283.00 243.50h-2.7M486.20 243.50h2.7M283.00 238.50h-2.7M486.20 238.50h2.7M283.00 232.50h-5.5M486.20 232.50h5.5M283.00 227.50h-2.7M486.20 227.50h2.7M283.00 222.50h-2.7M486.20 222.50h2.7M283.00 217.50h-2.7M486.20 217.50h2.7M283.00 211.50h-5.5M486.20 211.50h5.5M283.00 206.50h-2.7M486.20 206.50h2.7M283.00 201.50h-2.7M486.20 201.50h2.7" stroke="#000" stroke-width="1.25" fill="none"/>
<text transform="translate(297.51 311.70) scale(0.82 1)" font-size="7.9" text-anchor="middle">20</text>
<text transform="translate(355.57 311.70) scale(0.82 1)" font-size="7.9" text-anchor="middle">40</text>
<text transform="translate(413.63 311.70) scale(0.82 1)" font-size="7.9" text-anchor="middle">60</text>
<text transform="translate(471.69 311.70) scale(0.82 1)" font-size="7.9" text-anchor="middle">80</text>
<text x="273.50" y="298.68" font-size="6.6" text-anchor="end">0</text>
<text x="273.50" y="277.54" font-size="6.6" text-anchor="end">20</text>
<text x="273.50" y="256.41" font-size="6.6" text-anchor="end">40</text>
<text x="273.50" y="235.27" font-size="6.6" text-anchor="end">60</text>
<text x="273.50" y="214.14" font-size="6.6" text-anchor="end">80</text>
<g clip-path="url(#cle)">
<path d="M40.50 383.70L242.30 383.70L242.30 389.25L40.50 388.60Z" fill="#ececec"/>
<path d="M40.50 385.33L242.30 385.33L242.30 389.25L40.50 388.60Z" fill="#fbe2c8" fill-opacity="0.8"/>
<path d="M54.91 369.00V467.00M112.57 369.00V467.00M170.23 369.00V467.00M227.89 369.00V467.00M40.50 450.67H242.30M40.50 434.33H242.30M40.50 418.00H242.30M40.50 401.67H242.30M40.50 385.33H242.30" stroke="#c8c8c8" stroke-width="0.85" stroke-dasharray="3 3.6" fill="none"/>
<path d="M109.69 401.01L112.57 404.93L118.34 402.65L124.10 401.67L131.31 401.34L137.08 403.30L141.40 408.20L147.17 404.93L155.81 402.32L164.46 409.51L173.11 407.55L181.76 409.83L190.41 405.59L199.06 403.30L207.71 400.03L216.35 391.87L222.12 382.07L227.89 382.07L233.65 373.90L239.42 370.63L242.30 369.00" fill="none" stroke="#e49a9c" stroke-width="0.8" stroke-linejoin="round"/>
<path d="M115.45 404.28L124.10 406.89L132.75 404.93L147.17 407.22L158.70 408.20L170.23 412.12L181.76 410.81L193.29 414.73L201.94 421.27L207.71 411.47L216.35 401.67L225.00 390.23L230.77 383.70L236.53 378.80L242.30 382.07" fill="none" stroke="#e49a9c" stroke-width="0.8" stroke-linejoin="round"/>
<path d="M204.82 390.23L213.47 393.50L222.12 395.13L227.89 392.52L233.65 395.13L242.30 391.87" fill="none" stroke="#a8a8a8" stroke-width="0.8" stroke-linejoin="round"/>
<path d="M210.59 388.60L219.24 390.23L227.89 389.25L236.53 391.21L242.30 388.60" fill="none" stroke="#c8c8c8" stroke-width="0.8" stroke-linejoin="round"/>
<path d="M40.50 385.17L242.30 385.17" fill="none" stroke="#161616" stroke-width="1.5" stroke-dasharray="4.5 2" stroke-linejoin="round"/>
<path d="M40.50 385.99L42.78 385.99L45.06 386.00L47.34 386.01L49.62 386.02L51.90 386.04L54.18 386.05L56.47 386.07L58.75 386.09L61.03 386.11L63.31 386.13L65.59 386.16L67.87 386.18L70.15 386.21L72.43 386.24L74.71 386.27L76.99 386.30L79.27 386.33L81.55 386.36L83.83 386.39L86.11 386.43L88.40 386.46L90.68 386.50L92.96 386.53L95.24 386.57L97.52 386.60L99.80 386.64L102.08 386.68L104.36 386.71L106.64 386.75L108.92 386.80L111.20 386.84L113.48 386.89L115.76 386.94L118.05 386.99L120.33 387.05L122.61 387.11L124.89 387.17L127.17 387.24L129.45 387.31L131.73 387.39L134.01 387.47L136.29 387.55L138.57 387.65L140.85 387.76L143.13 387.91L145.41 388.08L147.69 388.26L149.98 388.46L152.26 388.67L154.54 388.88L156.82 389.09L159.10 389.29L161.38 389.50L163.66 389.72L165.94 389.94L168.22 390.18L170.50 390.41L172.78 390.65L175.06 390.88L177.34 391.11L179.63 391.32L181.91 391.53L184.19 391.72L186.47 391.92L188.75 392.11L191.03 392.30L193.31 392.48L195.59 392.64L197.87 392.78L200.15 392.91L202.43 393.03L204.71 393.16L206.99 393.28L209.27 393.38L211.56 393.45L213.84 393.50L216.12 392.88L218.40 391.94L220.68 393.50" fill="none" stroke="#161616" stroke-width="1.6" stroke-linejoin="round"/>
<path d="M40.50 389.25L42.79 389.25L45.08 389.25L47.38 389.25L49.67 389.25L51.96 389.25L54.25 389.25L56.54 389.25L58.83 389.25L61.13 389.25L63.42 389.25L65.71 389.25L68.00 389.25L70.29 389.25L72.58 389.25L74.88 389.25L77.17 389.25L79.46 389.25L81.75 389.25L84.04 389.25L86.33 389.26L88.63 389.29L90.92 389.33L93.21 389.38L95.50 389.44L97.79 389.49L100.08 389.56L102.38 389.62L104.67 389.69L106.96 389.76L109.25 389.85L111.54 389.94L113.83 390.04L116.13 390.15L118.42 390.26L120.71 390.38L123.00 390.50L125.29 390.62L127.58 390.75L129.88 390.89L132.17 391.04L134.46 391.22L136.75 391.42L139.04 391.67L141.33 391.99L143.63 392.40L145.92 392.88L148.21 393.44L150.50 394.16L152.79 395.07L155.08 396.27L157.38 397.79L159.67 399.53L161.96 401.36L164.25 403.14L166.54 405.06L168.83 407.24L171.13 409.31L173.42 410.89L175.71 411.69L178.00 412.24L180.29 412.71L182.58 413.08L184.88 413.32L187.17 413.42L189.46 413.30L191.75 412.85L194.04 412.16L196.33 411.30L198.63 410.34L200.92 409.06L203.21 407.19L205.50 405.28L207.79 403.64L210.08 402.05L212.38 400.62L214.67 399.45L216.96 398.40L219.25 397.50L221.54 396.77" fill="none" stroke="#161616" stroke-width="1.6" stroke-dasharray="1.0 0.85" stroke-linejoin="round"/>
<path d="M40.50 384.35L41.90 384.30L43.30 384.24L44.70 384.18L46.11 384.12L47.51 384.06L48.91 384.00L50.31 383.93L51.71 383.87L53.11 383.81L54.51 383.75L55.91 383.68L57.32 383.62L58.72 383.55L60.12 383.49L61.52 383.42L62.92 383.36L64.32 383.29L65.72 383.22L67.12 383.15L68.53 383.09L69.93 383.02L71.33 382.95L72.73 382.88L74.13 382.82L75.53 382.75L76.93 382.69L78.33 382.62L79.74 382.56L81.14 382.49L82.54 382.42L83.94 382.36L85.34 382.29L86.74 382.22L88.14 382.14L89.55 382.07L90.95 381.99L92.35 381.91L93.75 381.82L95.15 381.74L96.55 381.65L97.95 381.55L99.35 381.45L100.76 381.35L102.16 381.22L103.56 381.08L104.96 380.93L106.36 380.78L107.76 380.62L109.16 380.46L110.56 380.31L111.97 380.16L113.37 380.03L114.77 379.89L116.17 379.73L117.57 379.58L118.97 379.42L120.37 379.26L121.77 379.11L123.18 378.97L124.58 378.84L125.98 378.72L127.38 378.62L128.78 378.55L130.18 378.50L131.58 378.47L132.98 378.48L134.39 378.50L135.79 378.54L137.19 378.59L138.59 378.65L139.99 378.72L141.39 378.80L142.79 378.91L144.20 379.07L145.60 379.28L147.00 379.53L148.40 379.81L149.80 380.11L151.20 380.43" fill="none" stroke="#1d5699" stroke-width="1.7" stroke-dasharray="1.4 1.0" stroke-linejoin="round"/>
<path d="M151.20 380.43L151.37 380.50L151.54 380.57L151.71 380.63L151.87 380.70L152.04 380.77L152.21 380.83L152.38 380.90L152.54 380.96L152.71 381.03L152.88 381.09L153.05 381.15L153.22 381.22L153.38 381.28L153.55 381.34L153.72 381.40L153.89 381.47L154.06 381.53L154.22 381.59L154.39 381.65L154.56 381.71L154.73 381.77L154.89 381.83L155.06 381.89L155.23 381.95L155.40 382.01L155.57 382.06L155.73 382.12L155.90 382.18L156.07 382.24L156.24 382.29L156.41 382.35L156.57 382.41L156.74 382.46L156.91 382.52L157.08 382.57L157.24 382.63L157.41 382.68L157.58 382.74L157.75 382.79L157.92 382.85L158.08 382.90L158.25 382.95L158.42 383.01L158.59 383.06L158.76 383.11L158.92 383.16L159.09 383.21L159.26 383.27L159.43 383.32L159.59 383.37L159.76 383.42L159.93 383.47L160.10 383.52L160.27 383.57L160.43 383.62L160.60 383.67L160.77 383.72L160.94 383.76L161.11 383.81L161.27 383.86L161.44 383.91L161.61 383.95L161.78 384.00L161.94 384.04L162.11 384.09L162.28 384.13L162.45 384.18L162.62 384.22L162.78 384.27L162.95 384.31L163.12 384.35L163.29 384.39L163.46 384.43L163.62 384.48L163.79 384.52L163.96 384.56L164.13 384.60L164.29 384.64L164.46 384.68" fill="none" stroke="#9dbfe0" stroke-width="1.0" stroke-dasharray="1.2 1.0" stroke-linejoin="round"/>
<path d="M40.50 386.97L46.27 385.33L52.03 384.68L56.36 383.70L60.68 384.68L66.45 385.33L72.21 385.01" fill="none" stroke="#1d5699" stroke-width="1.6" stroke-linejoin="round"/>
<path d="M39.92 387.78L46.27 389.58L52.03 391.54L57.80 393.50L64.14 395.46L69.33 397.42L75.96 399.71L80.86 401.67L88.07 403.30L93.83 405.26L99.89 406.89L103.92 406.24L106.81 407.55L111.13 405.91L115.45 406.89L119.78 405.26L124.10 404.61" fill="none" stroke="#9c1219" stroke-width="1.6" stroke-linejoin="round"/>
<path d="M62.70 391.54L69.91 393.83L75.96 397.75L77.98 397.09L80.86 400.03L88.07 402.65L93.83 404.28L98.16 404.93" fill="none" stroke="#9c1219" stroke-width="1.5" stroke-linejoin="round"/>
<path d="M40.50 386.31L44.82 386.64L49.15 387.62" fill="none" stroke="#9c1219" stroke-width="1.4" stroke-linejoin="round"/>
<path d="M139.96 415.39L143.13 414.73L145.72 411.47L147.74 409.83" fill="none" stroke="#9c1219" stroke-width="1.7" stroke-linejoin="round"/>
<path d="M148.90 409.18L152.93 410.16L155.81 408.85L158.70 409.51L161.58 408.85" fill="none" stroke="#9c1219" stroke-width="1.6" stroke-linejoin="round"/>
<path d="M169.65 410.81L172.53 412.12L174.55 416.37L176.86 418.00" fill="none" stroke="#9c1219" stroke-width="1.7" stroke-linejoin="round"/>
<path d="M179.74 418.98L183.20 416.37L186.08 413.75L189.83 415.39L193.00 417.02" fill="none" stroke="#9c1219" stroke-width="1.7" stroke-linejoin="round"/>
<path d="M201.94 422.25L205.11 426.17" fill="none" stroke="#9c1219" stroke-width="1.7" stroke-linejoin="round"/>
<path d="M184.07 391.21L184.80 391.56L185.54 391.92L186.28 392.31L187.01 392.71L187.75 393.13L188.49 393.57L189.23 394.02L189.96 394.48L190.70 394.97L191.44 395.46L192.17 395.97L192.91 396.49L193.65 397.03L194.39 397.58L195.12 398.16L195.86 398.75L196.60 399.37L197.33 400.00L198.07 400.65L198.81 401.33L199.55 402.02L200.28 402.73L201.02 403.47L201.76 404.22L202.49 404.99L203.23 405.77L203.97 406.58L204.71 407.42L205.44 408.31L206.18 409.24L206.92 410.22L207.65 411.22L208.39 412.25L209.13 413.30L209.87 414.37L210.60 415.45L211.34 416.53L212.08 417.61L212.81 418.69L213.55 419.75L214.29 420.83L215.03 421.93L215.76 423.06L216.50 424.20L217.24 425.34L217.97 426.49L218.71 427.62L219.45 428.73L220.19 429.81L220.92 430.87L221.66 431.88L222.40 432.85L223.13 433.80L223.87 434.73L224.61 435.64L225.35 436.54L226.08 437.42L226.82 438.30L227.56 439.17L228.29 440.05L229.03 440.93L229.77 441.83L230.51 442.71L231.24 443.57L231.98 444.40L232.72 445.18L233.45 445.91L234.19 446.62L234.93 447.39L235.67 448.12L236.40 448.70L237.14 449.01L237.88 449.00L238.61 448.85L239.35 448.57L240.09 448.17L240.83 447.17L241.56 444.70L242.30 441.52" fill="none" stroke="#1d5699" stroke-width="1.3" stroke-linejoin="round"/>
<path d="M184.07 391.21L184.80 391.52L185.54 391.82L186.28 392.13L187.01 392.43L187.75 392.74L188.49 393.06L189.23 393.37L189.96 393.68L190.70 394.00L191.44 394.32L192.17 394.64L192.91 394.97L193.65 395.29L194.39 395.61L195.12 395.91L195.86 396.22L196.60 396.52L197.33 396.83L198.07 397.13L198.81 397.45L199.55 397.77L200.28 398.10L201.02 398.45L201.76 398.82L202.49 399.20L203.23 399.61L203.97 400.04L204.71 400.51L205.44 401.03L206.18 401.59L206.92 402.19L207.65 402.82L208.39 403.48L209.13 404.15L209.87 404.84L210.60 405.53L211.34 406.23L212.08 406.92L212.81 407.60L213.55 408.27L214.29 408.93L215.03 409.59L215.76 410.25L216.50 410.91L217.24 411.58L217.97 412.25L218.71 412.94L219.45 413.64L220.19 414.35L220.92 415.08L221.66 415.83L222.40 416.61L223.13 417.43L223.87 418.26L224.61 419.12L225.35 419.98L226.08 420.84L226.82 421.69L227.56 422.53L228.29 423.35L229.03 424.11L229.77 424.85L230.51 425.58L231.24 426.30L231.98 427.05L232.72 427.84L233.45 428.68L234.19 429.59L234.93 430.59L235.67 431.96L236.40 433.69L237.14 435.57L237.88 437.42L238.61 439.04L239.35 440.25L240.09 440.84L240.83 440.63L241.56 439.69L242.30 438.25" fill="none" stroke="#1d5699" stroke-width="1.3" stroke-linejoin="round"/>
<path d="M199.06 396.77L204.82 401.01L210.59 407.55L216.35 414.73L222.12 421.27L225.00 425.19L227.89 427.80L230.77 431.72L233.65 433.68L236.53 437.60L240.28 443.48" fill="none" stroke="#1d5699" stroke-width="1.6" stroke-linejoin="round"/>
</g>
<rect x="40.50" y="369.00" width="201.80" height="98.00" fill="none" stroke="#000" stroke-width="1.5"/>
<path d="M40.50 467.00v2.0M40.50 369.00v-2.0M54.50 467.00v5M54.50 369.00v-5M69.50 467.00v2.0M69.50 369.00v-2.0M83.50 467.00v2.0M83.50 369.00v-2.0M98.50 467.00v2.0M98.50 369.00v-2.0M112.50 467.00v5M112.50 369.00v-5M126.50 467.00v2.0M126.50 369.00v-2.0M141.50 467.00v2.0M141.50 369.00v-2.0M155.50 467.00v2.0M155.50 369.00v-2.0M170.50 467.00v5M170.50 369.00v-5M184.50 467.00v2.0M184.50 369.00v-2.0M199.50 467.00v2.0M199.50 369.00v-2.0M213.50 467.00v2.0M213.50 369.00v-2.0M227.50 467.00v5M227.50 369.00v-5M242.50 467.00v2.0M242.50 369.00v-2.0M40.50 466.50h-5.5M242.30 466.50h5.5M40.50 463.50h-2.7M242.30 463.50h2.7M40.50 460.50h-2.7M242.30 460.50h2.7M40.50 457.50h-2.7M242.30 457.50h2.7M40.50 453.50h-2.7M242.30 453.50h2.7M40.50 450.50h-5.5M242.30 450.50h5.5M40.50 447.50h-2.7M242.30 447.50h2.7M40.50 444.50h-2.7M242.30 444.50h2.7M40.50 440.50h-2.7M242.30 440.50h2.7M40.50 437.50h-2.7M242.30 437.50h2.7M40.50 434.50h-5.5M242.30 434.50h5.5M40.50 431.50h-2.7M242.30 431.50h2.7M40.50 427.50h-2.7M242.30 427.50h2.7M40.50 424.50h-2.7M242.30 424.50h2.7M40.50 421.50h-2.7M242.30 421.50h2.7M40.50 418.50h-5.5M242.30 418.50h5.5M40.50 414.50h-2.7M242.30 414.50h2.7M40.50 411.50h-2.7M242.30 411.50h2.7M40.50 408.50h-2.7M242.30 408.50h2.7M40.50 404.50h-2.7M242.30 404.50h2.7M40.50 401.50h-5.5M242.30 401.50h5.5M40.50 398.50h-2.7M242.30 398.50h2.7M40.50 395.50h-2.7M242.30 395.50h2.7M40.50 391.50h-2.7M242.30 391.50h2.7M40.50 388.50h-2.7M242.30 388.50h2.7M40.50 385.50h-5.5M242.30 385.50h5.5M40.50 382.50h-2.7M242.30 382.50h2.7M40.50 378.50h-2.7M242.30 378.50h2.7M40.50 375.50h-2.7M242.30 375.50h2.7M40.50 372.50h-2.7M242.30 372.50h2.7M40.50 368.50h-5.5M242.30 368.50h5.5" stroke="#000" stroke-width="1.25" fill="none"/>
<text transform="translate(54.91 483.00) scale(0.88 1)" font-size="8.2" text-anchor="middle">20</text>
<text transform="translate(112.57 483.00) scale(0.88 1)" font-size="8.2" text-anchor="middle">40</text>
<text transform="translate(170.23 483.00) scale(0.88 1)" font-size="8.2" text-anchor="middle">60</text>
<text transform="translate(227.89 483.00) scale(0.88 1)" font-size="8.2" text-anchor="middle">80</text>
<text x="31.00" y="469.45" font-size="6.8" text-anchor="end">-2.5</text>
<text x="31.00" y="453.11" font-size="6.8" text-anchor="end">-2.0</text>
<text x="31.00" y="436.78" font-size="6.8" text-anchor="end">-1.5</text>
<text x="31.00" y="420.45" font-size="6.8" text-anchor="end">-1.0</text>
<text x="31.00" y="404.11" font-size="6.8" text-anchor="end">-0.5</text>
<text x="31.00" y="387.78" font-size="6.8" text-anchor="end">0.0</text>
<text x="31.00" y="371.45" font-size="6.8" text-anchor="end">0.5</text>
<g clip-path="url(#clf)">
<path d="M287.50 384.35L489.20 384.35L489.20 387.29L287.50 387.29Z" fill="#eeeeee"/>
<path d="M301.91 369.00V467.00M359.54 369.00V467.00M417.16 369.00V467.00M474.79 369.00V467.00M287.50 450.67H489.20M287.50 434.33H489.20M287.50 418.00H489.20M287.50 401.67H489.20M287.50 385.33H489.20" stroke="#c8c8c8" stroke-width="0.85" stroke-dasharray="3 3.6" fill="none"/>
<path d="M287.50 383.70L290.05 383.55L292.61 383.40L295.16 383.25L297.71 383.10L300.27 382.95L302.82 382.81L305.37 382.67L307.93 382.53L310.48 382.40L313.03 382.26L315.58 382.13L318.14 382.00L320.69 381.88L323.24 381.76L325.80 381.64L328.35 381.52L330.90 381.41L333.46 381.29L336.01 381.18L338.56 381.08L341.12 380.97L343.67 380.86L346.22 380.76L348.78 380.66L351.33 380.56L353.88 380.47L356.44 380.37L358.99 380.28L361.54 380.19L364.09 380.10L366.65 380.01L369.20 379.93L371.75 379.85L374.31 379.77L376.86 379.69L379.41 379.60L381.97 379.51L384.52 379.42L387.07 379.33L389.63 379.25L392.18 379.16L394.73 379.08L397.29 379.01L399.84 378.95L402.39 378.89L404.95 378.85L407.50 378.82L410.05 378.80L412.61 378.81L415.16 378.93L417.71 379.16L420.26 379.45L422.82 379.80L425.37 380.18L427.92 380.57L430.48 380.94L433.03 381.26L435.58 381.53L438.14 381.79L440.69 382.05L443.24 382.31L445.80 382.56L448.35 382.81L450.90 383.04L453.46 383.25L456.01 383.44L458.56 383.60L461.12 383.74L463.67 383.86L466.22 383.98L468.77 384.10L471.33 384.21L473.88 384.31L476.43 384.41L478.99 384.49L481.54 384.56L484.09 384.62L486.65 384.66L489.20 384.68" fill="none" stroke="#9dbfe0" stroke-width="0.9" stroke-dasharray="1.2 1.2" stroke-linejoin="round"/>
<path d="M287.50 384.68L290.05 384.56L292.61 384.43L295.16 384.31L297.71 384.19L300.27 384.07L302.82 383.95L305.37 383.83L307.93 383.71L310.48 383.60L313.03 383.48L315.58 383.37L318.14 383.25L320.69 383.14L323.24 383.03L325.80 382.93L328.35 382.82L330.90 382.71L333.46 382.61L336.01 382.50L338.56 382.40L341.12 382.29L343.67 382.19L346.22 382.09L348.78 381.99L351.33 381.89L353.88 381.79L356.44 381.69L358.99 381.60L361.54 381.50L364.09 381.41L366.65 381.32L369.20 381.24L371.75 381.16L374.31 381.08L376.86 380.99L379.41 380.91L381.97 380.82L384.52 380.73L387.07 380.64L389.63 380.55L392.18 380.47L394.73 380.39L397.29 380.32L399.84 380.25L402.39 380.20L404.95 380.16L407.50 380.13L410.05 380.11L412.61 380.12L415.16 380.19L417.71 380.34L420.26 380.54L422.82 380.78L425.37 381.06L427.92 381.34L430.48 381.64L433.03 381.92L435.58 382.19L438.14 382.48L440.69 382.82L443.24 383.17L445.80 383.54L448.35 383.91L450.90 384.26L453.46 384.60L456.01 384.91L458.56 385.18L461.12 385.39L463.67 385.59L466.22 385.78L468.77 385.96L471.33 386.14L473.88 386.30L476.43 386.46L478.99 386.59L481.54 386.72L484.09 386.82L486.65 386.90L489.20 386.97" fill="none" stroke="#c0d4ea" stroke-width="0.9" stroke-linejoin="round"/>
<path d="M287.50 386.97L316.31 386.97L339.37 387.95L353.77 388.60L365.30 389.25L376.82 387.95L388.35 390.23L396.99 391.87L405.64 388.60L417.16 385.33L425.81 382.07L434.45 378.80L445.98 375.53L454.62 376.19L463.27 374.55L469.03 378.80L474.79 385.33L480.56 398.40L486.32 414.73L489.20 421.27" fill="none" stroke="#f8c48e" stroke-width="0.9" stroke-linejoin="round"/>
<path d="M417.16 383.70L422.93 373.90L431.57 376.19L440.22 374.55L445.98 377.17L454.62 375.53L463.27 371.61L471.91 376.19L480.56 380.43L489.20 382.07" fill="none" stroke="#f8c48e" stroke-width="0.9" stroke-linejoin="round"/>
<path d="M287.50 392.19L296.14 391.21L304.79 390.56L316.31 392.52L330.72 395.13L345.13 397.42L359.54 400.03L376.82 403.95L388.35 406.57L399.88 411.47L405.64 414.73L411.40 421.27L417.16 418.00L422.93 413.10L428.69 408.20L437.33 400.03L445.98 391.87L451.74 401.67L457.50 388.60L466.15 383.70L474.79 391.87L483.44 378.80L489.20 369.00" fill="none" stroke="#e49a9c" stroke-width="0.8" stroke-linejoin="round"/>
<path d="M287.50 393.50L301.91 391.87L316.31 394.15L330.72 396.77L345.13 399.05L359.54 401.67L376.82 405.59L388.35 408.20L402.76 414.73L409.96 424.53L414.28 424.53L422.93 408.20L431.57 404.93L440.22 395.13L448.86 386.97L457.50 395.13L466.15 404.93L474.79 398.40L480.56 388.60L486.32 382.07L489.20 375.53" fill="none" stroke="#e49a9c" stroke-width="0.8" stroke-linejoin="round"/>
<path d="M402.76 384.68L422.93 385.99L440.22 388.60L451.74 391.87L460.39 395.13L469.03 396.77L474.79 395.13L480.56 399.05L489.20 397.75" fill="none" stroke="#a8a8a8" stroke-width="0.8" stroke-linejoin="round"/>
<path d="M417.16 383.70L431.57 384.68L445.98 386.97L460.39 389.25L469.03 388.60L480.56 391.21L489.20 390.23" fill="none" stroke="#c4c4c4" stroke-width="0.8" stroke-linejoin="round"/>
<path d="M287.50 385.17L489.20 385.17" fill="none" stroke="#161616" stroke-width="1.5" stroke-dasharray="4.5 2" stroke-linejoin="round"/>
<path d="M287.50 384.68L289.14 384.53L290.78 384.39L292.42 384.26L294.07 384.13L295.71 384.02L297.35 383.92L298.99 383.82L300.63 383.75L302.27 383.69L303.91 383.63L305.55 383.58L307.20 383.53L308.84 383.48L310.48 383.44L312.12 383.41L313.76 383.39L315.40 383.38L317.04 383.38L318.69 383.43L320.33 383.53L321.97 383.66L323.61 383.81L325.25 383.97L326.89 384.11L328.53 384.24L330.17 384.33L331.82 384.39L333.46 384.45L335.10 384.50L336.74 384.55L338.38 384.59L340.02 384.63L341.66 384.65L343.30 384.67L344.95 384.68L346.59 384.68L348.23 384.67L349.87 384.66L351.51 384.64L353.15 384.62L354.79 384.59L356.44 384.57L358.08 384.54L359.72 384.51L361.36 384.49L363.00 384.46L364.64 384.43L366.28 384.41L367.92 384.39L369.57 384.37L371.21 384.36L372.85 384.35L374.49 384.35L376.13 384.36L377.77 384.36L379.41 384.37L381.06 384.38L382.70 384.39L384.34 384.40L385.98 384.42L387.62 384.44L389.26 384.46L390.90 384.48L392.54 384.50L394.19 384.53L395.83 384.55L397.47 384.58L399.11 384.61L400.75 384.64L402.39 384.67L404.03 384.71L405.68 384.76L407.32 384.82L408.96 384.89L410.60 384.97L412.24 385.06L413.88 385.15L415.52 385.24L417.16 385.33" fill="none" stroke="#161616" stroke-width="1.2" stroke-linejoin="round"/>
<path d="M287.50 398.73L289.58 398.84L291.66 398.95L293.74 399.07L295.82 399.20L297.90 399.33L299.97 399.47L302.05 399.61L304.13 399.75L306.21 399.90L308.29 400.06L310.37 400.21L312.45 400.38L314.53 400.54L316.61 400.71L318.69 400.89L320.76 401.08L322.84 401.28L324.92 401.49L327.00 401.71L329.08 401.93L331.16 402.15L333.24 402.38L335.32 402.61L337.40 402.83L339.48 403.06L341.55 403.27L343.63 403.48L345.71 403.68L347.79 403.91L349.87 404.16L351.95 404.41L354.03 404.63L356.11 404.81L358.19 404.91L360.27 404.93L362.34 404.82L364.42 404.62L366.50 404.35L368.58 404.05L370.66 403.74L372.74 403.45L374.82 403.20L376.90 402.91L378.98 402.60L381.06 402.29L383.13 402.02L385.21 401.80L387.29 401.68L389.37 401.68L391.45 401.75L393.53 401.89L395.61 402.08L397.69 402.32L399.77 402.58L401.85 402.85L403.92 403.19L406.00 403.77L408.08 404.39L410.16 404.84L412.24 404.93L414.32 404.85L416.40 404.69L418.48 404.49L420.56 404.25L422.64 404.00L424.71 403.75L426.79 403.51L428.87 403.23L430.95 402.92L433.03 402.59L435.11 402.27L437.19 401.98L439.27 401.75L441.35 401.58L443.43 401.42L445.50 401.29L447.58 401.17L449.66 401.08L451.74 401.01" fill="none" stroke="#161616" stroke-width="1.6" stroke-dasharray="1.1 0.7" stroke-linejoin="round"/>
<path d="M287.50 386.97L293.26 385.33L301.91 384.68L310.55 384.35L316.31 384.68" fill="none" stroke="#1d5699" stroke-width="1.8" stroke-linejoin="round"/>
<path d="M373.94 382.72L379.71 382.07L385.47 381.41" fill="none" stroke="#1d5699" stroke-width="1.8" stroke-linejoin="round"/>
<path d="M343.69 403.30L348.01 404.93" fill="none" stroke="#9c1219" stroke-width="1.9" stroke-linejoin="round"/>
<path d="M377.40 409.83L384.89 410.49L388.35 412.12L394.11 412.77L399.88 413.75L404.77 415.39" fill="none" stroke="#9c1219" stroke-width="1.9" stroke-linejoin="round"/>
<path d="M377.40 411.47L381.15 414.73L384.89 418.00L388.35 417.35L392.67 420.61L396.99 419.63L401.32 422.90L405.64 421.92L409.96 425.19L413.71 426.49" fill="none" stroke="#9c1219" stroke-width="1.9" stroke-linejoin="round"/>
<path d="M411.40 385.33L411.59 385.41L411.79 385.49L411.98 385.58L412.17 385.66L412.37 385.74L412.56 385.83L412.75 385.91L412.95 386.00L413.14 386.09L413.33 386.18L413.53 386.27L413.72 386.36L413.91 386.45L414.11 386.54L414.30 386.63L414.49 386.73L414.69 386.82L414.88 386.92L415.07 387.02L415.27 387.11L415.46 387.21L415.65 387.31L415.85 387.41L416.04 387.51L416.23 387.62L416.43 387.72L416.62 387.82L416.81 387.93L417.01 388.03L417.20 388.14L417.39 388.24L417.59 388.35L417.78 388.46L417.97 388.57L418.17 388.68L418.36 388.79L418.55 388.90L418.75 389.01L418.94 389.13L419.13 389.24L419.33 389.36L419.52 389.48L419.71 389.60L419.91 389.71L420.10 389.83L420.29 389.96L420.49 390.08L420.68 390.20L420.87 390.32L421.07 390.45L421.26 390.58L421.45 390.70L421.65 390.83L421.84 390.96L422.03 391.09L422.23 391.22L422.42 391.35L422.61 391.48L422.81 391.62L423.00 391.75L423.19 391.89L423.39 392.02L423.58 392.16L423.77 392.30L423.97 392.44L424.16 392.58L424.35 392.72L424.55 392.86L424.74 393.00L424.93 393.15L425.13 393.29L425.32 393.44L425.51 393.58L425.71 393.73L425.90 393.88L426.09 394.03L426.29 394.18L426.48 394.33L426.67 394.48" fill="none" stroke="#9dbfe0" stroke-width="1.0" stroke-linejoin="round"/>
<path d="M426.67 394.48L427.46 395.00L428.26 395.53L429.05 396.07L429.84 396.63L430.63 397.19L431.42 397.76L432.21 398.34L433.00 398.93L433.80 399.53L434.59 400.14L435.38 400.75L436.17 401.36L436.96 401.97L437.75 402.60L438.55 403.24L439.34 403.90L440.13 404.59L440.92 405.30L441.71 406.05L442.50 406.84L443.29 407.70L444.09 408.61L444.88 409.58L445.67 410.58L446.46 411.62L447.25 412.68L448.04 413.74L448.83 414.81L449.63 415.87L450.42 416.90L451.21 417.91L452.00 418.91L452.79 419.90L453.58 420.90L454.37 421.89L455.17 422.89L455.96 423.88L456.75 424.87L457.54 425.87L458.33 426.86L459.12 427.85L459.92 428.84L460.71 429.84L461.50 430.88L462.29 431.96L463.08 433.06L463.87 434.17L464.66 435.25L465.46 436.30L466.25 437.30L467.04 438.23L467.83 439.06L468.62 439.79L469.41 440.41L470.20 440.96L471.00 441.46L471.79 441.91L472.58 442.34L473.37 442.75L474.16 443.17L474.95 443.59L475.74 444.04L476.54 444.53L477.33 445.07L478.12 445.66L478.91 446.28L479.70 446.94L480.49 447.64L481.29 448.38L482.08 449.17L482.87 450.01L483.66 450.91L484.45 451.87L485.24 452.89L486.03 453.97L486.83 455.11L487.62 456.30L488.41 457.54L489.20 458.83" fill="none" stroke="#1d5699" stroke-width="1.3" stroke-linejoin="round"/>
<path d="M426.67 394.48L427.46 394.75L428.26 395.04L429.05 395.35L429.84 395.66L430.63 395.99L431.42 396.33L432.21 396.69L433.00 397.05L433.80 397.43L434.59 397.81L435.38 398.21L436.17 398.62L436.96 399.04L437.75 399.47L438.55 399.93L439.34 400.40L440.13 400.89L440.92 401.41L441.71 401.95L442.50 402.52L443.29 403.15L444.09 403.83L444.88 404.56L445.67 405.33L446.46 406.11L447.25 406.91L448.04 407.70L448.83 408.48L449.63 409.23L450.42 409.94L451.21 410.62L452.00 411.29L452.79 411.95L453.58 412.61L454.37 413.25L455.17 413.90L455.96 414.54L456.75 415.18L457.54 415.82L458.33 416.46L459.12 417.11L459.92 417.76L460.71 418.42L461.50 419.07L462.29 419.72L463.08 420.36L463.87 421.01L464.66 421.66L465.46 422.31L466.25 422.96L467.04 423.61L467.83 424.27L468.62 424.93L469.41 425.60L470.20 426.27L471.00 426.95L471.79 427.64L472.58 428.35L473.37 429.06L474.16 429.78L474.95 430.51L475.74 431.25L476.54 432.00L477.33 432.76L478.12 433.53L478.91 434.31L479.70 435.10L480.49 435.90L481.29 436.67L482.08 437.38L482.87 438.08L483.66 438.82L484.45 439.64L485.24 440.59L486.03 441.72L486.83 443.18L487.62 445.30L488.41 447.87L489.20 450.67" fill="none" stroke="#1d5699" stroke-width="1.3" stroke-linejoin="round"/>
<path d="M434.45 399.05L445.98 408.20L457.79 415.39L464.42 417.67L471.05 428.78L475.37 426.82L482.57 437.60L488.05 444.13L489.20 452.30" fill="none" stroke="#1d5699" stroke-width="1.5" stroke-linejoin="round"/>
</g>
<rect x="287.50" y="369.00" width="201.70" height="98.00" fill="none" stroke="#000" stroke-width="1.5"/>
<path d="M287.50 467.00v2.0M287.50 369.00v-2.0M301.50 467.00v5M301.50 369.00v-5M316.50 467.00v2.0M316.50 369.00v-2.0M330.50 467.00v2.0M330.50 369.00v-2.0M345.50 467.00v2.0M345.50 369.00v-2.0M359.50 467.00v5M359.50 369.00v-5M373.50 467.00v2.0M373.50 369.00v-2.0M388.50 467.00v2.0M388.50 369.00v-2.0M402.50 467.00v2.0M402.50 369.00v-2.0M417.50 467.00v5M417.50 369.00v-5M431.50 467.00v2.0M431.50 369.00v-2.0M445.50 467.00v2.0M445.50 369.00v-2.0M460.50 467.00v2.0M460.50 369.00v-2.0M474.50 467.00v5M474.50 369.00v-5M489.50 467.00v2.0M489.50 369.00v-2.0M287.50 466.50h-5.5M489.20 466.50h5.5M287.50 463.50h-2.7M489.20 463.50h2.7M287.50 460.50h-2.7M489.20 460.50h2.7M287.50 457.50h-2.7M489.20 457.50h2.7M287.50 453.50h-2.7M489.20 453.50h2.7M287.50 450.50h-5.5M489.20 450.50h5.5M287.50 447.50h-2.7M489.20 447.50h2.7M287.50 444.50h-2.7M489.20 444.50h2.7M287.50 440.50h-2.7M489.20 440.50h2.7M287.50 437.50h-2.7M489.20 437.50h2.7M287.50 434.50h-5.5M489.20 434.50h5.5M287.50 431.50h-2.7M489.20 431.50h2.7M287.50 427.50h-2.7M489.20 427.50h2.7M287.50 424.50h-2.7M489.20 424.50h2.7M287.50 421.50h-2.7M489.20 421.50h2.7M287.50 418.50h-5.5M489.20 418.50h5.5M287.50 414.50h-2.7M489.20 414.50h2.7M287.50 411.50h-2.7M489.20 411.50h2.7M287.50 408.50h-2.7M489.20 408.50h2.7M287.50 404.50h-2.7M489.20 404.50h2.7M287.50 401.50h-5.5M489.20 401.50h5.5M287.50 398.50h-2.7M489.20 398.50h2.7M287.50 395.50h-2.7M489.20 395.50h2.7M287.50 391.50h-2.7M489.20 391.50h2.7M287.50 388.50h-2.7M489.20 388.50h2.7M287.50 385.50h-5.5M489.20 385.50h5.5M287.50 382.50h-2.7M489.20 382.50h2.7M287.50 378.50h-2.7M489.20 378.50h2.7M287.50 375.50h-2.7M489.20 375.50h2.7M287.50 372.50h-2.7M489.20 372.50h2.7M287.50 368.50h-5.5M489.20 368.50h5.5" stroke="#000" stroke-width="1.25" fill="none"/>
<text transform="translate(301.91 483.00) scale(0.88 1)" font-size="8.2" text-anchor="middle">20</text>
<text transform="translate(359.54 483.00) scale(0.88 1)" font-size="8.2" text-anchor="middle">40</text>
<text transform="translate(417.16 483.00) scale(0.88 1)" font-size="8.2" text-anchor="middle">60</text>
<text transform="translate(474.79 483.00) scale(0.88 1)" font-size="8.2" text-anchor="middle">80</text>
<text x="278.00" y="469.45" font-size="6.8" text-anchor="end">-2.5</text>
<text x="278.00" y="453.11" font-size="6.8" text-anchor="end">-2.0</text>
<text x="278.00" y="436.78" font-size="6.8" text-anchor="end">-1.5</text>
<text x="278.00" y="420.45" font-size="6.8" text-anchor="end">-1.0</text>
<text x="278.00" y="404.11" font-size="6.8" text-anchor="end">-0.5</text>
<text x="278.00" y="387.78" font-size="6.8" text-anchor="end">0.0</text>
<text x="278.00" y="371.45" font-size="6.8" text-anchor="end">0.5</text>
<g clip-path="url(#clg)">
<path d="M40.30 528.43L242.30 528.43L242.30 532.35L40.30 532.35Z" fill="#f0f0f0"/>
<path d="M54.73 510.40V608.40M112.44 510.40V608.40M170.16 510.40V608.40M227.87 510.40V608.40M40.30 588.80H242.30M40.30 569.20H242.30M40.30 549.60H242.30M40.30 530.00H242.30" stroke="#c8c8c8" stroke-width="0.85" stroke-dasharray="3 3.6" fill="none"/>
<path d="M40.30 530.98L42.86 531.02L45.41 531.07L47.97 531.11L50.53 531.15L53.08 531.19L55.64 531.24L58.20 531.28L60.76 531.32L63.31 531.36L65.87 531.39L68.43 531.43L70.98 531.47L73.54 531.51L76.10 531.54L78.65 531.58L81.21 531.61L83.77 531.64L86.33 531.68L88.88 531.71L91.44 531.74L94.00 531.77L96.55 531.80L99.11 531.83L101.67 531.85L104.22 531.88L106.78 531.91L109.34 531.93L111.89 531.96L114.45 531.98L117.01 532.00L119.57 532.03L122.12 532.05L124.68 532.07L127.24 532.10L129.79 532.12L132.35 532.14L134.91 532.17L137.46 532.19L140.02 532.21L142.58 532.23L145.14 532.25L147.69 532.27L150.25 532.28L152.81 532.30L155.36 532.31L157.92 532.32L160.48 532.33L163.03 532.34L165.59 532.35L168.15 532.35L170.71 532.35L173.26 532.35L175.82 532.35L178.38 532.35L180.93 532.35L183.49 532.34L186.05 532.34L188.60 532.33L191.16 532.32L193.72 532.32L196.27 532.31L198.83 532.30L201.39 532.29L203.95 532.28L206.50 532.26L209.06 532.25L211.62 532.24L214.17 532.22L216.73 532.20L219.29 532.18L221.84 532.17L224.40 532.14L226.96 532.12L229.52 532.10L232.07 532.07L234.63 532.05L237.19 532.02L239.74 531.99L242.30 531.96" fill="none" stroke="#f8c48e" stroke-width="0.9" stroke-linejoin="round"/>
<path d="M71.18 537.06L73.34 536.90L75.51 536.71L77.68 536.49L79.84 536.24L82.01 535.97L84.17 535.67L86.34 535.36L88.51 535.03L90.67 534.68L92.84 534.29L95.00 533.84L97.17 533.36L99.34 532.85L101.50 532.31L103.67 531.76L105.83 531.20L108.00 530.62L110.17 530.00L112.33 529.35L114.50 528.69L116.67 527.98L118.83 527.13L121.00 526.32L123.16 525.78L125.33 525.60L127.50 525.47L129.66 525.37L131.83 525.28L133.99 525.21L136.16 525.15L138.33 525.12L140.49 525.10L142.66 525.10L144.82 525.12L146.99 525.14L149.16 525.17L151.32 525.21L153.49 525.25L155.66 525.29L157.82 525.34L159.99 525.38L162.15 525.42L164.32 525.45L166.49 525.47L168.65 525.49L170.82 525.49L172.98 525.49L175.15 525.48L177.32 525.46L179.48 525.44L181.65 525.41L183.81 525.38L185.98 525.35L188.15 525.31L190.31 525.27L192.48 525.23L194.65 525.19L196.81 525.14L198.98 525.10L201.14 525.04L203.31 524.96L205.48 524.86L207.64 524.76L209.81 524.67L211.97 524.59L214.14 524.53L216.31 524.51L218.47 524.53L220.64 524.60L222.80 524.69L224.97 524.81L227.14 524.93L229.30 525.06L231.47 525.19L233.64 525.30L235.80 525.39L237.97 525.49L240.13 525.59L242.30 525.69" fill="none" stroke="#e49a9c" stroke-width="0.9" stroke-linejoin="round"/>
<path d="M100.90 535.49L102.69 535.34L104.48 535.18L106.27 535.01L108.06 534.83L109.85 534.65L111.64 534.46L113.43 534.26L115.22 534.05L117.01 533.83L118.80 533.61L120.59 533.39L122.38 533.15L124.17 532.92L125.96 532.65L127.75 532.36L129.54 532.04L131.33 531.70L133.12 531.35L134.91 531.00L136.70 530.65L138.49 530.31L140.28 529.98L142.07 529.68L143.86 529.41L145.65 529.18L147.44 528.98L149.23 528.81L151.02 528.64L152.81 528.48L154.60 528.33L156.39 528.18L158.18 528.04L159.97 527.91L161.76 527.78L163.55 527.66L165.34 527.55L167.13 527.45L168.92 527.35L170.71 527.26L172.49 527.18L174.28 527.12L176.07 527.06L177.86 527.00L179.65 526.94L181.44 526.89L183.23 526.84L185.02 526.79L186.81 526.74L188.60 526.69L190.39 526.65L192.18 526.61L193.97 526.58L195.76 526.55L197.55 526.52L199.34 526.50L201.13 526.49L202.92 526.48L204.71 526.47L206.50 526.47L208.29 526.47L210.08 526.48L211.87 526.48L213.66 526.48L215.45 526.49L217.24 526.50L219.03 526.51L220.82 526.52L222.61 526.53L224.40 526.55L226.19 526.56L227.98 526.58L229.77 526.61L231.56 526.63L233.35 526.66L235.14 526.70L236.93 526.73L238.72 526.77L240.51 526.82L242.30 526.86" fill="none" stroke="#f0c4c4" stroke-width="0.8" stroke-linejoin="round"/>
<path d="M138.41 525.10L139.73 525.26L141.04 525.45L142.36 525.66L143.67 525.90L144.99 526.17L146.30 526.46L147.62 526.77L148.93 527.10L150.25 527.45L151.56 527.81L152.88 528.18L154.19 528.56L155.51 528.95L156.82 529.39L158.14 529.91L159.45 530.49L160.77 531.12L162.08 531.75L163.40 532.38L164.71 532.97L166.03 533.50L167.34 533.94L168.66 534.32L169.97 534.68L171.29 535.01L172.60 535.32L173.92 535.61L175.23 535.90L176.55 536.17L177.86 536.44L179.18 536.70L180.49 536.97L181.81 537.24L183.12 537.52L184.44 537.81L185.75 538.12L187.07 538.47L188.38 538.85L189.70 539.24L191.01 539.64L192.33 540.03L193.64 540.40L194.96 540.75L196.27 541.07L197.59 541.33L198.90 541.55L200.22 541.69L201.53 541.76L202.85 541.72L204.16 541.56L205.48 541.30L206.79 541.00L208.11 540.68L209.42 540.39L210.74 540.17L212.05 540.00L213.37 539.85L214.68 539.72L216.00 539.60L217.31 539.47L218.63 539.33L219.94 539.16L221.26 538.97L222.57 538.73L223.89 538.40L225.20 537.98L226.52 537.49L227.83 536.93L229.15 536.31L230.46 535.65L231.78 534.95L233.09 534.23L234.41 533.47L235.72 532.61L237.04 531.65L238.35 530.60L239.67 529.47L240.98 528.29L242.30 527.06" fill="none" stroke="#9dbfe0" stroke-width="0.9" stroke-dasharray="1.2 1.0" stroke-linejoin="round"/>
<path d="M40.30 530.00L242.30 530.00" fill="none" stroke="#161616" stroke-width="1.6" stroke-dasharray="4.5 2" stroke-linejoin="round"/>
<path d="M40.30 530.00L42.86 530.14L45.41 530.28L47.97 530.41L50.53 530.54L53.08 530.67L55.64 530.79L58.20 530.91L60.76 531.01L63.31 531.11L65.87 531.21L68.43 531.29L70.98 531.38L73.54 531.46L76.10 531.53L78.65 531.61L81.21 531.68L83.77 531.76L86.33 531.84L88.88 531.92L91.44 532.01L94.00 532.10L96.55 532.20L99.11 532.31L101.67 532.43L104.22 532.55L106.78 532.68L109.34 532.82L111.89 532.96L114.45 533.11L117.01 533.27L119.57 533.44L122.12 533.61L124.68 533.79L127.24 533.97L129.79 534.17L132.35 534.37L134.91 534.57L137.46 534.79L140.02 535.01L142.58 535.24L145.14 535.49L147.69 535.77L150.25 536.07L152.81 536.41L155.36 536.80L157.92 537.29L160.48 537.92L163.03 538.65L165.59 539.43L168.15 540.21L170.71 540.93L173.26 541.64L175.82 542.37L178.38 543.09L180.93 543.79L183.49 544.44L186.05 545.05L188.60 545.66L191.16 546.26L193.72 546.81L196.27 547.28L198.83 547.62L201.39 547.88L203.95 548.12L206.50 548.33L209.06 548.50L211.62 548.60L214.17 548.61L216.73 548.39L219.29 547.95L221.84 547.35L224.40 546.65L226.96 545.93L229.52 545.20L232.07 544.34L234.63 543.36L237.19 542.26L239.74 541.07L242.30 539.80" fill="none" stroke="#161616" stroke-width="1.5" stroke-linejoin="round"/>
<path d="M126.87 534.31L128.33 534.32L129.79 534.36L131.25 534.41L132.72 534.49L134.18 534.58L135.64 534.69L137.10 534.82L138.56 534.97L140.02 535.12L141.48 535.30L142.94 535.48L144.40 535.68L145.87 535.88L147.33 536.10L148.79 536.32L150.25 536.55L151.71 536.78L153.17 537.02L154.63 537.26L156.09 537.51L157.55 537.81L159.02 538.18L160.48 538.60L161.94 539.06L163.40 539.55L164.86 540.05L166.32 540.55L167.78 541.03L169.24 541.49L170.71 541.92L172.17 542.33L173.63 542.74L175.09 543.14L176.55 543.54L178.01 543.94L179.47 544.34L180.93 544.73L182.39 545.11L183.86 545.49L185.32 545.87L186.78 546.27L188.24 546.68L189.70 547.10L191.16 547.51L192.62 547.90L194.08 548.27L195.54 548.61L197.01 548.90L198.47 549.14L199.93 549.32L201.39 549.50L202.85 549.67L204.31 549.83L205.77 549.97L207.23 550.08L208.69 550.15L210.16 550.19L211.62 550.16L213.08 550.02L214.54 549.80L216.00 549.51L217.46 549.17L218.92 548.81L220.38 548.44L221.84 548.09L223.31 547.75L224.77 547.37L226.23 546.97L227.69 546.55L229.15 546.10L230.61 545.65L232.07 545.19L233.53 544.73L234.99 544.27L236.46 543.79L237.92 543.30L239.38 542.80L240.84 542.28L242.30 541.76" fill="none" stroke="#161616" stroke-width="1.1" stroke-linejoin="round"/>
<path d="M147.07 535.88L148.28 536.11L149.48 536.34L150.69 536.58L151.89 536.81L153.10 537.05L154.30 537.29L155.51 537.54L156.71 537.79L157.92 538.03L159.13 538.29L160.33 538.54L161.54 538.80L162.74 539.05L163.95 539.31L165.15 539.58L166.36 539.85L167.56 540.12L168.77 540.40L169.97 540.69L171.18 540.97L172.39 541.26L173.59 541.55L174.80 541.83L176.00 542.11L177.21 542.38L178.41 542.65L179.62 542.91L180.82 543.18L182.03 543.44L183.23 543.71L184.44 543.97L185.65 544.23L186.85 544.48L188.06 544.73L189.26 544.97L190.47 545.20L191.67 545.41L192.88 545.62L194.08 545.82L195.29 546.01L196.49 546.19L197.70 546.38L198.90 546.55L200.11 546.72L201.32 546.87L202.52 547.02L203.73 547.15L204.93 547.26L206.14 547.37L207.34 547.49L208.55 547.60L209.75 547.70L210.96 547.80L212.16 547.89L213.37 547.95L214.58 548.00L215.78 548.03L216.99 548.02L218.19 547.94L219.40 547.80L220.60 547.60L221.81 547.37L223.01 547.11L224.22 546.84L225.42 546.57L226.63 546.31L227.83 546.08L229.04 545.86L230.25 545.64L231.45 545.42L232.66 545.20L233.86 544.97L235.07 544.74L236.27 544.51L237.48 544.28L238.68 544.05L239.89 543.81L241.09 543.57L242.30 543.33" fill="none" stroke="#161616" stroke-width="1.1" stroke-dasharray="3.5 1.5" stroke-linejoin="round"/>
<path d="M40.30 537.64L42.86 537.64L45.41 537.64L47.97 537.64L50.53 537.64L53.08 537.64L55.64 537.64L58.20 537.64L60.76 537.64L63.31 537.64L65.87 537.64L68.43 537.64L70.98 537.64L73.54 537.64L76.10 537.64L78.65 537.64L81.21 537.65L83.77 537.68L86.33 537.77L88.88 537.89L91.44 538.03L94.00 538.20L96.55 538.36L99.11 538.52L101.67 538.67L104.22 538.80L106.78 538.92L109.34 539.05L111.89 539.18L114.45 539.33L117.01 539.50L119.57 539.69L122.12 539.93L124.68 540.24L127.24 540.70L129.79 541.27L132.35 541.89L134.91 542.46L137.46 543.23L140.02 545.44L142.58 548.46L145.14 551.26L147.69 554.06L150.25 556.87L152.81 559.67L155.36 562.32L157.92 564.93L160.48 567.65L163.03 570.59L165.59 573.90L168.15 577.91L170.71 583.23L173.26 589.05L175.82 594.40L178.38 598.43L180.93 602.12L183.49 605.18L186.05 606.62L188.60 606.64L191.16 606.64L193.72 606.58L196.27 605.64L198.83 603.87L201.39 601.71L203.95 599.56L206.50 597.32L209.06 594.75L211.62 592.03L214.17 589.33L216.73 586.50L219.29 583.14L221.84 580.02L224.40 577.99L226.96 577.80L229.52 578.95L232.07 579.78L234.63 578.98L237.19 577.07L239.74 575.11L242.30 574.10" fill="none" stroke="#161616" stroke-width="1.6" stroke-dasharray="1.1 0.7" stroke-linejoin="round"/>
<path d="M40.30 528.10L42.85 527.86L45.39 527.61L47.94 527.32L50.48 527.02L53.03 526.69L55.58 526.34L58.12 525.98L60.67 525.59L63.21 525.17L65.76 524.72L68.31 524.25L70.85 523.75L73.40 523.24L75.94 522.70L78.49 522.14L81.04 521.54L83.58 520.79L86.13 519.89L88.67 518.93L91.22 517.98L93.77 517.13L96.31 516.44L98.86 516.01L101.40 515.89L103.95 515.95L106.50 516.08L109.04 516.26L111.59 516.48L114.13 516.83L116.68 517.38L119.23 518.09L121.77 518.87L124.32 519.68L126.86 520.46L129.41 521.23L131.96 522.05L134.50 522.99L137.05 524.10L139.59 525.56L142.14 527.34L144.69 529.25L147.23 531.09L149.78 532.89L152.32 534.73L154.87 536.57L157.42 538.38L159.96 540.13L162.51 541.85L165.05 543.61L167.60 545.35L170.15 547.03L172.69 548.60L175.24 550.01L177.78 551.22L180.33 552.31L182.88 553.34L185.42 554.25L187.97 554.99L190.51 555.50L193.06 555.89L195.61 556.23L198.15 556.49L200.70 556.64L203.24 556.53L205.79 555.77L208.34 554.60L210.88 553.37L213.43 551.98L215.97 550.34L218.52 548.55L221.07 546.57L223.61 544.18L226.16 541.93L228.70 540.38L231.25 539.50L233.80 538.33L236.34 535.83L238.89 531.94L241.43 527.06" fill="none" stroke="#1d5699" stroke-width="1.7" stroke-dasharray="1.1 0.7" stroke-linejoin="round"/>
<path d="M48.96 528.43L49.18 528.31L49.40 528.19L49.61 528.07L49.83 527.96L50.05 527.84L50.27 527.73L50.49 527.62L50.71 527.52L50.93 527.41L51.15 527.31L51.37 527.22L51.59 527.12L51.81 527.03L52.03 526.94L52.24 526.85L52.46 526.76L52.68 526.68L52.90 526.60L53.12 526.53L53.34 526.46L53.56 526.39L53.78 526.32L54.00 526.26L54.22 526.20L54.44 526.15L54.66 526.10L54.87 526.05L55.09 526.00L55.31 525.95L55.53 525.90L55.75 525.85L55.97 525.81L56.19 525.76L56.41 525.72L56.63 525.68L56.85 525.64L57.07 525.61L57.29 525.58L57.50 525.55L57.72 525.53L57.94 525.51L58.16 525.50L58.38 525.49L58.60 525.50L58.82 525.52L59.04 525.57L59.26 525.63L59.48 525.71L59.70 525.81L59.92 525.92L60.13 526.04L60.35 526.16L60.57 526.29L60.79 526.42L61.01 526.56L61.23 526.68L61.45 526.81L61.67 526.93L61.89 527.03L62.11 527.13L62.33 527.23L62.55 527.33L62.76 527.43L62.98 527.53L63.20 527.63L63.42 527.73L63.64 527.83L63.86 527.93L64.08 528.03L64.30 528.13L64.52 528.23L64.74 528.33L64.96 528.42L65.18 528.52L65.39 528.62L65.61 528.72L65.83 528.82L66.05 528.92L66.27 529.02" fill="none" stroke="#1d5699" stroke-width="1.7" stroke-linejoin="round"/>
<path d="M216.33 544.70L222.10 543.33L227.87 544.11L233.64 539.80L239.41 533.92L242.30 530.00" fill="none" stroke="#1d5699" stroke-width="1.5" stroke-linejoin="round"/>
<path d="M40.30 531.57L46.07 532.55L51.84 533.53L57.61 533.92L63.39 535.10L69.16 536.08L71.18 537.06" fill="none" stroke="#9c1219" stroke-width="2.1" stroke-linejoin="round"/>
<path d="M123.99 525.69L129.76 524.51L135.53 524.12L141.30 523.73L147.07 522.94L152.84 522.55L158.61 523.53L164.39 524.12L173.04 523.73L181.70 524.32L190.36 523.34L199.01 523.92" fill="none" stroke="#9c1219" stroke-width="2.1" stroke-linejoin="round"/>
<path d="M224.99 526.08L230.76 526.47" fill="none" stroke="#9c1219" stroke-width="2.0" stroke-linejoin="round"/>
<path d="M167.27 533.72L173.04 533.92L178.81 534.12" fill="none" stroke="#ee7d14" stroke-width="2.0" stroke-linejoin="round"/>
</g>
<rect x="40.30" y="510.40" width="202.00" height="98.00" fill="none" stroke="#000" stroke-width="1.5"/>
<path d="M40.50 608.40v2.0M40.50 510.40v-2.0M54.50 608.40v5M54.50 510.40v-5M69.50 608.40v2.0M69.50 510.40v-2.0M83.50 608.40v2.0M83.50 510.40v-2.0M98.50 608.40v2.0M98.50 510.40v-2.0M112.50 608.40v5M112.50 510.40v-5M126.50 608.40v2.0M126.50 510.40v-2.0M141.50 608.40v2.0M141.50 510.40v-2.0M155.50 608.40v2.0M155.50 510.40v-2.0M170.50 608.40v5M170.50 510.40v-5M184.50 608.40v2.0M184.50 510.40v-2.0M199.50 608.40v2.0M199.50 510.40v-2.0M213.50 608.40v2.0M213.50 510.40v-2.0M227.50 608.40v5M227.50 510.40v-5M242.50 608.40v2.0M242.50 510.40v-2.0M40.30 608.50h-5.5M242.30 608.50h5.5M40.30 604.50h-2.7M242.30 604.50h2.7M40.30 600.50h-2.7M242.30 600.50h2.7M40.30 596.50h-2.7M242.30 596.50h2.7M40.30 592.50h-2.7M242.30 592.50h2.7M40.30 588.50h-5.5M242.30 588.50h5.5M40.30 584.50h-2.7M242.30 584.50h2.7M40.30 580.50h-2.7M242.30 580.50h2.7M40.30 577.50h-2.7M242.30 577.50h2.7M40.30 573.50h-2.7M242.30 573.50h2.7M40.30 569.50h-5.5M242.30 569.50h5.5M40.30 565.50h-2.7M242.30 565.50h2.7M40.30 561.50h-2.7M242.30 561.50h2.7M40.30 557.50h-2.7M242.30 557.50h2.7M40.30 553.50h-2.7M242.30 553.50h2.7M40.30 549.50h-5.5M242.30 549.50h5.5M40.30 545.50h-2.7M242.30 545.50h2.7M40.30 541.50h-2.7M242.30 541.50h2.7M40.30 537.50h-2.7M242.30 537.50h2.7M40.30 533.50h-2.7M242.30 533.50h2.7M40.30 530.50h-5.5M242.30 530.50h5.5M40.30 526.50h-2.7M242.30 526.50h2.7M40.30 522.50h-2.7M242.30 522.50h2.7M40.30 518.50h-2.7M242.30 518.50h2.7M40.30 514.50h-2.7M242.30 514.50h2.7M40.30 510.50h-5.5M242.30 510.50h5.5" stroke="#000" stroke-width="1.25" fill="none"/>
<text transform="translate(54.73 624.10) scale(0.95 1)" font-size="7.5" text-anchor="middle">20</text>
<text transform="translate(112.44 624.10) scale(0.95 1)" font-size="7.5" text-anchor="middle">40</text>
<text transform="translate(170.16 624.10) scale(0.95 1)" font-size="7.5" text-anchor="middle">60</text>
<text transform="translate(227.87 624.10) scale(0.95 1)" font-size="7.5" text-anchor="middle">80</text>
<text x="30.80" y="610.63" font-size="6.2" text-anchor="end">-40</text>
<text x="30.80" y="591.03" font-size="6.2" text-anchor="end">-30</text>
<text x="30.80" y="571.43" font-size="6.2" text-anchor="end">-20</text>
<text x="30.80" y="551.83" font-size="6.2" text-anchor="end">-10</text>
<text x="30.80" y="532.23" font-size="6.2" text-anchor="end">0</text>
<text x="30.80" y="512.63" font-size="6.2" text-anchor="end">10</text>
<g clip-path="url(#clh)">
<path d="M287.50 528.43L489.20 528.43L489.20 531.96L287.50 531.96Z" fill="#f0f0f0"/>
<path d="M301.91 510.40V608.40M359.54 510.40V608.40M417.16 510.40V608.40M474.79 510.40V608.40M287.50 588.80H489.20M287.50 569.20H489.20M287.50 549.60H489.20M287.50 530.00H489.20" stroke="#c8c8c8" stroke-width="0.85" stroke-dasharray="3 3.6" fill="none"/>
<path d="M287.50 528.04L290.05 527.90L292.61 527.76L295.16 527.62L297.71 527.48L300.27 527.35L302.82 527.23L305.37 527.11L307.93 527.00L310.48 526.90L313.03 526.80L315.58 526.72L318.14 526.65L320.69 526.59L323.24 526.54L325.80 526.50L328.35 526.48L330.90 526.47L333.46 526.48L336.01 526.49L338.56 526.50L341.12 526.52L343.67 526.55L346.22 526.58L348.78 526.61L351.33 526.64L353.88 526.68L356.44 526.72L358.99 526.76L361.54 526.80L364.09 526.84L366.65 526.87L369.20 526.91L371.75 526.94L374.31 526.97L376.86 527.00L379.41 527.02L381.97 527.04L384.52 527.05L387.07 527.06L389.63 527.06L392.18 527.05L394.73 527.04L397.29 527.02L399.84 527.00L402.39 526.97L404.95 526.94L407.50 526.91L410.05 526.87L412.61 526.84L415.16 526.80L417.71 526.76L420.26 526.72L422.82 526.68L425.37 526.64L427.92 526.61L430.48 526.58L433.03 526.55L435.58 526.52L438.14 526.50L440.69 526.49L443.24 526.48L445.80 526.47L448.35 526.47L450.90 526.48L453.46 526.49L456.01 526.51L458.56 526.53L461.12 526.56L463.67 526.59L466.22 526.62L468.77 526.65L471.33 526.70L473.88 526.74L476.43 526.79L478.99 526.84L481.54 526.89L484.09 526.94L486.65 527.00L489.20 527.06" fill="none" stroke="#f8c48e" stroke-width="0.9" stroke-linejoin="round"/>
<path d="M402.76 530.98L403.85 531.13L404.95 531.28L406.04 531.43L407.13 531.58L408.23 531.72L409.32 531.87L410.42 532.02L411.51 532.17L412.61 532.32L413.70 532.47L414.79 532.62L415.89 532.77L416.98 532.92L418.08 533.07L419.17 533.25L420.26 533.43L421.36 533.63L422.45 533.83L423.55 534.02L424.64 534.21L425.74 534.39L426.83 534.55L427.92 534.68L429.02 534.79L430.11 534.86L431.21 534.90L432.30 534.89L433.40 534.86L434.49 534.80L435.58 534.71L436.68 534.62L437.77 534.51L438.87 534.40L439.96 534.29L441.05 534.19L442.15 534.09L443.24 534.01L444.34 533.96L445.43 533.92L446.53 533.92L447.62 533.96L448.71 534.03L449.81 534.13L450.90 534.24L452.00 534.36L453.09 534.50L454.19 534.63L455.28 534.76L456.37 534.87L457.47 534.97L458.56 535.04L459.66 535.09L460.75 535.09L461.84 535.05L462.94 534.95L464.03 534.82L465.13 534.65L466.22 534.45L467.32 534.24L468.41 534.02L469.50 533.80L470.60 533.58L471.69 533.38L472.79 533.19L473.88 533.04L474.98 532.92L476.07 532.82L477.16 532.72L478.26 532.63L479.35 532.54L480.45 532.45L481.54 532.36L482.63 532.29L483.73 532.21L484.82 532.15L485.92 532.09L487.01 532.04L488.11 531.99L489.20 531.96" fill="none" stroke="#c0d4ea" stroke-width="0.9" stroke-linejoin="round"/>
<path d="M402.76 530.00L403.85 530.05L404.95 530.10L406.04 530.15L407.13 530.20L408.23 530.25L409.32 530.30L410.42 530.35L411.51 530.40L412.61 530.46L413.70 530.51L414.79 530.57L415.89 530.62L416.98 530.67L418.08 530.73L419.17 530.79L420.26 530.84L421.36 530.90L422.45 530.96L423.55 531.01L424.64 531.08L425.74 531.15L426.83 531.23L427.92 531.31L429.02 531.39L430.11 531.48L431.21 531.56L432.30 531.63L433.40 531.71L434.49 531.78L435.58 531.83L436.68 531.88L437.77 531.92L438.87 531.95L439.96 531.96L441.05 531.95L442.15 531.93L443.24 531.88L444.34 531.82L445.43 531.75L446.53 531.66L447.62 531.57L448.71 531.48L449.81 531.39L450.90 531.30L452.00 531.21L453.09 531.14L454.19 531.07L455.28 531.02L456.37 530.99L457.47 530.98L458.56 530.98L459.66 530.98L460.75 530.98L461.84 530.98L462.94 530.98L464.03 530.98L465.13 530.98L466.22 530.98L467.32 530.98L468.41 530.98L469.50 530.98L470.60 530.98L471.69 530.98L472.79 530.98L473.88 530.98L474.98 530.98L476.07 530.97L477.16 530.94L478.26 530.90L479.35 530.85L480.45 530.78L481.54 530.70L482.63 530.62L483.73 530.52L484.82 530.43L485.92 530.32L487.01 530.22L488.11 530.11L489.20 530.00" fill="none" stroke="#c0d4ea" stroke-width="0.9" stroke-linejoin="round"/>
<path d="M287.50 530.00L489.20 530.00" fill="none" stroke="#161616" stroke-width="1.6" stroke-dasharray="4.5 2" stroke-linejoin="round"/>
<path d="M287.50 528.82L290.05 528.71L292.61 528.62L295.16 528.55L297.71 528.50L300.27 528.47L302.82 528.45L305.37 528.43L307.93 528.43L310.48 528.46L313.03 528.54L315.58 528.65L318.14 528.78L320.69 528.93L323.24 529.07L325.80 529.21L328.35 529.33L330.90 529.42L333.46 529.48L336.01 529.54L338.56 529.58L341.12 529.63L343.67 529.67L346.22 529.71L348.78 529.75L351.33 529.79L353.88 529.85L356.44 529.91L358.99 529.98L361.54 530.07L364.09 530.20L366.65 530.34L369.20 530.51L371.75 530.71L374.31 530.92L376.86 531.15L379.41 531.39L381.97 531.65L384.52 531.92L387.07 532.21L389.63 532.56L392.18 532.95L394.73 533.38L397.29 533.83L399.84 534.32L402.39 534.83L404.95 535.36L407.50 535.95L410.05 536.60L412.61 537.28L415.16 538.01L417.71 538.78L420.26 539.65L422.82 540.59L425.37 541.55L427.92 542.47L430.48 543.39L433.03 544.37L435.58 545.22L438.14 545.76L440.69 546.12L443.24 546.27L445.80 546.15L448.35 545.86L450.90 545.47L453.46 545.07L456.01 544.70L458.56 544.34L461.12 543.95L463.67 543.48L466.22 542.92L468.77 541.96L471.33 540.94L473.88 540.34L476.43 539.85L478.99 539.61L481.54 539.70L484.09 540.05L486.65 540.67L489.20 541.56" fill="none" stroke="#161616" stroke-width="1.6" stroke-linejoin="round"/>
<path d="M359.54 530.59L384.89 532.94L405.64 536.86L422.93 540.78L434.45 542.94L440.22 542.15L445.98 543.52L451.74 542.74L457.50 543.72L463.27 541.76L469.03 540.78L480.56 539.41L489.20 538.82" fill="none" stroke="#161616" stroke-width="1.2" stroke-linejoin="round"/>
<path d="M286.92 536.27L289.48 536.27L292.04 536.27L294.61 536.27L297.17 536.27L299.73 536.27L302.29 536.27L304.85 536.27L307.41 536.27L309.97 536.27L312.53 536.27L315.09 536.27L317.65 536.27L320.21 536.27L322.77 536.27L325.33 536.27L327.89 536.27L330.45 536.29L333.01 536.32L335.57 536.38L338.13 536.46L340.69 536.55L343.25 536.65L345.81 536.76L348.37 536.88L350.94 537.08L353.50 537.35L356.06 537.62L358.62 537.81L361.18 537.84L363.74 537.84L366.30 537.84L368.86 537.84L371.42 537.84L373.98 537.84L376.54 537.97L379.10 538.70L381.66 539.78L384.22 541.17L386.78 542.48L389.34 543.58L391.90 544.65L394.46 545.86L397.02 547.19L399.58 548.62L402.14 550.18L404.70 551.90L407.27 553.92L409.83 556.25L412.39 558.76L414.95 561.33L417.51 563.81L420.07 566.23L422.63 568.72L425.19 571.14L427.75 573.35L430.31 575.32L432.87 577.40L435.43 579.31L437.99 580.61L440.55 580.96L443.11 580.96L445.67 580.96L448.23 580.96L450.79 580.96L453.35 580.69L455.91 579.97L458.47 579.01L461.03 578.01L463.60 577.04L466.16 575.75L468.72 574.46L471.28 573.54L473.84 573.52L476.40 575.91L478.96 577.82L481.52 577.40L484.08 576.41L486.64 575.53L489.20 575.08" fill="none" stroke="#161616" stroke-width="1.6" stroke-dasharray="1.1 0.7" stroke-linejoin="round"/>
<path d="M286.92 528.82L289.48 528.49L292.04 528.15L294.61 527.79L297.17 527.41L299.73 527.02L302.29 526.62L304.85 526.21L307.41 525.78L309.97 525.34L312.53 524.87L315.09 524.38L317.65 523.87L320.21 523.35L322.77 522.82L325.33 522.30L327.89 521.79L330.45 521.28L333.01 520.75L335.57 520.21L338.13 519.67L340.69 519.14L343.25 518.62L345.81 518.14L348.37 517.71L350.94 517.32L353.50 516.91L356.06 516.58L358.62 516.48L361.18 516.57L363.74 516.76L366.30 517.02L368.86 517.46L371.42 518.26L373.98 519.21L376.54 520.11L379.10 520.99L381.66 522.01L384.22 523.32L386.78 525.52L389.34 528.58L391.90 531.01L394.46 532.69L397.02 533.55L399.58 534.16L402.14 534.74L404.70 535.40L407.27 536.01L409.83 536.61L412.39 537.24L414.95 537.94L417.51 538.73L420.07 539.69L422.63 540.76L425.19 541.88L427.75 542.95L430.31 543.93L432.87 544.85L435.43 545.78L437.99 546.83L440.55 548.33L443.11 550.06L445.67 551.45L448.23 551.95L450.79 551.89L453.35 551.72L455.91 551.45L458.47 551.09L461.03 550.65L463.60 550.11L466.16 549.03L468.72 546.77L471.28 543.97L473.84 541.27L476.40 538.37L478.96 535.45L481.52 533.12L484.08 531.13L486.64 529.41L489.20 528.04" fill="none" stroke="#1d5699" stroke-width="1.7" stroke-dasharray="1.1 0.7" stroke-linejoin="round"/>
<path d="M287.50 531.96L293.26 530.00L301.91 529.02L316.31 529.41" fill="none" stroke="#1d5699" stroke-width="1.8" stroke-linejoin="round"/>
<path d="M293.26 529.41L307.67 528.82L330.72 529.02" fill="none" stroke="#161616" stroke-width="1.8" stroke-linejoin="round"/>
<path d="M287.50 527.84L288.85 527.76L290.20 527.69L291.55 527.61L292.90 527.53L294.25 527.46L295.60 527.39L296.95 527.32L298.30 527.25L299.65 527.19L301.00 527.13L302.34 527.07L303.69 527.01L305.04 526.96L306.39 526.91L307.74 526.86L309.09 526.82L310.44 526.77L311.79 526.73L313.14 526.68L314.49 526.64L315.84 526.60L317.19 526.56L318.54 526.52L319.89 526.49L321.24 526.45L322.59 526.42L323.94 526.39L325.29 526.36L326.64 526.34L327.99 526.31L329.34 526.29L330.68 526.28L332.03 526.26L333.38 526.25L334.73 526.24L336.08 526.23L337.43 526.22L338.78 526.21L340.13 526.21L341.48 526.20L342.83 526.19L344.18 526.19L345.53 526.18L346.88 526.18L348.23 526.17L349.58 526.16L350.93 526.15L352.28 526.15L353.63 526.14L354.98 526.13L356.33 526.11L357.68 526.10L359.03 526.09L360.37 526.07L361.72 526.03L363.07 525.98L364.42 525.92L365.77 525.85L367.12 525.77L368.47 525.69L369.82 525.62L371.17 525.55L372.52 525.49L373.87 525.44L375.22 525.41L376.57 525.39L377.92 525.40L379.27 525.41L380.62 525.43L381.97 525.45L383.32 525.49L384.67 525.54L386.02 525.59L387.37 525.65L388.71 525.72L390.06 525.80L391.41 525.88L392.76 525.98L394.11 526.08" fill="none" stroke="#ee7d14" stroke-width="1.9" stroke-linejoin="round"/>
<path d="M376.82 526.47L378.25 526.54L379.67 526.59L381.09 526.65L382.51 526.69L383.94 526.73L385.36 526.77L386.78 526.80L388.20 526.82L389.63 526.84L391.05 526.85L392.47 526.86L393.89 526.86L395.32 526.86L396.74 526.84L398.16 526.81L399.58 526.76L401.01 526.71L402.43 526.65L403.85 526.59L405.27 526.52L406.70 526.45L408.12 526.39L409.54 526.32L410.96 526.26L412.39 526.20L413.81 526.15L415.23 526.11L416.65 526.09L418.08 526.07L419.50 526.05L420.92 526.04L422.34 526.02L423.77 526.01L425.19 525.99L426.61 525.98L428.03 525.97L429.46 525.96L430.88 525.95L432.30 525.93L433.72 525.93L435.15 525.92L436.57 525.91L437.99 525.90L439.41 525.90L440.84 525.89L442.26 525.89L443.68 525.89L445.10 525.88L446.53 525.88L447.95 525.88L449.37 525.88L450.79 525.88L452.22 525.88L453.64 525.88L455.06 525.88L456.48 525.88L457.91 525.88L459.33 525.88L460.75 525.88L462.17 525.88L463.60 525.88L465.02 525.88L466.44 525.88L467.86 525.88L469.29 525.88L470.71 525.88L472.13 525.88L473.55 525.88L474.98 525.88L476.40 525.88L477.82 525.87L479.24 525.86L480.67 525.84L482.09 525.82L483.51 525.79L484.93 525.77L486.36 525.74L487.78 525.71L489.20 525.69" fill="none" stroke="#ee7d14" stroke-width="1.6" stroke-dasharray="3 1.8" stroke-linejoin="round"/>
<path d="M337.35 525.88L348.01 524.12L358.38 522.55L371.06 520.98L384.89 520.49L392.10 518.83L399.88 518.24L410.25 517.46L417.16 518.63L427.25 519.42L434.45 518.63L443.96 518.44L451.74 519.02L460.67 519.42L463.27 521.96L474.79 521.96L489.20 521.96" fill="none" stroke="#9c1219" stroke-width="2.0" stroke-linejoin="round"/>
<path d="M388.35 522.16L389.63 522.02L390.90 521.88L392.18 521.75L393.46 521.63L394.73 521.51L396.01 521.40L397.29 521.31L398.56 521.22L399.84 521.15L401.12 521.08L402.39 521.04L403.67 521.00L404.95 520.99L406.22 520.99L407.50 521.00L408.78 521.02L410.05 521.05L411.33 521.08L412.61 521.12L413.88 521.17L415.16 521.21L416.43 521.25L417.71 521.29L418.99 521.32L420.26 521.35L421.54 521.37L422.82 521.38L424.09 521.37L425.37 521.37L426.65 521.36L427.92 521.35L429.20 521.34L430.48 521.33L431.75 521.31L433.03 521.30L434.31 521.28L435.58 521.26L436.86 521.25L438.14 521.23L439.41 521.22L440.69 521.21L441.97 521.20L443.24 521.19L444.52 521.18L445.80 521.18L447.07 521.19L448.35 521.20L449.63 521.23L450.90 521.27L452.18 521.32L453.46 521.38L454.73 521.44L456.01 521.51L457.29 521.58L458.56 521.65L459.84 521.73L461.12 521.80L462.39 521.87L463.67 521.94L464.94 522.01L466.22 522.06L467.50 522.11L468.77 522.15L470.05 522.19L471.33 522.22L472.60 522.25L473.88 522.28L475.16 522.31L476.43 522.34L477.71 522.37L478.99 522.40L480.26 522.42L481.54 522.45L482.82 522.47L484.09 522.49L485.37 522.51L486.65 522.53L487.92 522.54L489.20 522.55" fill="none" stroke="#9c1219" stroke-width="1.3" stroke-dasharray="4 2" stroke-linejoin="round"/>
</g>
<rect x="287.50" y="510.40" width="201.70" height="98.00" fill="none" stroke="#000" stroke-width="1.5"/>
<path d="M287.50 608.40v2.0M287.50 510.40v-2.0M301.50 608.40v5M301.50 510.40v-5M316.50 608.40v2.0M316.50 510.40v-2.0M330.50 608.40v2.0M330.50 510.40v-2.0M345.50 608.40v2.0M345.50 510.40v-2.0M359.50 608.40v5M359.50 510.40v-5M373.50 608.40v2.0M373.50 510.40v-2.0M388.50 608.40v2.0M388.50 510.40v-2.0M402.50 608.40v2.0M402.50 510.40v-2.0M417.50 608.40v5M417.50 510.40v-5M431.50 608.40v2.0M431.50 510.40v-2.0M445.50 608.40v2.0M445.50 510.40v-2.0M460.50 608.40v2.0M460.50 510.40v-2.0M474.50 608.40v5M474.50 510.40v-5M489.50 608.40v2.0M489.50 510.40v-2.0M287.50 608.50h-5.5M489.20 608.50h5.5M287.50 604.50h-2.7M489.20 604.50h2.7M287.50 600.50h-2.7M489.20 600.50h2.7M287.50 596.50h-2.7M489.20 596.50h2.7M287.50 592.50h-2.7M489.20 592.50h2.7M287.50 588.50h-5.5M489.20 588.50h5.5M287.50 584.50h-2.7M489.20 584.50h2.7M287.50 580.50h-2.7M489.20 580.50h2.7M287.50 577.50h-2.7M489.20 577.50h2.7M287.50 573.50h-2.7M489.20 573.50h2.7M287.50 569.50h-5.5M489.20 569.50h5.5M287.50 565.50h-2.7M489.20 565.50h2.7M287.50 561.50h-2.7M489.20 561.50h2.7M287.50 557.50h-2.7M489.20 557.50h2.7M287.50 553.50h-2.7M489.20 553.50h2.7M287.50 549.50h-5.5M489.20 549.50h5.5M287.50 545.50h-2.7M489.20 545.50h2.7M287.50 541.50h-2.7M489.20 541.50h2.7M287.50 537.50h-2.7M489.20 537.50h2.7M287.50 533.50h-2.7M489.20 533.50h2.7M287.50 530.50h-5.5M489.20 530.50h5.5M287.50 526.50h-2.7M489.20 526.50h2.7M287.50 522.50h-2.7M489.20 522.50h2.7M287.50 518.50h-2.7M489.20 518.50h2.7M287.50 514.50h-2.7M489.20 514.50h2.7M287.50 510.50h-5.5M489.20 510.50h5.5" stroke="#000" stroke-width="1.25" fill="none"/>
<text transform="translate(301.91 624.10) scale(0.95 1)" font-size="7.5" text-anchor="middle">20</text>
<text transform="translate(359.54 624.10) scale(0.95 1)" font-size="7.5" text-anchor="middle">40</text>
<text transform="translate(417.16 624.10) scale(0.95 1)" font-size="7.5" text-anchor="middle">60</text>
<text transform="translate(474.79 624.10) scale(0.95 1)" font-size="7.5" text-anchor="middle">80</text>
<text x="278.00" y="610.63" font-size="6.2" text-anchor="end">-40</text>
<text x="278.00" y="591.03" font-size="6.2" text-anchor="end">-30</text>
<text x="278.00" y="571.43" font-size="6.2" text-anchor="end">-20</text>
<text x="278.00" y="551.83" font-size="6.2" text-anchor="end">-10</text>
<text x="278.00" y="532.23" font-size="6.2" text-anchor="end">0</text>
<text x="278.00" y="512.63" font-size="6.2" text-anchor="end">10</text>
<text x="38.5" y="46.8" font-size="8.2" font-weight="bold">a)</text>
<text x="282.8" y="46.8" font-size="8.2" font-weight="bold">b)</text>
<text x="38.5" y="191.5" font-size="8.2" font-weight="bold">c)</text>
<text x="282.8" y="191.5" font-size="8.2" font-weight="bold">d)</text>
<text x="40.2" y="362.5" font-size="8.2" font-weight="bold">e)</text>
<text x="287.2" y="362.5" font-size="8.2" font-weight="bold">f)</text>
<text x="40.0" y="504.0" font-size="8.2" font-weight="bold">g)</text>
<text x="287.2" y="504.0" font-size="8.2" font-weight="bold">h)</text>
<text transform="translate(17.2 101.6) rotate(-90)" font-size="8.8" text-anchor="middle">polynya grid cell area (10<tspan font-size="6" dy="-3.5">5</tspan><tspan dy="3.5"> km</tspan><tspan font-size="6" dy="-3.5">2</tspan><tspan dy="3.5">)</tspan></text>
<text transform="translate(16.4 247.2) rotate(-90)" font-size="9.0" text-anchor="middle">N polynyas</text>
<text transform="translate(13.8 418) rotate(-90)" font-size="8.8" text-anchor="middle">area (10<tspan font-size="6" dy="-3.5">5</tspan><tspan dy="3.5"> km</tspan><tspan font-size="6" dy="-3.5">2</tspan><tspan dy="3.5">)</tspan></text>
<text transform="translate(15.0 560.6) rotate(-90)" font-size="9.0" text-anchor="middle">N</text>
<path d="M74 638.5H130" stroke="#1a1a1a" stroke-width="1.2"/>
<text x="131.3" y="641.9" font-size="11.2" fill="#000">NOAA</text>
<path d="M74 651.5H130" stroke="#2166ac" stroke-width="1.2"/>
<text x="131.3" y="654.9" font-size="11.2" fill="#000">OSISAF</text>
<path d="M74 664.5H130" stroke="#f0821e" stroke-width="1.2"/>
<text x="131.3" y="667.9" font-size="11.2" fill="#000">JRA-CESM SIC</text>
<path d="M74 677.5H130" stroke="#a8141e" stroke-width="1.2"/>
<text x="131.3" y="680.9" font-size="11.2" fill="#000">JRA-CESM SIT</text>
<path d="M322 650.0H378" stroke="#000" stroke-width="1.3" stroke-dasharray="3 3.1"/>
<text x="379.3" y="653.2" font-size="9">daily (EASE grid)</text>
<path d="M322 661.0H378" stroke="#000" stroke-width="1.3" stroke-dasharray="8 4"/>
<text x="379.3" y="664.2" font-size="9">daily (model grid)</text>
<path d="M322 672.0H378" stroke="#000" stroke-width="1.3"/>
<text x="379.3" y="675.2" font-size="9">monthly (model grid)</text>
</svg></body></html>
